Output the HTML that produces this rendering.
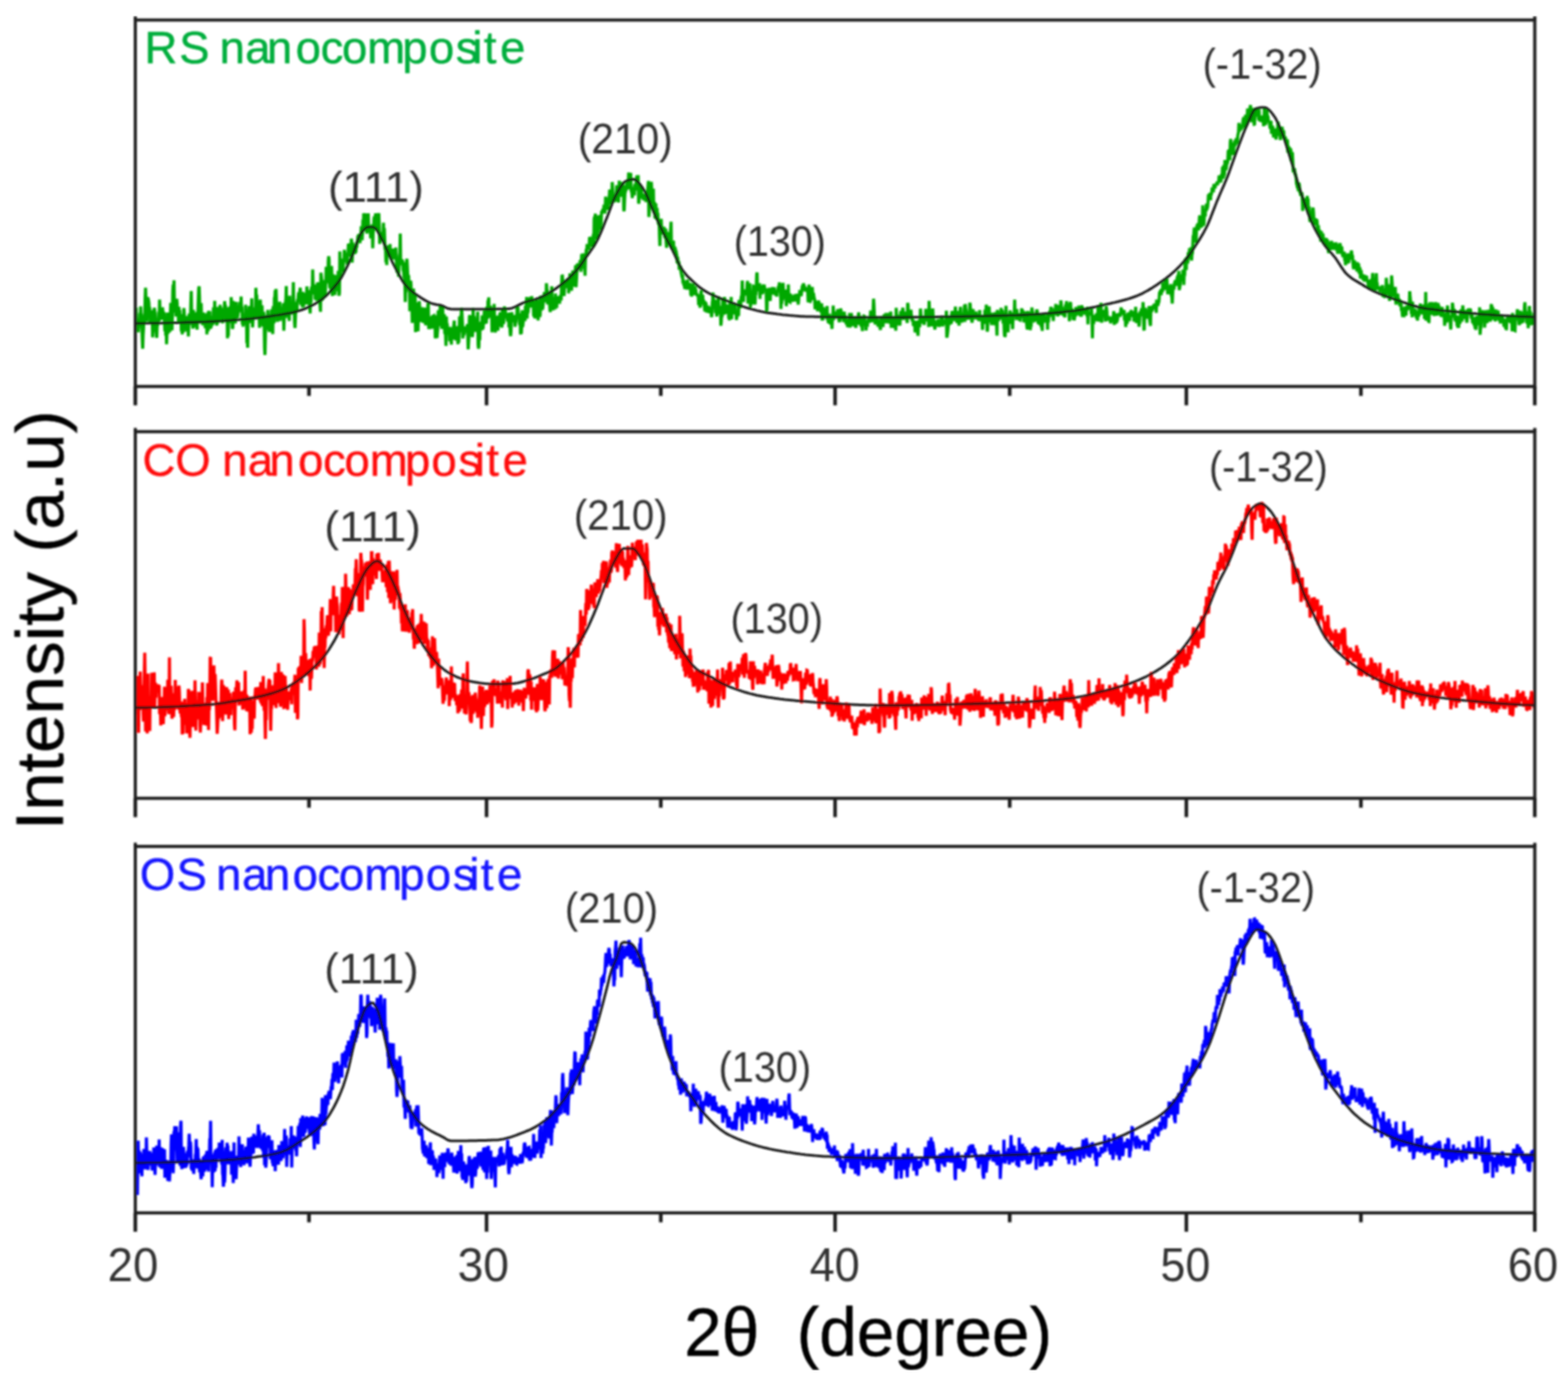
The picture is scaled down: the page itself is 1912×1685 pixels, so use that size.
<!DOCTYPE html><html><head><meta charset="utf-8"><title>XRD patterns</title><style>html,body{margin:0;padding:0;background:#fff;}svg{display:block;}</style></head><body>
<svg width="1912" height="1685" viewBox="0 0 1912 1685" font-family="'Liberation Sans', Arial, sans-serif">
<rect width="1912" height="1685" fill="#fff"/>
<defs><filter id="bl" x="0" y="0" width="1" height="1"><feGaussianBlur stdDeviation="0.8"/></filter></defs><g filter="url(#bl)">
<g><clipPath id="c1"><rect x="165.0" y="24.4" width="1706.5" height="446.8"/></clipPath>
<polyline clip-path="url(#c1)" points="165.5,385.8 166.0,375.1 166.5,397.2 167.0,398.1 167.5,388.8 168.0,394.2 168.5,405.2 169.0,399.3 169.5,395.9 170.0,395.2 170.5,381.5 171.0,396.4 171.5,373.5 172.0,384.1 172.5,382.6 173.0,399.7 173.5,413.2 174.0,425.1 174.5,408.3 175.0,401.0 175.5,384.8 176.0,392.7 176.5,386.8 177.0,363.4 177.5,350.8 178.0,365.9 178.5,385.8 179.0,391.9 179.5,370.1 180.1,362.5 180.6,364.4 181.1,366.1 181.6,369.4 182.1,382.2 182.6,374.5 183.1,393.9 183.6,386.7 184.1,389.5 184.6,394.3 185.1,392.1 185.6,378.2 186.1,411.3 186.6,403.2 187.1,403.7 187.6,384.6 188.1,375.4 188.6,378.5 189.1,382.7 189.6,399.6 190.1,400.4 190.6,405.7 191.1,411.9 191.6,398.3 192.1,396.5 192.6,389.7 193.1,388.6 193.6,380.0 194.1,392.0 194.6,365.2 195.1,380.1 195.6,374.8 196.1,383.9 196.6,389.9 197.1,379.1 197.6,381.0 198.1,374.8 198.6,378.8 199.1,380.2 199.6,382.8 200.1,382.8 200.6,393.8 201.1,404.0 201.6,387.5 202.1,409.2 202.6,395.8 203.1,419.8 203.6,405.6 204.1,381.0 204.6,407.1 205.1,391.0 205.6,405.7 206.1,397.8 206.6,397.7 207.1,404.8 207.6,391.2 208.2,369.2 208.7,374.0 209.2,395.3 209.7,402.8 210.2,384.5 210.7,354.8 211.2,346.8 211.7,362.2 212.2,341.8 212.7,370.8 213.2,381.2 213.7,379.9 214.2,375.9 214.7,386.0 215.2,366.1 215.7,366.1 216.2,372.5 216.7,376.8 217.2,374.1 217.7,394.6 218.2,374.4 218.7,386.4 219.2,378.1 219.7,387.6 220.2,383.3 220.7,385.6 221.2,404.1 221.7,389.4 222.2,407.8 222.7,388.4 223.2,391.5 223.7,405.1 224.2,375.6 224.7,382.5 225.2,396.7 225.7,400.6 226.2,401.5 226.7,394.3 227.2,385.2 227.7,404.2 228.2,400.9 228.7,387.4 229.2,396.8 229.7,410.2 230.2,394.8 230.7,382.4 231.2,387.2 231.7,386.3 232.2,391.1 232.7,370.5 233.2,354.8 233.7,381.9 234.2,396.4 234.7,394.8 235.2,400.7 235.7,377.9 236.2,382.6 236.8,399.2 237.3,382.5 237.8,392.5 238.3,388.2 238.8,381.0 239.3,398.0 239.8,384.0 240.3,401.9 240.8,380.0 241.3,382.4 241.8,366.5 242.3,352.3 242.8,349.0 243.3,362.5 243.8,389.1 244.3,393.9 244.8,393.1 245.3,369.6 245.8,389.2 246.3,392.9 246.8,383.8 247.3,396.7 247.8,381.6 248.3,382.8 248.8,385.3 249.3,386.5 249.8,384.0 250.3,400.1 250.8,382.6 251.3,386.9 251.8,384.8 252.3,407.8 252.8,381.5 253.3,392.7 253.8,403.9 254.3,379.1 254.8,382.5 255.3,387.2 255.8,379.5 256.3,401.1 256.8,387.2 257.3,399.7 257.8,395.1 258.3,390.1 258.8,396.9 259.3,385.4 259.8,395.5 260.3,374.9 260.8,378.7 261.3,394.2 261.8,366.8 262.3,388.0 262.8,381.0 263.3,380.5 263.8,379.9 264.3,396.9 264.8,374.4 265.4,394.1 265.9,391.3 266.4,383.7 266.9,386.0 267.4,391.7 267.9,380.1 268.4,371.5 268.9,385.0 269.4,374.8 269.9,377.4 270.4,380.4 270.9,385.5 271.4,394.1 271.9,382.2 272.4,380.6 272.9,386.7 273.4,382.8 273.9,367.2 274.4,376.4 274.9,371.5 275.4,387.5 275.9,392.5 276.4,385.4 276.9,374.6 277.4,412.4 277.9,398.9 278.4,409.7 278.9,376.5 279.4,376.0 279.9,376.8 280.4,389.1 280.9,384.3 281.4,393.8 281.9,362.3 282.4,377.1 282.9,385.9 283.4,401.0 283.9,398.8 284.4,366.9 284.9,390.2 285.4,390.5 285.9,391.4 286.4,384.5 286.9,394.5 287.4,380.5 287.9,368.1 288.4,384.7 288.9,380.9 289.4,387.7 289.9,385.0 290.4,380.5 290.9,379.7 291.4,379.4 291.9,372.8 292.4,368.3 292.9,371.8 293.5,378.3 294.0,361.6 294.5,377.3 295.0,373.9 295.5,395.4 296.0,390.5 296.5,398.3 297.0,383.2 297.5,395.8 298.0,382.9 298.5,383.8 299.0,386.2 299.5,371.6 300.0,378.0 300.5,377.4 301.0,418.4 301.5,415.5 302.0,423.9 302.5,387.5 303.0,386.7 303.5,385.8 304.0,373.2 304.5,393.9 305.0,383.7 305.5,383.4 306.0,380.5 306.5,377.3 307.0,363.8 307.5,382.9 308.0,399.1 308.5,389.7 309.0,379.7 309.5,374.9 310.0,382.7 310.5,385.6 311.0,381.7 311.5,389.2 312.0,350.9 312.5,366.8 313.0,359.2 313.5,377.0 314.0,378.8 314.5,383.5 315.0,386.6 315.5,380.9 316.0,385.0 316.5,399.7 317.0,367.8 317.5,365.5 318.0,382.9 318.5,375.4 319.0,385.0 319.5,372.4 320.0,387.3 320.5,397.7 321.0,397.1 321.5,380.4 322.1,387.6 322.6,424.6 323.1,432.8 323.6,411.4 324.1,386.1 324.6,402.1 325.1,390.4 325.6,384.8 326.1,400.6 326.6,377.9 327.1,384.5 327.6,396.2 328.1,402.6 328.6,404.6 329.1,387.5 329.6,402.2 330.1,386.0 330.6,394.3 331.1,378.9 331.6,377.5 332.1,398.7 332.6,407.3 333.1,373.2 333.6,377.7 334.1,394.1 334.6,363.6 335.1,363.3 335.6,353.8 336.1,367.9 336.6,352.3 337.1,368.8 337.6,373.6 338.1,392.5 338.6,382.8 339.1,374.0 339.6,378.4 340.1,384.6 340.6,390.2 341.1,367.8 341.6,391.3 342.1,388.2 342.6,375.7 343.1,378.5 343.6,386.0 344.1,380.4 344.6,384.3 345.1,375.3 345.6,369.6 346.1,403.2 346.6,385.5 347.1,385.8 347.6,387.8 348.1,368.4 348.6,364.7 349.1,348.8 349.6,381.1 350.1,382.1 350.7,387.2 351.2,376.3 351.7,383.9 352.2,382.5 352.7,391.3 353.2,360.5 353.7,380.2 354.2,381.5 354.7,383.3 355.2,377.1 355.7,369.8 356.2,380.9 356.7,378.0 357.2,368.3 357.7,344.1 358.2,379.2 358.7,368.1 359.2,393.6 359.7,399.9 360.2,388.8 360.7,373.9 361.2,371.4 361.7,379.3 362.2,377.3 362.7,365.0 363.2,368.3 363.7,361.5 364.2,356.5 364.7,366.2 365.2,359.8 365.7,354.7 366.2,350.8 366.7,371.7 367.2,357.9 367.7,358.2 368.2,366.0 368.7,374.6 369.2,355.7 369.7,374.1 370.2,371.7 370.7,358.4 371.2,358.0 371.7,364.3 372.2,363.3 372.7,361.5 373.2,371.0 373.7,369.3 374.2,349.2 374.7,361.4 375.2,369.1 375.7,357.7 376.2,371.2 376.7,353.5 377.2,365.6 377.7,373.7 378.2,382.2 378.8,358.9 379.3,369.0 379.8,349.6 380.3,356.9 380.8,358.7 381.3,328.6 381.8,349.6 382.3,352.8 382.8,353.4 383.3,356.1 383.8,346.8 384.3,364.9 384.8,361.8 385.3,366.3 385.8,357.7 386.3,348.6 386.8,360.3 387.3,344.3 387.8,346.9 388.3,369.7 388.8,361.3 389.3,356.0 389.8,363.9 390.3,373.2 390.8,380.2 391.3,332.5 391.8,336.8 392.3,340.8 392.8,366.8 393.3,350.6 393.8,364.8 394.3,357.0 394.8,343.5 395.3,341.7 395.8,350.3 396.3,362.6 396.8,354.4 397.3,340.3 397.8,325.4 398.3,332.6 398.8,345.4 399.3,334.4 399.8,345.2 400.3,318.7 400.8,312.5 401.3,316.9 401.8,346.6 402.3,351.6 402.8,343.3 403.3,342.1 403.8,354.5 404.3,324.4 404.8,339.3 405.3,361.0 405.8,340.8 406.3,334.6 406.8,339.5 407.4,338.5 407.9,342.5 408.4,359.6 408.9,335.2 409.4,339.9 409.9,355.2 410.4,345.5 410.9,344.5 411.4,337.8 411.9,346.7 412.4,330.3 412.9,344.2 413.4,360.6 413.9,356.8 414.4,306.6 414.9,338.2 415.4,331.7 415.9,324.2 416.4,326.2 416.9,315.3 417.4,331.3 417.9,330.3 418.4,326.8 418.9,319.1 419.4,319.7 419.9,304.6 420.4,311.7 420.9,312.3 421.4,313.0 421.9,318.7 422.4,310.5 422.9,308.2 423.4,322.8 423.9,311.0 424.4,308.0 424.9,297.0 425.4,301.3 425.9,309.3 426.4,312.6 426.9,296.5 427.4,309.6 427.9,312.1 428.4,291.0 428.9,295.3 429.4,320.3 429.9,303.6 430.4,295.9 430.9,305.1 431.4,300.1 431.9,304.9 432.4,308.8 432.9,308.3 433.4,302.0 433.9,308.2 434.4,298.5 434.9,302.0 435.4,295.6 436.0,294.0 436.5,287.2 437.0,290.4 437.5,285.4 438.0,286.9 438.5,289.0 439.0,296.5 439.5,285.0 440.0,290.8 440.5,275.8 441.0,282.0 441.5,292.9 442.0,285.0 442.5,267.7 443.0,280.3 443.5,260.0 444.0,269.7 444.5,264.5 445.0,260.0 445.5,268.4 446.0,281.5 446.5,280.4 447.0,281.1 447.5,284.8 448.0,261.0 448.5,276.1 449.0,260.0 449.5,274.8 450.0,275.8 450.5,275.0 451.0,282.6 451.5,281.0 452.0,290.6 452.5,284.0 453.0,282.3 453.5,280.0 454.0,273.6 454.5,302.6 455.0,284.1 455.5,280.5 456.0,268.1 456.5,263.8 457.0,279.6 457.5,275.2 458.0,260.0 458.5,266.9 459.0,279.0 459.5,279.2 460.0,272.5 460.5,266.1 461.0,260.0 461.5,262.8 462.0,262.6 462.5,276.2 463.0,297.5 463.5,285.3 464.1,293.8 464.6,286.3 465.1,284.9 465.6,286.1 466.1,282.8 466.6,292.8 467.1,283.4 467.6,271.5 468.1,291.0 468.6,278.1 469.1,291.7 469.6,304.7 470.1,301.4 470.6,320.0 471.1,314.8 471.6,323.1 472.1,299.6 472.6,304.2 473.1,307.5 473.6,307.6 474.1,299.2 474.6,310.8 475.1,310.7 475.6,297.5 476.1,311.6 476.6,309.3 477.1,313.5 477.6,303.1 478.1,309.3 478.6,310.3 479.1,303.1 479.6,316.4 480.1,310.7 480.6,316.4 481.1,306.9 481.6,305.0 482.1,308.0 482.6,301.8 483.1,313.5 483.6,323.3 484.1,332.1 484.6,330.6 485.1,331.8 485.6,331.6 486.1,337.4 486.6,322.3 487.1,311.4 487.6,308.7 488.1,284.7 488.6,320.7 489.1,320.3 489.6,323.3 490.1,317.4 490.6,316.8 491.1,319.8 491.6,330.5 492.1,329.9 492.7,339.0 493.2,319.7 493.7,338.9 494.2,368.3 494.7,348.0 495.2,356.1 495.7,321.7 496.2,315.5 496.7,324.5 497.2,335.9 497.7,338.5 498.2,335.4 498.7,345.0 499.2,344.9 499.7,379.4 500.2,356.7 500.7,342.2 501.2,346.5 501.7,366.9 502.2,370.2 502.7,393.7 503.2,356.1 503.7,365.7 504.2,351.9 504.7,359.3 505.2,373.0 505.7,375.9 506.2,358.0 506.7,404.9 507.2,393.7 507.7,368.8 508.2,379.4 508.7,396.1 509.2,390.7 509.7,403.9 510.2,385.2 510.7,387.5 511.2,367.2 511.7,373.2 512.2,379.6 512.7,389.8 513.2,392.4 513.7,380.1 514.2,374.6 514.7,388.8 515.2,381.3 515.7,388.5 516.2,393.6 516.7,390.4 517.2,378.3 517.7,376.8 518.2,375.2 518.7,392.8 519.2,396.4 519.7,380.4 520.2,384.9 520.7,382.4 521.3,389.1 521.8,370.0 522.3,370.5 522.8,401.2 523.3,399.0 523.8,392.5 524.3,401.2 524.8,388.1 525.3,396.4 525.8,385.9 526.3,387.5 526.8,400.8 527.3,384.5 527.8,390.8 528.3,385.3 528.8,385.0 529.3,394.9 529.8,395.7 530.3,384.2 530.8,412.5 531.3,408.1 531.8,390.1 532.3,400.4 532.8,412.1 533.3,406.2 533.8,401.1 534.3,380.2 534.8,378.5 535.3,388.7 535.8,397.7 536.3,388.7 536.8,372.1 537.3,377.4 537.8,390.0 538.3,389.3 538.8,401.0 539.3,393.7 539.8,373.8 540.3,396.2 540.8,398.2 541.3,386.3 541.8,383.0 542.3,405.8 542.8,406.8 543.3,407.0 543.8,421.7 544.3,385.9 544.8,399.8 545.3,394.3 545.8,403.4 546.3,400.5 546.8,404.8 547.3,407.4 547.8,404.0 548.3,416.1 548.8,398.6 549.4,405.9 549.9,410.2 550.4,420.2 550.9,399.9 551.4,400.7 551.9,414.0 552.4,410.9 552.9,400.1 553.4,396.9 553.9,390.9 554.4,410.1 554.9,410.5 555.4,413.9 555.9,410.4 556.4,415.0 556.9,414.2 557.4,402.5 557.9,397.7 558.4,419.6 558.9,402.4 559.4,417.8 559.9,405.1 560.4,385.7 560.9,405.1 561.4,396.7 561.9,387.0 562.4,382.7 562.9,375.4 563.4,383.5 563.9,394.1 564.4,412.6 564.9,407.5 565.4,407.7 565.9,407.5 566.4,401.5 566.9,398.4 567.4,401.8 567.9,405.4 568.4,397.9 568.9,401.3 569.4,402.6 569.9,395.2 570.4,409.2 570.9,426.0 571.4,417.7 571.9,409.4 572.4,386.8 572.9,384.2 573.4,410.1 573.9,403.7 574.4,398.5 574.9,392.6 575.4,402.6 575.9,411.0 576.4,406.6 576.9,375.5 577.4,400.9 578.0,385.5 578.5,392.7 579.0,403.7 579.5,402.8 580.0,404.2 580.5,400.7 581.0,388.3 581.5,399.6 582.0,390.6 582.5,380.0 583.0,419.8 583.5,425.1 584.0,422.0 584.5,394.2 585.0,414.8 585.5,394.3 586.0,394.0 586.5,399.8 587.0,399.7 587.5,402.8 588.0,384.6 588.5,390.3 589.0,401.4 589.5,394.4 590.0,393.6 590.5,380.2 591.0,379.2 591.5,382.8 592.0,389.8 592.5,393.4 593.0,394.1 593.5,374.0 594.0,387.3 594.5,388.6 595.0,366.3 595.5,366.9 596.0,362.6 596.5,387.4 597.0,373.7 597.5,379.9 598.0,372.8 598.5,382.4 599.0,386.7 599.5,380.2 600.0,405.2 600.5,376.3 601.0,402.9 601.5,395.5 602.0,386.7 602.5,370.6 603.0,385.6 603.5,384.5 604.0,405.4 604.5,395.0 605.0,389.9 605.5,392.2 606.0,385.4 606.6,387.1 607.1,403.3 607.6,389.4 608.1,384.6 608.6,395.4 609.1,396.5 609.6,382.9 610.1,380.9 610.6,398.0 611.1,396.3 611.6,396.9 612.1,399.3 612.6,379.4 613.1,375.9 613.6,394.4 614.1,393.8 614.6,387.9 615.1,373.6 615.6,380.2 616.1,377.7 616.6,383.3 617.1,386.3 617.6,387.2 618.1,382.0 618.6,387.2 619.1,392.1 619.6,388.0 620.1,382.6 620.6,399.3 621.1,381.0 621.6,392.0 622.1,405.0 622.6,409.7 623.1,404.3 623.6,390.2 624.1,380.7 624.6,389.3 625.1,391.7 625.6,392.4 626.1,384.0 626.6,387.0 627.1,391.8 627.6,390.3 628.1,398.4 628.6,392.9 629.1,392.4 629.6,383.9 630.1,387.4 630.6,372.8 631.1,382.8 631.6,374.3 632.1,386.1 632.6,389.0 633.1,386.4 633.6,396.5 634.1,382.0 634.7,407.7 635.2,405.1 635.7,407.0 636.2,397.1 636.7,378.4 637.2,398.6 637.7,395.8 638.2,389.5 638.7,382.0 639.2,384.9 639.7,379.5 640.2,391.4 640.7,372.9 641.2,373.4 641.7,379.8 642.2,362.1 642.7,388.4 643.2,375.5 643.7,381.9 644.2,376.9 644.7,362.6 645.2,373.6 645.7,375.0 646.2,363.1 646.7,363.5 647.2,362.6 647.7,374.8 648.2,361.2 648.7,363.9 649.2,370.2 649.7,372.5 650.2,368.6 650.7,384.3 651.2,385.6 651.7,367.0 652.2,388.3 652.7,379.6 653.2,381.0 653.7,381.6 654.2,366.7 654.7,367.0 655.2,378.2 655.7,369.6 656.2,390.8 656.7,370.4 657.2,379.3 657.7,365.9 658.2,386.4 658.7,383.9 659.2,360.5 659.7,372.1 660.2,369.5 660.7,378.5 661.2,363.5 661.7,377.0 662.2,372.4 662.7,363.9 663.3,361.8 663.8,356.2 664.3,368.5 664.8,364.5 665.3,355.9 665.8,366.2 666.3,345.3 666.8,351.5 667.3,354.1 667.8,371.1 668.3,366.2 668.8,357.2 669.3,363.0 669.8,362.6 670.3,372.7 670.8,380.5 671.3,377.5 671.8,367.5 672.3,372.4 672.8,349.0 673.3,376.0 673.8,363.6 674.3,378.3 674.8,370.0 675.3,372.4 675.8,371.0 676.3,362.1 676.8,377.1 677.3,357.8 677.8,369.0 678.3,373.7 678.8,375.4 679.3,364.2 679.8,365.1 680.3,366.6 680.8,361.2 681.3,366.1 681.8,361.5 682.3,370.4 682.8,365.6 683.3,361.1 683.8,361.0 684.3,366.1 684.8,346.6 685.3,335.4 685.8,336.0 686.3,343.3 686.8,346.8 687.3,357.6 687.8,360.8 688.3,349.8 688.8,350.5 689.3,341.6 689.8,343.9 690.3,345.9 690.8,351.3 691.3,346.1 691.9,340.8 692.4,344.2 692.9,339.2 693.4,357.8 693.9,341.5 694.4,354.6 694.9,333.2 695.4,336.3 695.9,351.1 696.4,339.2 696.9,354.5 697.4,345.5 697.9,349.0 698.4,329.7 698.9,340.9 699.4,337.2 699.9,349.4 700.4,335.3 700.9,337.2 701.4,330.5 701.9,323.5 702.4,350.2 702.9,342.3 703.4,331.7 703.9,321.8 704.4,326.8 704.9,321.0 705.4,322.6 705.9,326.7 706.4,321.8 706.9,328.6 707.4,317.0 707.9,321.1 708.4,331.5 708.9,317.3 709.4,309.5 709.9,328.0 710.4,317.9 710.9,311.1 711.4,309.1 711.9,319.0 712.4,327.4 712.9,322.5 713.4,336.2 713.9,311.7 714.4,312.6 714.9,303.6 715.4,308.1 715.9,297.6 716.4,299.8 716.9,301.6 717.4,300.4 717.9,304.5 718.4,301.1 718.9,289.1 719.4,290.3 720.0,297.7 720.5,300.7 721.0,295.2 721.5,289.0 722.0,292.5 722.5,297.8 723.0,298.4 723.5,285.4 724.0,301.3 724.5,267.4 725.0,263.9 725.5,266.9 726.0,260.5 726.5,286.0 727.0,286.4 727.5,291.6 728.0,289.4 728.5,281.8 729.0,262.9 729.5,283.3 730.0,272.3 730.5,265.7 731.0,270.9 731.5,262.2 732.0,280.2 732.5,273.0 733.0,272.6 733.5,259.4 734.0,259.5 734.5,260.0 735.0,254.7 735.5,256.3 736.0,257.7 736.5,249.7 737.0,252.9 737.5,260.3 738.0,252.6 738.5,239.8 739.0,244.2 739.5,244.8 740.0,245.5 740.5,248.9 741.0,241.4 741.5,256.0 742.0,244.4 742.5,248.2 743.0,239.1 743.5,231.1 744.0,246.2 744.5,247.6 745.0,248.1 745.5,240.6 746.0,241.8 746.5,222.0 747.0,229.5 747.5,239.4 748.0,241.7 748.6,241.3 749.1,243.5 749.6,244.2 750.1,243.2 750.6,243.0 751.1,239.9 751.6,234.8 752.1,225.9 752.6,238.9 753.1,245.5 753.6,239.1 754.1,247.0 754.6,238.2 755.1,220.4 755.6,238.3 756.1,225.3 756.6,229.6 757.1,227.2 757.6,229.3 758.1,239.6 758.6,237.2 759.1,221.8 759.6,233.0 760.1,226.1 760.6,255.9 761.1,257.4 761.6,244.7 762.1,234.3 762.6,233.9 763.1,231.0 763.6,232.2 764.1,223.8 764.6,226.0 765.1,223.0 765.6,223.4 766.1,222.9 766.6,210.4 767.1,222.5 767.6,230.9 768.1,217.5 768.6,223.4 769.1,210.8 769.6,230.9 770.1,230.6 770.6,236.6 771.1,241.5 771.6,228.1 772.1,229.6 772.6,237.5 773.1,231.5 773.6,238.3 774.1,224.2 774.6,232.2 775.1,226.8 775.6,223.4 776.1,218.4 776.7,213.9 777.2,216.2 777.7,226.4 778.2,213.6 778.7,248.3 779.2,246.1 779.7,229.7 780.2,227.2 780.7,238.3 781.2,233.1 781.7,226.1 782.2,236.3 782.7,242.2 783.2,236.0 783.7,237.5 784.2,241.5 784.7,243.9 785.2,242.4 785.7,237.8 786.2,243.7 786.7,238.4 787.2,237.8 787.7,246.3 788.2,236.9 788.7,233.7 789.2,241.7 789.7,233.0 790.2,226.6 790.7,220.6 791.2,264.5 791.7,258.8 792.2,234.0 792.7,225.6 793.2,235.7 793.7,248.6 794.2,221.7 794.7,230.7 795.2,232.8 795.7,235.5 796.2,243.8 796.7,230.1 797.2,256.9 797.7,258.8 798.2,246.3 798.7,266.4 799.2,255.1 799.7,248.1 800.2,262.7 800.7,267.9 801.2,253.5 801.7,265.5 802.2,259.5 802.7,271.8 803.2,273.9 803.7,267.3 804.2,287.7 804.7,299.9 805.3,273.2 805.8,282.0 806.3,266.9 806.8,280.9 807.3,285.8 807.8,282.1 808.3,280.0 808.8,276.3 809.3,285.1 809.8,276.9 810.3,284.7 810.8,290.4 811.3,285.7 811.8,278.8 812.3,294.7 812.8,302.1 813.3,291.8 813.8,293.7 814.3,284.8 814.8,285.1 815.3,286.6 815.8,284.2 816.3,296.6 816.8,285.5 817.3,283.0 817.8,279.3 818.3,270.4 818.8,302.8 819.3,300.0 819.8,294.9 820.3,299.5 820.8,294.3 821.3,294.8 821.8,308.7 822.3,300.9 822.8,302.6 823.3,301.6 823.8,306.2 824.3,305.2 824.8,309.0 825.3,311.1 825.8,321.0 826.3,313.3 826.8,318.2 827.3,322.2 827.8,318.5 828.3,328.8 828.8,327.1 829.3,325.8 829.8,325.8 830.3,330.8 830.8,333.6 831.3,335.8 831.8,338.9 832.3,334.5 832.8,345.7 833.3,340.8 833.9,348.4 834.4,342.4 834.9,352.4 835.4,348.2 835.9,345.1 836.4,348.1 836.9,352.5 837.4,342.4 837.9,353.2 838.4,340.9 838.9,353.2 839.4,347.4 839.9,345.2 840.4,348.9 840.9,345.1 841.4,347.5 841.9,350.1 842.4,360.2 842.9,353.8 843.4,361.6 843.9,352.3 844.4,355.6 844.9,345.5 845.4,357.9 845.9,355.6 846.4,357.2 846.9,359.6 847.4,349.0 847.9,353.7 848.4,352.4 848.9,358.7 849.4,357.8 849.9,359.6 850.4,359.6 850.9,360.0 851.4,360.2 851.9,372.0 852.4,366.7 852.9,360.1 853.4,373.8 853.9,374.7 854.4,370.7 854.9,354.0 855.4,362.0 855.9,370.3 856.4,366.3 856.9,359.4 857.4,369.7 857.9,365.3 858.4,371.5 858.9,372.2 859.4,379.7 859.9,367.4 860.4,379.4 860.9,369.0 861.4,381.0 862.0,378.7 862.5,378.7 863.0,377.3 863.5,372.6 864.0,378.3 864.5,378.6 865.0,381.7 865.5,376.3 866.0,376.1 866.5,380.8 867.0,376.6 867.5,386.6 868.0,384.3 868.5,370.2 869.0,365.7 869.5,356.7 870.0,373.9 870.5,365.2 871.0,367.3 871.5,372.4 872.0,374.7 872.5,381.8 873.0,378.4 873.5,375.6 874.0,385.9 874.5,365.6 875.0,371.1 875.5,378.3 876.0,361.1 876.5,373.6 877.0,383.2 877.5,380.4 878.0,374.5 878.5,374.7 879.0,397.1 879.5,392.5 880.0,380.4 880.5,386.6 881.0,375.3 881.5,363.6 882.0,371.9 882.5,367.2 883.0,369.3 883.5,362.1 884.0,382.1 884.5,382.5 885.0,371.0 885.5,374.4 886.0,372.8 886.5,374.3 887.0,381.1 887.5,374.5 888.0,371.4 888.5,388.2 889.0,387.3 889.5,390.4 890.0,371.1 890.6,369.1 891.1,383.1 891.6,362.1 892.1,389.3 892.6,370.9 893.1,374.8 893.6,374.3 894.1,378.3 894.6,371.7 895.1,373.1 895.6,373.5 896.1,383.4 896.6,372.4 897.1,381.8 897.6,381.2 898.1,390.1 898.6,379.6 899.1,386.0 899.6,384.5 900.1,382.7 900.6,385.1 901.1,365.8 901.6,375.9 902.1,369.8 902.6,368.0 903.1,375.4 903.6,363.6 904.1,361.3 904.6,360.8 905.1,342.1 905.6,358.6 906.1,353.5 906.6,368.1 907.1,352.9 907.6,359.1 908.1,356.9 908.6,355.1 909.1,357.0 909.6,353.9 910.1,360.1 910.6,358.0 911.1,345.9 911.6,342.6 912.1,370.1 912.6,346.9 913.1,360.9 913.6,358.3 914.1,345.4 914.6,358.2 915.1,374.6 915.6,368.5 916.1,357.1 916.6,366.1 917.1,362.7 917.6,371.2 918.1,359.8 918.6,348.8 919.2,349.0 919.7,348.1 920.2,364.0 920.7,371.3 921.2,356.1 921.7,359.9 922.2,349.5 922.7,335.0 923.2,332.2 923.7,355.2 924.2,346.6 924.7,350.0 925.2,349.2 925.7,352.6 926.2,345.2 926.7,364.5 927.2,347.9 927.7,349.7 928.2,355.5 928.7,348.4 929.2,357.7 929.7,357.3 930.2,357.7 930.7,348.1 931.2,347.6 931.7,350.2 932.2,349.8 932.7,352.7 933.2,354.5 933.7,353.5 934.2,351.6 934.7,378.1 935.2,379.2 935.7,360.6 936.2,359.8 936.7,359.5 937.2,366.2 937.7,354.7 938.2,351.0 938.7,356.5 939.2,366.8 939.7,355.1 940.2,355.0 940.7,354.7 941.2,357.4 941.7,351.9 942.2,350.3 942.7,355.4 943.2,358.9 943.7,355.7 944.2,350.5 944.7,357.4 945.2,354.8 945.7,360.3 946.2,355.2 946.7,357.1 947.3,361.5 947.8,356.6 948.3,354.5 948.8,352.6 949.3,348.8 949.8,355.1 950.3,344.3 950.8,347.8 951.3,345.8 951.8,353.7 952.3,376.8 952.8,359.3 953.3,370.4 953.8,354.6 954.3,366.8 954.8,344.9 955.3,354.4 955.8,363.2 956.3,361.3 956.8,364.2 957.3,353.0 957.8,361.0 958.3,359.1 958.8,373.3 959.3,364.0 959.8,364.0 960.3,360.3 960.8,369.3 961.3,346.7 961.8,364.0 962.3,357.5 962.8,368.0 963.3,368.3 963.8,358.4 964.3,360.3 964.8,366.6 965.3,363.9 965.8,360.1 966.3,365.4 966.8,367.8 967.3,363.6 967.8,360.6 968.3,364.2 968.8,360.3 969.3,359.2 969.8,362.4 970.3,367.0 970.8,366.5 971.3,360.7 971.8,358.3 972.3,360.0 972.8,361.3 973.3,371.3 973.8,366.8 974.3,359.3 974.8,360.9 975.3,353.7 975.9,358.1 976.4,359.1 976.9,360.9 977.4,357.6 977.9,352.4 978.4,348.3 978.9,349.6 979.4,346.0 979.9,346.6 980.4,348.2 980.9,349.2 981.4,355.0 981.9,351.6 982.4,352.7 982.9,355.4 983.4,351.7 983.9,350.5 984.4,354.7 984.9,353.7 985.4,367.3 985.9,367.9 986.4,347.1 986.9,349.5 987.4,368.4 987.9,368.0 988.4,365.8 988.9,364.0 989.4,365.9 989.9,354.6 990.4,350.0 990.9,356.4 991.4,363.3 991.9,357.3 992.4,360.7 992.9,364.0 993.4,364.9 993.9,377.2 994.4,366.6 994.9,373.1 995.4,372.6 995.9,370.2 996.4,369.8 996.9,378.1 997.4,379.3 997.9,366.5 998.4,368.5 998.9,369.2 999.4,374.7 999.9,372.0 1000.4,370.9 1000.9,380.8 1001.4,375.6 1001.9,369.7 1002.4,388.7 1002.9,388.6 1003.4,390.6 1003.9,374.8 1004.5,376.6 1005.0,378.8 1005.5,385.1 1006.0,380.7 1006.5,386.0 1007.0,387.8 1007.5,377.4 1008.0,384.5 1008.5,373.0 1009.0,390.5 1009.5,384.9 1010.0,394.0 1010.5,391.2 1011.0,394.2 1011.5,382.5 1012.0,394.9 1012.5,394.5 1013.0,386.0 1013.5,391.1 1014.0,394.3 1014.5,401.0 1015.0,387.1 1015.5,389.6 1016.0,372.6 1016.5,390.3 1017.0,380.1 1017.5,383.1 1018.0,386.0 1018.5,384.8 1019.0,382.6 1019.5,382.1 1020.0,380.4 1020.5,387.9 1021.0,383.4 1021.5,376.8 1022.0,385.7 1022.5,386.2 1023.0,390.3 1023.5,392.9 1024.0,385.2 1024.5,392.5 1025.0,376.1 1025.5,378.3 1026.0,385.7 1026.5,388.4 1027.0,387.4 1027.5,379.9 1028.0,388.7 1028.5,383.3 1029.0,392.6 1029.5,380.1 1030.0,393.0 1030.5,384.5 1031.0,388.8 1031.5,392.2 1032.0,395.5 1032.6,388.9 1033.1,393.5 1033.6,398.9 1034.1,393.5 1034.6,396.4 1035.1,393.6 1035.6,399.3 1036.1,381.5 1036.6,399.4 1037.1,393.0 1037.6,392.3 1038.1,381.7 1038.6,387.8 1039.1,388.2 1039.6,397.7 1040.1,391.2 1040.6,388.3 1041.1,391.9 1041.6,389.6 1042.1,387.6 1042.6,386.8 1043.1,397.2 1043.6,399.6 1044.1,391.5 1044.6,393.3 1045.1,395.7 1045.6,389.1 1046.1,392.5 1046.6,384.6 1047.1,381.0 1047.6,386.9 1048.1,396.1 1048.6,390.6 1049.1,385.4 1049.6,394.1 1050.1,398.4 1050.6,388.5 1051.1,396.1 1051.6,403.7 1052.1,391.5 1052.6,393.7 1053.1,389.3 1053.6,385.5 1054.1,385.7 1054.6,396.8 1055.1,394.7 1055.6,391.7 1056.1,402.8 1056.6,392.1 1057.1,394.9 1057.6,398.4 1058.1,391.6 1058.6,389.6 1059.1,391.4 1059.6,387.9 1060.1,392.8 1060.6,392.1 1061.2,387.0 1061.7,378.5 1062.2,385.0 1062.7,380.5 1063.2,384.1 1063.7,387.3 1064.2,392.8 1064.7,377.1 1065.2,364.2 1065.7,371.6 1066.2,383.4 1066.7,387.5 1067.2,395.6 1067.7,390.9 1068.2,390.2 1068.7,386.7 1069.2,386.1 1069.7,388.4 1070.2,393.2 1070.7,398.3 1071.2,394.0 1071.7,390.7 1072.2,391.5 1072.7,395.8 1073.2,400.6 1073.7,402.3 1074.2,388.1 1074.7,385.6 1075.2,396.7 1075.7,395.8 1076.2,396.3 1076.7,398.7 1077.2,388.8 1077.7,393.0 1078.2,383.2 1078.7,393.9 1079.2,386.9 1079.7,386.5 1080.2,381.7 1080.7,393.9 1081.2,392.0 1081.7,390.9 1082.2,381.6 1082.7,384.8 1083.2,394.0 1083.7,388.5 1084.2,390.3 1084.7,391.2 1085.2,387.6 1085.7,394.9 1086.2,379.9 1086.7,397.4 1087.2,397.2 1087.7,392.0 1088.2,393.7 1088.7,389.9 1089.2,399.9 1089.8,388.9 1090.3,388.0 1090.8,395.5 1091.3,391.7 1091.8,393.3 1092.3,403.2 1092.8,375.2 1093.3,388.2 1093.8,389.9 1094.3,395.3 1094.8,395.9 1095.3,394.1 1095.8,383.8 1096.3,390.3 1096.8,391.6 1097.3,397.0 1097.8,388.0 1098.3,379.5 1098.8,380.6 1099.3,379.2 1099.8,389.5 1100.3,386.9 1100.8,375.1 1101.3,380.5 1101.8,390.1 1102.3,379.8 1102.8,387.4 1103.3,383.9 1103.8,387.2 1104.3,384.3 1104.8,380.3 1105.3,382.4 1105.8,389.2 1106.3,393.7 1106.8,369.4 1107.3,372.0 1107.8,388.1 1108.3,379.9 1108.8,380.2 1109.3,388.2 1109.8,387.5 1110.3,382.0 1110.8,377.7 1111.3,384.5 1111.8,385.8 1112.3,391.9 1112.8,389.0 1113.3,391.5 1113.8,397.3 1114.3,396.0 1114.8,391.9 1115.3,391.5 1115.8,405.3 1116.3,402.7 1116.8,391.2 1117.3,394.8 1117.9,391.7 1118.4,403.6 1118.9,403.9 1119.4,409.4 1119.9,395.7 1120.4,390.5 1120.9,391.8 1121.4,398.8 1121.9,392.1 1122.4,376.2 1122.9,382.4 1123.4,389.7 1123.9,394.4 1124.4,388.9 1124.9,390.6 1125.4,388.4 1125.9,386.3 1126.4,388.8 1126.9,396.0 1127.4,390.1 1127.9,386.1 1128.4,391.9 1128.9,376.6 1129.4,385.8 1129.9,381.3 1130.4,379.2 1130.9,382.3 1131.4,384.3 1131.9,380.3 1132.4,398.8 1132.9,366.9 1133.4,377.7 1133.9,378.4 1134.4,397.9 1134.9,392.2 1135.4,388.2 1135.9,388.3 1136.4,393.8 1136.9,384.0 1137.4,376.1 1137.9,385.9 1138.4,398.1 1138.9,396.9 1139.4,389.6 1139.9,401.8 1140.4,396.4 1140.9,393.3 1141.4,393.6 1141.9,397.1 1142.4,393.6 1142.9,393.2 1143.4,398.0 1143.9,389.0 1144.4,394.9 1144.9,394.7 1145.4,398.6 1145.9,394.6 1146.5,396.3 1147.0,396.2 1147.5,396.7 1148.0,386.8 1148.5,388.5 1149.0,388.5 1149.5,398.0 1150.0,393.9 1150.5,391.0 1151.0,391.5 1151.5,389.4 1152.0,395.9 1152.5,389.3 1153.0,394.1 1153.5,392.7 1154.0,378.7 1154.5,411.6 1155.0,409.0 1155.5,405.8 1156.0,401.0 1156.5,394.9 1157.0,388.2 1157.5,385.2 1158.0,396.0 1158.5,389.7 1159.0,390.9 1159.5,392.4 1160.0,395.0 1160.5,382.8 1161.0,379.2 1161.5,391.7 1162.0,384.2 1162.5,386.3 1163.0,388.6 1163.5,391.3 1164.0,380.4 1164.5,381.3 1165.0,373.9 1165.5,385.2 1166.0,384.1 1166.5,384.9 1167.0,393.8 1167.5,380.8 1168.0,379.3 1168.5,382.9 1169.0,391.6 1169.5,397.0 1170.0,384.9 1170.5,392.7 1171.0,374.2 1171.5,376.4 1172.0,385.7 1172.5,393.4 1173.0,386.4 1173.5,392.6 1174.0,385.0 1174.5,387.8 1175.1,381.3 1175.6,387.8 1176.1,371.5 1176.6,392.4 1177.1,370.7 1177.6,375.9 1178.1,378.1 1178.6,381.9 1179.1,383.5 1179.6,380.2 1180.1,389.8 1180.6,383.9 1181.1,381.5 1181.6,385.3 1182.1,389.6 1182.6,369.0 1183.1,371.7 1183.6,380.8 1184.1,386.1 1184.6,384.5 1185.1,393.3 1185.6,391.7 1186.1,378.1 1186.6,377.2 1187.1,386.3 1187.6,389.0 1188.1,383.5 1188.6,387.2 1189.1,381.9 1189.6,389.3 1190.1,379.8 1190.6,387.1 1191.1,389.0 1191.6,385.1 1192.1,386.2 1192.6,386.4 1193.1,390.4 1193.6,382.4 1194.1,391.6 1194.6,378.0 1195.1,391.4 1195.6,386.8 1196.1,389.2 1196.6,390.7 1197.1,387.2 1197.6,391.6 1198.1,402.1 1198.6,386.4 1199.1,391.4 1199.6,393.5 1200.1,394.5 1200.6,388.5 1201.1,377.6 1201.6,387.8 1202.1,387.4 1202.6,371.5 1203.2,377.1 1203.7,404.3 1204.2,402.6 1204.7,386.3 1205.2,392.6 1205.7,382.7 1206.2,373.6 1206.7,386.6 1207.2,384.8 1207.7,384.2 1208.2,393.1 1208.7,384.7 1209.2,396.4 1209.7,390.6 1210.2,381.4 1210.7,391.2 1211.2,381.9 1211.7,390.2 1212.2,396.4 1212.7,392.4 1213.2,384.8 1213.7,380.6 1214.2,386.6 1214.7,381.3 1215.2,395.7 1215.7,409.1 1216.2,377.9 1216.7,386.0 1217.2,390.0 1217.7,391.5 1218.2,380.8 1218.7,386.1 1219.2,379.9 1219.7,383.3 1220.2,388.7 1220.7,375.3 1221.2,385.1 1221.7,389.5 1222.2,378.0 1222.7,382.5 1223.2,394.5 1223.7,387.9 1224.2,392.9 1224.7,406.6 1225.2,410.6 1225.7,409.5 1226.2,391.1 1226.7,372.8 1227.2,395.4 1227.7,387.8 1228.2,389.7 1228.7,390.7 1229.2,405.2 1229.7,386.9 1230.2,391.3 1230.7,394.7 1231.2,381.9 1231.8,378.6 1232.3,384.3 1232.8,386.2 1233.3,386.6 1233.8,384.8 1234.3,392.0 1234.8,401.3 1235.3,384.4 1235.8,381.2 1236.3,383.8 1236.8,382.3 1237.3,365.4 1237.8,383.2 1238.3,380.6 1238.8,381.2 1239.3,390.3 1239.8,376.9 1240.3,383.1 1240.8,383.3 1241.3,390.0 1241.8,382.2 1242.3,388.5 1242.8,388.9 1243.3,390.1 1243.8,390.3 1244.3,385.8 1244.8,381.9 1245.3,384.0 1245.8,375.8 1246.3,387.7 1246.8,377.8 1247.3,380.7 1247.8,379.9 1248.3,391.0 1248.8,391.2 1249.3,392.9 1249.8,388.3 1250.3,384.1 1250.8,379.6 1251.3,387.5 1251.8,393.7 1252.3,398.9 1252.8,401.7 1253.3,381.0 1253.8,379.7 1254.3,382.1 1254.8,387.8 1255.3,394.4 1255.8,387.7 1256.3,402.5 1256.8,396.8 1257.3,398.6 1257.8,385.1 1258.3,374.9 1258.8,381.7 1259.3,381.5 1259.8,384.5 1260.4,389.7 1260.9,386.6 1261.4,390.9 1261.9,390.6 1262.4,391.4 1262.9,387.8 1263.4,389.7 1263.9,380.2 1264.4,377.2 1264.9,380.6 1265.4,387.4 1265.9,395.0 1266.4,390.6 1266.9,383.8 1267.4,394.8 1267.9,395.0 1268.4,393.3 1268.9,383.5 1269.4,393.3 1269.9,399.3 1270.4,396.9 1270.9,403.4 1271.4,382.5 1271.9,384.3 1272.4,388.6 1272.9,386.7 1273.4,383.3 1273.9,389.9 1274.4,386.9 1274.9,391.0 1275.4,390.7 1275.9,390.3 1276.4,385.0 1276.9,386.0 1277.4,401.9 1277.9,381.3 1278.4,393.0 1278.9,386.1 1279.4,385.4 1279.9,379.1 1280.4,381.0 1280.9,379.9 1281.4,374.1 1281.9,376.1 1282.4,386.5 1282.9,375.6 1283.4,380.6 1283.9,384.0 1284.4,391.4 1284.9,380.9 1285.4,378.5 1285.9,377.8 1286.4,384.4 1286.9,378.4 1287.4,370.7 1287.9,375.1 1288.5,379.3 1289.0,383.6 1289.5,376.8 1290.0,385.8 1290.5,371.7 1291.0,377.0 1291.5,379.8 1292.0,378.3 1292.5,377.2 1293.0,384.2 1293.5,366.2 1294.0,369.1 1294.5,380.3 1295.0,374.1 1295.5,381.4 1296.0,382.2 1296.5,382.1 1297.0,385.1 1297.5,376.5 1298.0,382.2 1298.5,387.0 1299.0,374.2 1299.5,371.0 1300.0,380.1 1300.5,367.1 1301.0,378.7 1301.5,376.0 1302.0,380.9 1302.5,372.9 1303.0,369.8 1303.5,379.1 1304.0,391.6 1304.5,372.1 1305.0,369.4 1305.5,368.6 1306.0,379.2 1306.5,383.0 1307.0,376.2 1307.5,381.8 1308.0,383.8 1308.5,390.2 1309.0,381.7 1309.5,378.7 1310.0,390.7 1310.5,384.2 1311.0,386.7 1311.5,378.7 1312.0,374.4 1312.5,379.3 1313.0,382.6 1313.5,383.4 1314.0,384.2 1314.5,376.6 1315.0,380.3 1315.5,372.5 1316.0,375.1 1316.5,378.1 1317.1,379.9 1317.6,385.8 1318.1,383.0 1318.6,386.1 1319.1,372.0 1319.6,380.8 1320.1,374.3 1320.6,383.6 1321.1,377.9 1321.6,380.9 1322.1,383.5 1322.6,380.7 1323.1,376.1 1323.6,377.9 1324.1,377.1 1324.6,378.8 1325.1,380.3 1325.6,386.2 1326.1,374.1 1326.6,395.4 1327.1,383.4 1327.6,384.7 1328.1,381.7 1328.6,382.9 1329.1,383.6 1329.6,382.0 1330.1,382.4 1330.6,376.6 1331.1,378.4 1331.6,385.9 1332.1,412.4 1332.6,386.6 1333.1,392.0 1333.6,395.1 1334.1,384.8 1334.6,385.6 1335.1,384.0 1335.6,390.0 1336.1,389.9 1336.6,391.3 1337.1,381.8 1337.6,385.6 1338.1,382.5 1338.6,386.2 1339.1,372.2 1339.6,392.2 1340.1,380.6 1340.6,387.4 1341.1,379.5 1341.6,385.2 1342.1,381.6 1342.6,369.2 1343.1,391.6 1343.6,393.2 1344.1,380.7 1344.6,384.1 1345.2,379.5 1345.7,381.2 1346.2,379.3 1346.7,378.4 1347.2,380.5 1347.7,386.4 1348.2,392.0 1348.7,373.5 1349.2,375.7 1349.7,379.1 1350.2,390.3 1350.7,387.2 1351.2,391.0 1351.7,386.7 1352.2,385.9 1352.7,388.7 1353.2,387.6 1353.7,387.7 1354.2,394.0 1354.7,392.2 1355.2,388.4 1355.7,386.8 1356.2,390.4 1356.7,391.5 1357.2,387.0 1357.7,384.0 1358.2,379.4 1358.7,396.2 1359.2,388.3 1359.7,387.2 1360.2,391.7 1360.7,394.7 1361.2,382.0 1361.7,393.1 1362.2,391.1 1362.7,389.6 1363.2,382.5 1363.7,383.1 1364.2,385.4 1364.7,383.6 1365.2,382.2 1365.7,385.9 1366.2,384.2 1366.7,378.5 1367.2,374.8 1367.7,381.5 1368.2,382.2 1368.7,377.8 1369.2,379.3 1369.7,378.1 1370.2,384.1 1370.7,378.2 1371.2,390.6 1371.7,386.3 1372.2,389.1 1372.7,398.6 1373.2,390.2 1373.8,383.1 1374.3,394.9 1374.8,389.2 1375.3,382.6 1375.8,382.1 1376.3,386.4 1376.8,384.3 1377.3,391.5 1377.8,380.4 1378.3,385.4 1378.8,384.2 1379.3,377.8 1379.8,383.7 1380.3,381.0 1380.8,381.1 1381.3,382.1 1381.8,386.9 1382.3,384.6 1382.8,392.1 1383.3,382.3 1383.8,379.4 1384.3,386.1 1384.8,374.0 1385.3,391.1 1385.8,393.7 1386.3,390.4 1386.8,386.7 1387.3,383.5 1387.8,387.6 1388.3,381.6 1388.8,398.1 1389.3,395.2 1389.8,387.7 1390.3,379.4 1390.8,385.5 1391.3,381.7 1391.8,378.3 1392.3,378.6 1392.8,381.8 1393.3,382.5 1393.8,368.3 1394.3,377.1 1394.8,401.5 1395.3,402.7 1395.8,380.8 1396.3,377.8 1396.8,375.3 1397.3,386.4 1397.8,377.9 1398.3,381.8 1398.8,384.6 1399.3,388.2 1399.8,386.2 1400.3,383.0 1400.8,380.7 1401.3,373.0 1401.8,390.0 1402.4,394.7 1402.9,397.3 1403.4,374.1 1403.9,374.5 1404.4,379.5 1404.9,378.6 1405.4,376.6 1405.9,374.9 1406.4,372.4 1406.9,376.2 1407.4,370.5 1407.9,373.3 1408.4,377.2 1408.9,369.9 1409.4,371.8 1409.9,381.5 1410.4,365.4 1410.9,367.3 1411.4,369.2 1411.9,372.9 1412.4,368.8 1412.9,369.5 1413.4,365.6 1413.9,357.0 1414.4,356.1 1414.9,356.8 1415.4,356.8 1415.9,359.9 1416.4,352.0 1416.9,354.7 1417.4,356.5 1417.9,344.8 1418.4,353.4 1418.9,352.3 1419.4,350.4 1419.9,350.0 1420.4,342.6 1420.9,346.3 1421.4,353.3 1421.9,340.7 1422.4,349.0 1422.9,340.2 1423.4,350.7 1423.9,358.7 1424.4,354.0 1424.9,358.1 1425.4,350.5 1425.9,348.9 1426.4,358.6 1426.9,356.2 1427.4,346.9 1427.9,347.9 1428.4,361.5 1428.9,360.7 1429.4,370.2 1429.9,358.9 1430.5,348.5 1431.0,350.0 1431.5,353.2 1432.0,346.0 1432.5,344.1 1433.0,343.1 1433.5,341.8 1434.0,344.4 1434.5,348.4 1435.0,343.4 1435.5,337.4 1436.0,338.0 1436.5,335.1 1437.0,337.3 1437.5,330.3 1438.0,353.8 1438.5,350.6 1439.0,347.7 1439.5,335.6 1440.0,336.0 1440.5,337.4 1441.0,337.6 1441.5,342.0 1442.0,341.6 1442.5,328.9 1443.0,339.2 1443.5,347.5 1444.0,333.6 1444.5,336.7 1445.0,322.7 1445.5,315.1 1446.0,325.6 1446.5,329.3 1447.0,313.4 1447.5,319.7 1448.0,320.9 1448.5,319.1 1449.0,307.6 1449.5,315.4 1450.0,311.2 1450.5,302.5 1451.0,306.1 1451.5,308.6 1452.0,308.4 1452.5,301.3 1453.0,317.7 1453.5,309.3 1454.0,308.7 1454.5,297.2 1455.0,286.8 1455.5,289.2 1456.0,281.3 1456.5,277.6 1457.0,279.7 1457.5,291.9 1458.0,293.7 1458.5,295.6 1459.1,277.8 1459.6,274.5 1460.1,278.0 1460.6,272.1 1461.1,275.8 1461.6,280.9 1462.1,274.4 1462.6,264.9 1463.1,262.8 1463.6,277.5 1464.1,276.2 1464.6,272.3 1465.1,276.9 1465.6,273.2 1466.1,273.1 1466.6,250.3 1467.1,273.5 1467.6,275.3 1468.1,272.0 1468.6,263.7 1469.1,262.3 1469.6,263.9 1470.1,254.6 1470.6,258.0 1471.1,248.3 1471.6,255.9 1472.1,253.3 1472.6,252.2 1473.1,246.1 1473.6,236.8 1474.1,241.7 1474.6,239.9 1475.1,236.5 1475.6,235.6 1476.1,244.1 1476.6,235.4 1477.1,237.6 1477.6,234.6 1478.1,228.6 1478.6,232.6 1479.1,229.5 1479.6,234.5 1480.1,226.4 1480.6,224.4 1481.1,229.0 1481.6,229.5 1482.1,225.5 1482.6,224.7 1483.1,226.1 1483.6,224.1 1484.1,221.6 1484.6,225.7 1485.1,221.2 1485.6,223.5 1486.1,220.7 1486.6,213.9 1487.1,215.9 1487.7,220.3 1488.2,216.3 1488.7,222.5 1489.2,214.2 1489.7,212.5 1490.2,218.5 1490.7,203.3 1491.2,206.6 1491.7,217.6 1492.2,201.3 1492.7,214.6 1493.2,210.2 1493.7,195.1 1494.2,200.2 1494.7,207.1 1495.2,205.8 1495.7,201.9 1496.2,198.2 1496.7,199.9 1497.2,195.4 1497.7,183.3 1498.2,187.2 1498.7,182.1 1499.2,187.4 1499.7,195.4 1500.2,173.6 1500.7,169.4 1501.2,179.1 1501.7,173.8 1502.2,183.1 1502.7,183.9 1503.2,189.0 1503.7,182.6 1504.2,188.3 1504.7,175.6 1505.2,179.5 1505.7,171.1 1506.2,176.5 1506.7,177.2 1507.2,168.5 1507.7,170.4 1508.2,169.2 1508.7,175.2 1509.2,166.5 1509.7,163.5 1510.2,161.9 1510.7,149.9 1511.2,158.1 1511.7,160.7 1512.2,155.0 1512.7,154.6 1513.2,155.6 1513.7,158.3 1514.2,154.3 1514.7,153.2 1515.2,152.7 1515.8,146.1 1516.3,144.3 1516.8,143.1 1517.3,148.3 1517.8,150.0 1518.3,156.7 1518.8,139.9 1519.3,142.5 1519.8,147.4 1520.3,153.2 1520.8,144.0 1521.3,132.4 1521.8,140.8 1522.3,144.8 1522.8,145.8 1523.3,138.8 1523.8,133.1 1524.3,131.1 1524.8,128.0 1525.3,138.0 1525.8,133.5 1526.3,149.2 1526.8,131.6 1527.3,137.0 1527.8,138.1 1528.3,137.0 1528.8,138.0 1529.3,152.1 1529.8,152.5 1530.3,136.5 1530.8,133.3 1531.3,131.9 1531.8,132.5 1532.3,134.0 1532.8,141.9 1533.3,141.2 1533.8,135.1 1534.3,137.2 1534.8,146.7 1535.3,133.4 1535.8,144.3 1536.3,147.9 1536.8,141.1 1537.3,146.9 1537.8,147.1 1538.3,146.0 1538.8,140.9 1539.3,146.3 1539.8,141.5 1540.3,143.0 1540.8,153.8 1541.3,146.1 1541.8,131.9 1542.3,142.6 1542.8,143.9 1543.3,152.2 1543.8,149.0 1544.4,146.9 1544.9,133.8 1545.4,148.1 1545.9,140.9 1546.4,144.0 1546.9,148.8 1547.4,148.3 1547.9,147.6 1548.4,153.7 1548.9,156.9 1549.4,148.0 1549.9,148.5 1550.4,163.1 1550.9,158.7 1551.4,155.6 1551.9,153.4 1552.4,160.3 1552.9,167.6 1553.4,157.2 1553.9,163.9 1554.4,156.6 1554.9,166.5 1555.4,163.1 1555.9,170.0 1556.4,165.2 1556.9,163.4 1557.4,159.5 1557.9,158.6 1558.4,148.1 1558.9,152.6 1559.4,163.1 1559.9,164.0 1560.4,163.7 1560.9,166.9 1561.4,170.7 1561.9,164.2 1562.4,167.0 1562.9,156.6 1563.4,154.8 1563.9,159.6 1564.4,166.7 1564.9,159.9 1565.4,160.3 1565.9,169.5 1566.4,167.1 1566.9,167.9 1567.4,166.6 1567.9,174.1 1568.4,173.6 1568.9,174.0 1569.4,170.9 1569.9,171.4 1570.4,186.2 1570.9,177.8 1571.4,180.4 1571.9,181.2 1572.4,179.8 1573.0,181.9 1573.5,190.2 1574.0,181.3 1574.5,196.8 1575.0,186.9 1575.5,186.7 1576.0,187.0 1576.5,198.4 1577.0,210.2 1577.5,206.7 1578.0,206.9 1578.5,205.2 1579.0,211.9 1579.5,212.0 1580.0,213.9 1580.5,216.8 1581.0,225.2 1581.5,224.8 1582.0,229.2 1582.5,223.4 1583.0,230.7 1583.5,230.5 1584.0,222.8 1584.5,226.3 1585.0,235.5 1585.5,233.2 1586.0,238.9 1586.5,236.1 1587.0,236.6 1587.5,234.5 1588.0,242.6 1588.5,257.1 1589.0,251.8 1589.5,242.5 1590.0,241.6 1590.5,248.1 1591.0,245.4 1591.5,245.0 1592.0,245.9 1592.5,246.7 1593.0,249.5 1593.5,251.9 1594.0,238.8 1594.5,246.9 1595.0,242.1 1595.5,257.2 1596.0,256.9 1596.5,251.8 1597.0,265.2 1597.5,270.6 1598.0,267.5 1598.5,261.4 1599.0,267.0 1599.5,265.2 1600.0,265.1 1600.5,257.9 1601.1,253.1 1601.6,258.2 1602.1,266.5 1602.6,274.3 1603.1,272.1 1603.6,270.1 1604.1,266.1 1604.6,273.1 1605.1,269.0 1605.6,267.2 1606.1,270.8 1606.6,284.8 1607.1,284.0 1607.6,274.7 1608.1,283.6 1608.6,281.0 1609.1,281.4 1609.6,284.4 1610.1,285.4 1610.6,294.7 1611.1,281.7 1611.6,285.6 1612.1,290.4 1612.6,293.2 1613.1,284.8 1613.6,289.5 1614.1,297.6 1614.6,291.5 1615.1,291.5 1615.6,291.6 1616.1,290.4 1616.6,298.3 1617.1,290.1 1617.6,298.2 1618.1,298.7 1618.6,291.9 1619.1,301.3 1619.6,303.6 1620.1,308.5 1620.6,303.1 1621.1,300.6 1621.6,302.0 1622.1,294.5 1622.6,303.1 1623.1,302.9 1623.6,293.6 1624.1,298.6 1624.6,300.7 1625.1,296.9 1625.6,296.1 1626.1,304.6 1626.6,300.5 1627.1,297.6 1627.6,302.8 1628.1,300.5 1628.6,297.0 1629.1,296.0 1629.7,298.5 1630.2,306.1 1630.7,304.0 1631.2,309.3 1631.7,298.4 1632.2,302.9 1632.7,298.1 1633.2,298.9 1633.7,298.1 1634.2,296.7 1634.7,309.2 1635.2,304.4 1635.7,300.8 1636.2,301.8 1636.7,308.9 1637.2,311.5 1637.7,313.2 1638.2,308.2 1638.7,308.6 1639.2,307.2 1639.7,318.0 1640.2,316.2 1640.7,323.4 1641.2,315.6 1641.7,318.5 1642.2,314.6 1642.7,309.7 1643.2,321.5 1643.7,308.9 1644.2,319.0 1644.7,320.4 1645.2,309.6 1645.7,311.7 1646.2,312.7 1646.7,310.7 1647.2,316.5 1647.7,305.6 1648.2,307.1 1648.7,314.9 1649.2,310.9 1649.7,319.2 1650.2,326.0 1650.7,328.2 1651.2,325.7 1651.7,317.4 1652.2,326.8 1652.7,321.0 1653.2,322.6 1653.7,322.7 1654.2,322.2 1654.7,331.2 1655.2,319.7 1655.7,324.4 1656.2,328.5 1656.7,321.4 1657.2,331.9 1657.7,331.9 1658.3,325.8 1658.8,337.9 1659.3,339.3 1659.8,329.4 1660.3,339.4 1660.8,334.0 1661.3,337.0 1661.8,340.1 1662.3,340.6 1662.8,337.4 1663.3,334.9 1663.8,343.5 1664.3,335.9 1664.8,338.3 1665.3,336.6 1665.8,340.0 1666.3,336.3 1666.8,341.3 1667.3,341.6 1667.8,343.8 1668.3,345.3 1668.8,352.0 1669.3,343.5 1669.8,344.1 1670.3,342.8 1670.8,341.5 1671.3,352.3 1671.8,344.2 1672.3,340.2 1672.8,344.6 1673.3,341.2 1673.8,332.8 1674.3,345.2 1674.8,353.7 1675.3,351.0 1675.8,347.5 1676.3,347.6 1676.8,354.0 1677.3,352.0 1677.8,341.2 1678.3,333.2 1678.8,345.5 1679.3,344.6 1679.8,353.3 1680.3,350.2 1680.8,350.7 1681.3,351.3 1681.8,349.2 1682.3,352.5 1682.8,356.2 1683.3,354.4 1683.8,356.3 1684.3,353.2 1684.8,353.6 1685.3,349.6 1685.8,347.9 1686.4,362.1 1686.9,355.4 1687.4,359.1 1687.9,351.8 1688.4,361.9 1688.9,362.9 1689.4,351.8 1689.9,358.2 1690.4,338.7 1690.9,345.2 1691.4,354.4 1691.9,357.1 1692.4,359.1 1692.9,346.7 1693.4,350.7 1693.9,356.3 1694.4,366.9 1694.9,350.5 1695.4,356.6 1695.9,359.7 1696.4,351.3 1696.9,335.9 1697.4,343.1 1697.9,350.1 1698.4,362.1 1698.9,350.0 1699.4,358.4 1699.9,361.7 1700.4,359.7 1700.9,358.3 1701.4,349.8 1701.9,367.2 1702.4,371.4 1702.9,366.6 1703.4,358.1 1703.9,362.1 1704.4,358.3 1704.9,363.5 1705.4,370.3 1705.9,364.5 1706.4,366.1 1706.9,373.4 1707.4,365.6 1707.9,371.8 1708.4,369.8 1708.9,379.2 1709.4,375.0 1709.9,382.5 1710.4,386.5 1710.9,375.1 1711.4,384.8 1711.9,384.9 1712.4,377.4 1712.9,373.9 1713.4,381.7 1713.9,375.9 1714.4,384.9 1715.0,375.6 1715.5,372.9 1716.0,374.6 1716.5,378.0 1717.0,375.9 1717.5,370.9 1718.0,375.6 1718.5,370.8 1719.0,355.1 1719.5,362.4 1720.0,365.8 1720.5,368.6 1721.0,383.0 1721.5,380.3 1722.0,386.8 1722.5,367.8 1723.0,382.9 1723.5,381.6 1724.0,377.4 1724.5,380.8 1725.0,384.4 1725.5,376.4 1726.0,381.1 1726.5,385.3 1727.0,385.8 1727.5,388.1 1728.0,385.0 1728.5,390.9 1729.0,379.0 1729.5,380.0 1730.0,386.1 1730.5,375.7 1731.0,382.7 1731.5,375.3 1732.0,370.2 1732.5,376.9 1733.0,383.4 1733.5,373.8 1734.0,372.4 1734.5,379.8 1735.0,377.4 1735.5,378.0 1736.0,376.2 1736.5,371.2 1737.0,389.0 1737.5,375.3 1738.0,384.0 1738.5,356.0 1739.0,390.9 1739.5,385.9 1740.0,386.7 1740.5,370.7 1741.0,380.0 1741.5,376.2 1742.0,392.9 1742.5,392.5 1743.0,369.5 1743.6,374.5 1744.1,368.3 1744.6,383.8 1745.1,379.6 1745.6,375.8 1746.1,368.4 1746.6,382.3 1747.1,373.9 1747.6,371.6 1748.1,369.1 1748.6,385.3 1749.1,382.4 1749.6,375.1 1750.1,381.2 1750.6,368.4 1751.1,383.2 1751.6,377.8 1752.1,384.9 1752.6,379.3 1753.1,373.4 1753.6,369.3 1754.1,382.4 1754.6,372.0 1755.1,382.0 1755.6,383.5 1756.1,374.5 1756.6,382.8 1757.1,385.9 1757.6,382.4 1758.1,379.1 1758.6,374.3 1759.1,386.7 1759.6,383.3 1760.1,381.2 1760.6,382.9 1761.1,385.0 1761.6,397.2 1762.1,386.0 1762.6,391.3 1763.1,382.0 1763.6,393.3 1764.1,385.9 1764.6,377.2 1765.1,372.5 1765.6,383.6 1766.1,380.9 1766.6,390.3 1767.1,391.8 1767.6,390.4 1768.1,387.0 1768.6,396.9 1769.1,401.8 1769.6,386.7 1770.1,384.6 1770.6,387.3 1771.1,369.1 1771.7,374.2 1772.2,384.5 1772.7,379.2 1773.2,377.9 1773.7,377.1 1774.2,391.2 1774.7,384.4 1775.2,390.7 1775.7,391.9 1776.2,384.3 1776.7,397.5 1777.2,386.1 1777.7,399.7 1778.2,394.3 1778.7,399.8 1779.2,385.3 1779.7,389.6 1780.2,394.8 1780.7,388.7 1781.2,379.0 1781.7,377.5 1782.2,379.0 1782.7,392.1 1783.2,380.7 1783.7,372.4 1784.2,379.5 1784.7,384.3 1785.2,379.6 1785.7,387.4 1786.2,388.4 1786.7,379.1 1787.2,388.1 1787.7,378.0 1788.2,389.5 1788.7,393.4 1789.2,387.4 1789.7,379.9 1790.2,376.4 1790.7,379.7 1791.2,380.9 1791.7,375.9 1792.2,383.6 1792.7,376.8 1793.2,377.8 1793.7,384.4 1794.2,388.3 1794.7,381.5 1795.2,388.6 1795.7,394.1 1796.2,388.8 1796.7,386.3 1797.2,394.4 1797.7,396.8 1798.2,388.1 1798.7,401.0 1799.2,398.2 1799.7,402.2 1800.3,393.9 1800.8,385.0 1801.3,396.7 1801.8,388.0 1802.3,385.9 1802.8,389.0 1803.3,387.0 1803.8,386.7 1804.3,374.7 1804.8,408.2 1805.3,401.3 1805.8,399.5 1806.3,391.8 1806.8,386.0 1807.3,378.0 1807.8,385.6 1808.3,384.4 1808.8,387.8 1809.3,392.4 1809.8,380.9 1810.3,399.5 1810.8,391.3 1811.3,378.2 1811.8,390.2 1812.3,389.6 1812.8,392.0 1813.3,393.8 1813.8,385.6 1814.3,386.9 1814.8,389.9 1815.3,377.6 1815.8,384.4 1816.3,382.9 1816.8,386.4 1817.3,392.1 1817.8,384.8 1818.3,372.1 1818.8,371.2 1819.3,380.6 1819.8,385.4 1820.3,374.4 1820.8,389.9 1821.3,385.7 1821.8,384.2 1822.3,385.5 1822.8,384.1 1823.3,392.0 1823.8,379.1 1824.3,377.5 1824.8,388.2 1825.3,380.2 1825.8,388.1 1826.3,389.4 1826.8,378.7 1827.3,387.3 1827.8,391.0 1828.3,385.3 1828.9,383.4 1829.4,394.3 1829.9,383.6 1830.4,389.6 1830.9,393.0 1831.4,385.2 1831.9,393.3 1832.4,387.4 1832.9,393.5 1833.4,392.0 1833.9,398.1 1834.4,397.4 1834.9,397.7 1835.4,388.6 1835.9,401.3 1836.4,396.9 1836.9,402.6 1837.4,390.4 1837.9,390.4 1838.4,386.5 1838.9,389.4 1839.4,384.8 1839.9,391.3 1840.4,392.4 1840.9,384.9 1841.4,386.5 1841.9,393.9 1842.4,389.1 1842.9,394.0 1843.4,387.4 1843.9,404.0 1844.4,381.5 1844.9,392.8 1845.4,393.1 1845.9,394.6 1846.4,400.2 1846.9,403.0 1847.4,403.2 1847.9,385.3 1848.4,389.2 1848.9,384.1 1849.4,390.7 1849.9,381.6 1850.4,377.0 1850.9,387.6 1851.4,382.6 1851.9,389.9 1852.4,396.3 1852.9,394.6 1853.4,387.5 1853.9,378.8 1854.4,388.0 1854.9,391.0 1855.4,388.4 1855.9,383.2 1856.4,392.3 1857.0,392.0 1857.5,381.7 1858.0,380.9 1858.5,383.2 1859.0,372.4 1859.5,368.6 1860.0,383.0 1860.5,379.4 1861.0,388.0 1861.5,393.5 1862.0,387.0 1862.5,395.0 1863.0,386.6 1863.5,400.3 1864.0,382.1 1864.5,378.4 1865.0,373.1 1865.5,391.7 1866.0,379.2 1866.5,396.5 1867.0,393.9 1867.5,392.8 1868.0,392.9 1868.5,393.2 1869.0,386.2 1869.5,390.0 1870.0,395.8 1870.5,381.2 1871.0,396.5" fill="none" stroke="#00a800" stroke-width="3.8" stroke-linejoin="miter" stroke-miterlimit="2"/>
<polyline clip-path="url(#c1)" points="165.0,394.2 167.8,394.2 170.7,394.2 173.5,394.2 176.4,394.2 179.2,394.1 182.1,394.1 184.9,394.1 187.8,394.0 190.6,394.0 193.5,393.9 196.3,393.9 199.2,393.8 202.0,393.8 204.9,393.7 207.7,393.6 210.6,393.6 213.4,393.5 216.3,393.4 219.1,393.4 222.0,393.3 224.8,393.2 227.7,393.1 230.5,393.1 233.4,393.0 236.2,392.9 239.1,392.8 241.9,392.7 244.8,392.6 247.6,392.5 250.5,392.4 253.3,392.2 256.2,392.1 259.0,391.9 261.9,391.8 264.7,391.6 267.6,391.4 270.4,391.3 273.3,391.1 276.1,390.9 279.0,390.7 281.8,390.5 284.7,390.3 287.5,390.1 290.4,389.9 293.2,389.6 296.1,389.4 298.9,389.2 301.7,388.9 304.6,388.7 307.4,388.4 310.3,388.1 313.1,387.8 316.0,387.4 318.8,387.1 321.7,386.7 324.5,386.3 327.4,385.9 330.2,385.5 333.1,385.1 335.9,384.6 338.8,384.2 341.6,383.7 344.5,383.3 347.3,382.8 350.2,382.3 353.0,381.8 355.9,381.2 358.7,380.5 361.6,379.8 364.4,378.9 367.3,378.0 370.1,377.0 373.0,375.8 375.8,374.6 378.7,373.2 381.5,371.8 384.4,370.3 387.2,368.6 390.1,366.7 392.9,364.6 395.8,362.2 398.6,359.6 401.5,356.8 404.3,353.7 407.2,350.5 410.0,347.0 412.9,343.4 415.7,339.1 418.6,334.1 421.4,328.6 424.3,322.8 427.1,316.8 429.9,310.4 432.8,302.6 435.6,294.7 438.5,287.6 441.3,282.7 444.2,279.5 447.0,277.2 449.9,276.7 452.7,276.8 455.6,277.1 458.4,278.8 461.3,283.4 464.1,288.9 467.0,294.2 469.8,300.2 472.7,306.7 475.5,313.2 478.4,319.4 481.2,324.9 484.1,330.4 486.9,335.7 489.8,340.6 492.6,345.1 495.5,348.8 498.3,351.8 501.2,354.4 504.0,356.7 506.9,358.8 509.7,360.7 512.6,362.6 515.4,364.4 518.3,366.1 521.1,367.7 524.0,369.1 526.8,370.1 529.7,370.8 532.5,371.4 535.4,371.8 538.2,372.5 541.1,373.7 543.9,375.2 546.8,376.3 549.6,376.7 552.5,376.9 555.3,377.0 558.2,377.1 561.0,377.1 563.8,377.1 566.7,377.1 569.5,377.1 572.4,377.1 575.2,377.1 578.1,377.1 580.9,377.0 583.8,377.0 586.6,377.0 589.5,377.0 592.3,376.9 595.2,376.9 598.0,376.9 600.9,376.8 603.7,376.8 606.6,376.8 609.4,376.7 612.3,376.7 615.1,376.6 618.0,376.5 620.8,376.5 623.7,375.9 626.5,374.9 629.4,373.6 632.2,372.1 635.1,370.6 637.9,369.3 640.8,368.2 643.6,367.4 646.5,366.6 649.3,365.9 652.2,365.1 655.0,364.2 657.9,363.2 660.7,361.9 663.6,360.5 666.4,359.0 669.3,357.3 672.1,355.5 675.0,353.7 677.8,351.7 680.7,349.7 683.5,347.6 686.4,345.4 689.2,343.1 692.0,340.6 694.9,338.0 697.7,335.2 700.6,332.3 703.4,329.2 706.3,325.7 709.1,321.8 712.0,317.6 714.8,313.4 717.7,309.3 720.5,305.4 723.4,301.3 726.2,296.7 729.1,291.4 731.9,285.2 734.8,278.3 737.6,271.3 740.5,264.3 743.3,256.7 746.2,249.0 749.0,241.9 751.9,236.3 754.7,231.2 757.6,226.5 760.4,222.9 763.3,220.8 766.1,219.7 769.0,218.9 771.8,218.5 774.7,219.0 777.5,221.3 780.4,224.7 783.2,228.6 786.1,232.9 788.9,238.7 791.8,245.6 794.6,252.6 797.5,259.1 800.3,265.5 803.2,271.8 806.0,278.0 808.9,283.9 811.7,289.4 814.6,294.7 817.4,300.0 820.3,305.4 823.1,311.4 825.9,317.7 828.8,323.6 831.6,328.5 834.5,332.3 837.3,335.7 840.2,338.7 843.0,341.4 845.9,344.0 848.7,346.6 851.6,349.1 854.4,351.3 857.3,353.3 860.1,355.1 863.0,356.7 865.8,358.2 868.7,359.7 871.5,361.0 874.4,362.2 877.2,363.4 880.1,364.5 882.9,365.6 885.8,366.7 888.6,367.7 891.5,368.8 894.3,369.8 897.2,370.8 900.0,371.8 902.9,372.7 905.7,373.7 908.6,374.6 911.4,375.5 914.3,376.3 917.1,377.1 920.0,377.8 922.8,378.6 925.7,379.2 928.5,379.9 931.4,380.4 934.2,381.0 937.1,381.4 939.9,381.8 942.8,382.2 945.6,382.6 948.5,383.0 951.3,383.3 954.1,383.7 957.0,384.0 959.8,384.3 962.7,384.6 965.5,384.8 968.4,385.1 971.2,385.3 974.1,385.5 976.9,385.7 979.8,385.8 982.6,385.9 985.5,386.0 988.3,386.1 991.2,386.1 994.0,386.2 996.9,386.3 999.7,386.3 1002.6,386.4 1005.4,386.5 1008.3,386.5 1011.1,386.6 1014.0,386.6 1016.8,386.6 1019.7,386.7 1022.5,386.7 1025.4,386.8 1028.2,386.8 1031.1,386.8 1033.9,386.9 1036.8,386.9 1039.6,386.9 1042.5,386.9 1045.3,387.0 1048.2,387.0 1051.0,387.0 1053.9,387.0 1056.7,387.0 1059.6,387.0 1062.4,387.0 1065.3,387.0 1068.1,387.0 1071.0,387.0 1073.8,387.0 1076.7,387.0 1079.5,387.0 1082.4,387.0 1085.2,386.9 1088.0,386.9 1090.9,386.9 1093.7,386.9 1096.6,386.9 1099.4,386.9 1102.3,386.8 1105.1,386.8 1108.0,386.8 1110.8,386.8 1113.7,386.7 1116.5,386.7 1119.4,386.7 1122.2,386.6 1125.1,386.6 1127.9,386.6 1130.8,386.5 1133.6,386.5 1136.5,386.5 1139.3,386.4 1142.2,386.4 1145.0,386.4 1147.9,386.3 1150.7,386.3 1153.6,386.2 1156.4,386.2 1159.3,386.1 1162.1,386.1 1165.0,386.0 1167.8,386.0 1170.7,385.9 1173.5,385.9 1176.4,385.8 1179.2,385.8 1182.1,385.7 1184.9,385.7 1187.8,385.6 1190.6,385.5 1193.5,385.5 1196.3,385.4 1199.2,385.4 1202.0,385.3 1204.9,385.2 1207.7,385.2 1210.6,385.1 1213.4,385.0 1216.2,385.0 1219.1,384.9 1221.9,384.8 1224.8,384.8 1227.6,384.7 1230.5,384.6 1233.3,384.5 1236.2,384.5 1239.0,384.4 1241.9,384.3 1244.7,384.2 1247.6,384.0 1250.4,383.9 1253.3,383.8 1256.1,383.6 1259.0,383.4 1261.8,383.3 1264.7,383.1 1267.5,382.9 1270.4,382.7 1273.2,382.4 1276.1,382.2 1278.9,382.0 1281.8,381.7 1284.6,381.5 1287.5,381.2 1290.3,381.0 1293.2,380.7 1296.0,380.4 1298.9,380.1 1301.7,379.8 1304.6,379.5 1307.4,379.2 1310.3,378.9 1313.1,378.5 1316.0,378.0 1318.8,377.6 1321.7,377.1 1324.5,376.5 1327.4,375.9 1330.2,375.3 1333.1,374.7 1335.9,374.1 1338.8,373.4 1341.6,372.7 1344.5,372.1 1347.3,371.4 1350.1,370.8 1353.0,370.2 1355.8,369.5 1358.7,368.9 1361.5,368.2 1364.4,367.5 1367.2,366.8 1370.1,366.0 1372.9,365.2 1375.8,364.4 1378.6,363.5 1381.5,362.5 1384.3,361.5 1387.2,360.4 1390.0,359.1 1392.9,357.8 1395.7,356.3 1398.6,354.8 1401.4,353.1 1404.3,351.4 1407.1,349.6 1410.0,347.7 1412.8,345.8 1415.7,343.8 1418.5,341.8 1421.4,339.7 1424.2,337.5 1427.1,335.2 1429.9,332.7 1432.8,330.1 1435.6,327.4 1438.5,324.5 1441.3,321.5 1444.2,318.3 1447.0,315.0 1449.9,311.3 1452.7,307.1 1455.6,302.8 1458.4,298.5 1461.3,294.1 1464.1,289.6 1467.0,284.8 1469.8,279.6 1472.7,273.8 1475.5,267.2 1478.3,259.9 1481.2,252.5 1484.0,245.3 1486.9,238.5 1489.7,232.0 1492.6,225.4 1495.4,218.6 1498.3,211.4 1501.1,203.6 1504.0,195.5 1506.8,187.4 1509.7,179.7 1512.5,172.2 1515.4,164.8 1518.2,157.7 1521.1,151.2 1523.9,144.8 1526.8,138.2 1529.6,133.4 1532.5,132.1 1535.3,131.5 1538.2,131.1 1541.0,130.9 1543.9,131.4 1546.7,133.3 1549.6,136.3 1552.4,139.8 1555.3,144.0 1558.1,149.6 1561.0,156.2 1563.8,163.2 1566.7,171.4 1569.5,180.4 1572.4,189.6 1575.2,198.6 1578.1,207.9 1580.9,217.3 1583.8,226.7 1586.6,235.5 1589.5,244.1 1592.3,252.4 1595.2,260.4 1598.0,267.5 1600.9,273.8 1603.7,279.5 1606.6,284.8 1609.4,289.7 1612.2,294.3 1615.1,298.5 1617.9,302.2 1620.8,305.6 1623.6,308.9 1626.5,312.2 1629.3,315.9 1632.2,320.2 1635.0,324.6 1637.9,328.9 1640.7,332.7 1643.6,335.5 1646.4,337.8 1649.3,339.9 1652.1,341.7 1655.0,343.4 1657.8,345.1 1660.7,346.8 1663.5,348.6 1666.4,350.3 1669.2,351.9 1672.1,353.5 1674.9,354.9 1677.8,356.2 1680.6,357.4 1683.5,358.6 1686.3,359.7 1689.2,360.7 1692.0,361.8 1694.9,362.8 1697.7,363.9 1700.6,364.9 1703.4,365.9 1706.3,366.9 1709.1,367.9 1712.0,368.9 1714.8,369.8 1717.7,370.8 1720.5,371.7 1723.4,372.7 1726.2,373.5 1729.1,374.3 1731.9,374.9 1734.8,375.5 1737.6,375.9 1740.4,376.4 1743.3,376.8 1746.1,377.1 1749.0,377.5 1751.8,377.8 1754.7,378.2 1757.5,378.5 1760.4,378.8 1763.2,379.0 1766.1,379.3 1768.9,379.6 1771.8,379.9 1774.6,380.1 1777.5,380.4 1780.3,380.6 1783.2,380.9 1786.0,381.2 1788.9,381.4 1791.7,381.7 1794.6,382.0 1797.4,382.2 1800.3,382.5 1803.1,382.7 1806.0,383.0 1808.8,383.2 1811.7,383.4 1814.5,383.6 1817.4,383.8 1820.2,384.0 1823.1,384.2 1825.9,384.4 1828.8,384.5 1831.6,384.7 1834.5,384.9 1837.3,385.0 1840.2,385.2 1843.0,385.3 1845.9,385.5 1848.7,385.6 1851.6,385.8 1854.4,385.9 1857.3,386.0 1860.1,386.1 1863.0,386.2 1865.8,386.3 1868.7,386.4 1871.5,386.5" fill="none" stroke="#111" stroke-width="3"/></g>
<rect x="165.0" y="24.4" width="1706.5" height="446.8" fill="none" stroke="#1e1e1e" stroke-width="3.8"/>
<path d="M165.0,19.9V24.4M1871.5,19.9V24.4" stroke="#1e1e1e" stroke-width="3.8"/>
<line x1="165.0" y1="471.2" x2="165.0" y2="494.2" stroke="#1e1e1e" stroke-width="4.4"/>
<line x1="376.8" y1="471.2" x2="376.8" y2="482.7" stroke="#1e1e1e" stroke-width="4.4"/>
<line x1="593.3" y1="471.2" x2="593.3" y2="494.2" stroke="#1e1e1e" stroke-width="4.4"/>
<line x1="805.8" y1="471.2" x2="805.8" y2="482.7" stroke="#1e1e1e" stroke-width="4.4"/>
<line x1="1018.3" y1="471.2" x2="1018.3" y2="494.2" stroke="#1e1e1e" stroke-width="4.4"/>
<line x1="1231.2" y1="471.2" x2="1231.2" y2="482.7" stroke="#1e1e1e" stroke-width="4.4"/>
<line x1="1446.6" y1="471.2" x2="1446.6" y2="494.2" stroke="#1e1e1e" stroke-width="4.4"/>
<line x1="1659.5" y1="471.2" x2="1659.5" y2="482.7" stroke="#1e1e1e" stroke-width="4.4"/>
<line x1="1871.5" y1="471.2" x2="1871.5" y2="494.2" stroke="#1e1e1e" stroke-width="4.4"/>
<g><clipPath id="c2"><rect x="165.0" y="526.3" width="1706.5" height="447.0"/></clipPath>
<polyline clip-path="url(#c2)" points="165.5,850.1 166.0,871.2 166.5,853.6 167.0,824.1 167.5,829.8 168.0,849.1 168.5,835.6 169.0,893.5 169.5,832.8 170.0,865.5 170.5,863.4 171.0,818.7 171.5,837.0 172.0,835.6 172.5,842.0 173.0,864.2 173.5,846.7 174.0,843.9 174.5,869.1 175.0,879.7 175.5,855.6 176.0,820.4 176.5,795.7 177.0,829.1 177.5,891.8 178.0,866.9 178.5,856.4 179.0,827.6 179.5,894.2 180.1,869.4 180.6,821.3 181.1,881.9 181.6,876.9 182.1,886.4 182.6,891.3 183.1,848.4 183.6,861.0 184.1,860.5 184.6,856.4 185.1,820.3 185.6,858.5 186.1,860.2 186.6,842.1 187.1,858.0 187.6,862.5 188.1,819.7 188.6,862.4 189.1,841.8 189.6,832.2 190.1,850.7 190.6,837.5 191.1,842.4 191.6,835.5 192.1,841.1 192.6,834.3 193.1,844.1 193.6,838.0 194.1,835.4 194.6,870.8 195.1,857.4 195.6,864.4 196.1,884.5 196.6,871.2 197.1,863.8 197.6,849.7 198.1,877.8 198.6,874.4 199.1,882.9 199.6,866.6 200.1,862.7 200.6,837.4 201.1,873.3 201.6,841.9 202.1,854.7 202.6,866.5 203.1,858.7 203.6,854.7 204.1,861.0 204.6,828.7 205.1,853.7 205.6,870.4 206.1,868.9 206.6,801.6 207.1,866.4 207.6,859.8 208.2,840.5 208.7,836.0 209.2,853.9 209.7,876.3 210.2,864.5 210.7,845.2 211.2,860.5 211.7,874.1 212.2,858.3 212.7,852.9 213.2,865.4 213.7,829.1 214.2,863.6 214.7,837.4 215.2,854.3 215.7,859.7 216.2,852.0 216.7,843.1 217.2,848.2 217.7,865.2 218.2,835.8 218.7,843.3 219.2,861.6 219.7,870.0 220.2,860.6 220.7,855.2 221.2,874.1 221.7,860.4 222.2,895.5 222.7,886.3 223.2,894.5 223.7,855.4 224.2,862.2 224.7,865.3 225.2,852.1 225.7,862.6 226.2,883.8 226.7,857.5 227.2,868.4 227.7,894.1 228.2,878.3 228.7,881.5 229.2,874.8 229.7,840.0 230.2,842.8 230.7,850.2 231.2,892.7 231.7,899.6 232.2,860.2 232.7,863.3 233.2,884.2 233.7,869.7 234.2,842.2 234.7,857.0 235.2,884.7 235.7,884.7 236.2,844.2 236.8,866.9 237.3,861.7 237.8,829.6 238.3,866.9 238.8,890.6 239.3,853.8 239.8,859.7 240.3,877.1 240.8,857.9 241.3,857.8 241.8,867.5 242.3,843.6 242.8,869.5 243.3,843.9 243.8,883.6 244.3,893.1 244.8,881.9 245.3,847.9 245.8,861.0 246.3,860.5 246.8,832.1 247.3,855.1 247.8,859.6 248.3,864.1 248.8,884.0 249.3,859.4 249.8,858.0 250.3,858.8 250.8,860.8 251.3,868.8 251.8,884.7 252.3,850.1 252.8,865.3 253.3,832.9 253.8,842.4 254.3,890.1 254.8,858.2 255.3,865.6 255.8,848.7 256.3,802.1 256.8,801.2 257.3,850.8 257.8,841.1 258.3,845.0 258.8,834.5 259.3,854.3 259.8,846.0 260.3,840.6 260.8,811.4 261.3,832.4 261.8,842.9 262.3,821.8 262.8,835.2 263.3,853.1 263.8,857.7 264.3,875.1 264.8,894.7 265.4,884.7 265.9,874.8 266.4,856.0 266.9,876.2 267.4,865.8 267.9,862.2 268.4,873.8 268.9,872.3 269.4,865.1 269.9,837.2 270.4,828.7 270.9,837.4 271.4,879.3 271.9,865.6 272.4,835.2 272.9,865.7 273.4,837.0 273.9,858.5 274.4,869.0 274.9,856.3 275.4,869.3 275.9,871.0 276.4,837.9 276.9,858.9 277.4,866.0 277.9,852.5 278.4,840.8 278.9,876.8 279.4,860.5 279.9,849.2 280.4,844.9 280.9,855.9 281.4,872.0 281.9,850.8 282.4,863.9 282.9,861.5 283.4,854.7 283.9,857.4 284.4,857.3 284.9,843.3 285.4,856.4 285.9,882.3 286.4,890.4 286.9,857.5 287.4,838.1 287.9,848.6 288.4,840.9 288.9,829.7 289.4,834.3 289.9,839.8 290.4,853.6 290.9,831.8 291.4,860.1 291.9,845.2 292.4,859.1 292.9,855.6 293.5,844.6 294.0,843.1 294.5,845.2 295.0,845.0 295.5,850.5 296.0,865.2 296.5,850.7 297.0,863.6 297.5,856.7 298.0,841.3 298.5,853.4 299.0,817.7 299.5,860.8 300.0,846.6 300.5,866.7 301.0,847.5 301.5,854.9 302.0,867.5 302.5,863.6 303.0,852.9 303.5,849.5 304.0,860.6 304.5,859.4 305.0,895.3 305.5,855.1 306.0,849.4 306.5,893.1 307.0,877.8 307.5,888.6 308.0,863.8 308.5,854.7 309.0,855.5 309.5,868.3 310.0,876.2 310.5,848.3 311.0,849.3 311.5,840.7 312.0,838.3 312.5,840.3 313.0,849.6 313.5,842.1 314.0,853.0 314.5,844.6 315.0,837.6 315.5,847.2 316.0,848.1 316.5,844.5 317.0,844.6 317.5,855.6 318.0,831.6 318.5,858.2 319.0,838.5 319.5,843.9 320.0,861.0 320.5,857.6 321.0,824.2 321.5,852.4 322.1,866.3 322.6,839.3 323.1,877.2 323.6,901.0 324.1,869.7 324.6,877.9 325.1,840.3 325.6,848.0 326.1,849.8 326.6,850.5 327.1,837.8 327.6,832.2 328.1,827.7 328.6,853.3 329.1,829.3 329.6,870.5 330.1,891.0 330.6,862.7 331.1,864.6 331.6,845.5 332.1,835.5 332.6,858.2 333.1,858.1 333.6,840.7 334.1,841.9 334.6,838.2 335.1,840.8 335.6,819.8 336.1,839.5 336.6,863.3 337.1,841.3 337.6,852.0 338.1,857.2 338.6,848.8 339.1,840.4 339.6,808.6 340.1,838.2 340.6,847.9 341.1,838.2 341.6,850.7 342.1,861.7 342.6,844.6 343.1,819.3 343.6,839.1 344.1,831.1 344.6,827.3 345.1,822.4 345.6,827.8 346.1,863.1 346.6,863.8 347.1,834.3 347.6,824.1 348.1,839.1 348.6,852.3 349.1,837.3 349.6,850.8 350.1,858.5 350.7,865.3 351.2,852.7 351.7,851.8 352.2,844.8 352.7,843.2 353.2,848.1 353.7,844.0 354.2,853.8 354.7,847.0 355.2,839.3 355.7,858.8 356.2,836.1 356.7,846.8 357.2,845.2 357.7,831.9 358.2,838.9 358.7,841.9 359.2,832.1 359.7,822.7 360.2,869.2 360.7,828.7 361.2,830.8 361.7,829.3 362.2,829.7 362.7,876.9 363.2,873.3 363.7,814.2 364.2,822.9 364.7,824.5 365.2,812.4 365.7,826.7 366.2,815.6 366.7,822.9 367.2,799.5 367.7,832.8 368.2,809.6 368.7,799.6 369.2,800.7 369.7,801.7 370.2,814.2 370.7,754.9 371.2,769.7 371.7,822.0 372.2,823.6 372.7,796.3 373.2,811.1 373.7,812.7 374.2,808.1 374.7,805.0 375.2,822.3 375.7,810.4 376.2,816.8 376.7,824.4 377.2,804.4 377.7,804.9 378.2,841.9 378.8,803.0 379.3,827.1 379.8,826.2 380.3,811.4 380.8,804.2 381.3,804.2 381.8,793.6 382.3,799.8 382.8,794.5 383.3,788.6 383.8,789.0 384.3,802.2 384.8,792.3 385.3,790.1 385.8,816.2 386.3,795.0 386.8,804.3 387.3,788.6 387.8,788.0 388.3,806.9 388.8,812.9 389.3,771.2 389.8,808.6 390.3,808.4 390.8,798.0 391.3,803.2 391.8,745.1 392.3,759.8 392.8,740.3 393.3,784.6 393.8,781.1 394.3,785.4 394.8,766.1 395.3,814.4 395.8,782.3 396.3,789.6 396.8,767.7 397.3,778.1 397.8,762.6 398.3,773.7 398.8,757.9 399.3,750.2 399.8,753.0 400.3,775.1 400.8,771.4 401.3,753.1 401.8,751.6 402.3,753.1 402.8,730.4 403.3,769.7 403.8,735.7 404.3,732.5 404.8,744.4 405.3,735.5 405.8,750.3 406.3,725.5 406.8,714.4 407.4,749.0 407.9,740.3 408.4,728.0 408.9,733.3 409.4,770.6 409.9,746.8 410.4,727.4 410.9,735.8 411.4,739.2 411.9,758.0 412.4,751.5 412.9,767.3 413.4,773.4 413.9,759.6 414.4,759.6 414.9,768.1 415.4,749.6 415.9,751.2 416.4,734.9 416.9,762.1 417.4,715.7 417.9,727.9 418.4,778.0 418.9,734.2 419.4,742.8 419.9,735.7 420.4,733.2 420.9,753.0 421.4,699.6 421.9,720.0 422.4,716.2 422.9,751.5 423.4,718.2 423.9,723.3 424.4,748.2 424.9,715.8 425.4,738.3 425.9,748.9 426.4,718.5 426.9,723.3 427.4,744.7 427.9,719.2 428.4,741.7 428.9,743.8 429.4,728.8 429.9,724.9 430.4,722.6 430.9,712.7 431.4,726.5 431.9,722.9 432.4,712.3 432.9,713.6 433.4,692.8 433.9,696.3 434.4,681.7 434.9,698.6 435.4,714.4 436.0,726.8 436.5,717.6 437.0,718.6 437.5,698.7 438.0,745.2 438.5,719.8 439.0,746.0 439.5,707.2 440.0,674.0 440.5,683.9 441.0,684.1 441.5,722.2 442.0,745.8 442.5,715.5 443.0,712.2 443.5,695.5 444.0,698.4 444.5,690.5 445.0,703.0 445.5,686.2 446.0,699.4 446.5,692.7 447.0,695.3 447.5,684.7 448.0,731.3 448.5,715.9 449.0,716.8 449.5,694.7 450.0,705.3 450.5,684.1 451.0,700.2 451.5,719.3 452.0,700.0 452.5,700.3 453.0,674.0 453.5,674.0 454.0,706.8 454.5,712.2 455.0,680.6 455.5,695.0 456.0,684.5 456.5,701.7 457.0,692.9 457.5,693.8 458.0,694.6 458.5,687.6 459.0,705.9 459.5,675.0 460.0,677.3 460.5,685.0 461.0,686.6 461.5,674.0 462.0,696.1 462.5,683.7 463.0,694.1 463.5,682.3 464.1,685.0 464.6,695.9 465.1,690.2 465.6,690.0 466.1,702.8 466.6,709.9 467.1,700.3 467.6,708.7 468.1,696.1 468.6,709.7 469.1,696.2 469.6,709.1 470.1,694.3 470.6,708.0 471.1,715.9 471.6,706.5 472.1,687.7 472.6,722.0 473.1,699.9 473.6,684.1 474.1,729.3 474.6,683.5 475.1,699.2 475.6,695.9 476.1,735.4 476.6,732.7 477.1,696.7 477.6,720.0 478.1,702.8 478.6,712.4 479.1,709.9 479.6,709.0 480.1,696.7 480.6,743.1 481.1,718.2 481.6,718.6 482.1,731.4 482.6,710.8 483.1,705.2 483.6,718.7 484.1,694.7 484.6,721.3 485.1,714.4 485.6,718.8 486.1,720.1 486.6,723.8 487.1,742.2 487.6,723.0 488.1,732.1 488.6,744.8 489.1,742.2 489.6,760.3 490.1,747.9 490.6,769.6 491.1,758.4 491.6,739.3 492.1,750.2 492.7,769.9 493.2,740.2 493.7,745.2 494.2,736.8 494.7,756.1 495.2,767.9 495.7,770.0 496.2,756.2 496.7,743.8 497.2,760.7 497.7,756.4 498.2,766.7 498.7,760.8 499.2,771.4 499.7,752.9 500.2,760.3 500.7,759.5 501.2,757.1 501.7,768.0 502.2,746.5 502.7,750.2 503.2,742.7 503.7,770.2 504.2,779.8 504.7,777.4 505.2,791.0 505.7,776.1 506.2,765.7 506.7,779.1 507.2,777.2 507.7,776.6 508.2,785.5 508.7,763.9 509.2,763.4 509.7,770.3 510.2,782.6 510.7,760.9 511.2,782.3 511.7,782.0 512.2,762.9 512.7,759.6 513.2,764.6 513.7,748.5 514.2,780.6 514.7,765.9 515.2,775.6 515.7,757.6 516.2,767.2 516.7,764.7 517.2,785.0 517.7,758.6 518.2,784.7 518.7,774.6 519.2,775.9 519.7,760.0 520.2,778.7 520.7,777.8 521.3,790.1 521.8,780.9 522.3,781.6 522.8,799.9 523.3,794.8 523.8,789.7 524.3,798.1 524.8,802.8 525.3,796.4 525.8,797.8 526.3,814.7 526.8,798.2 527.3,775.8 527.8,806.8 528.3,811.7 528.8,808.8 529.3,808.3 529.8,778.1 530.3,791.1 530.8,802.9 531.3,805.5 531.8,805.6 532.3,794.8 532.8,803.2 533.3,808.7 533.8,824.5 534.3,839.2 534.8,803.1 535.3,822.5 535.8,814.2 536.3,835.9 536.8,830.8 537.3,835.1 537.8,833.2 538.3,827.0 538.8,828.0 539.3,833.4 539.8,846.6 540.3,858.1 540.8,848.6 541.3,835.9 541.8,854.5 542.3,842.0 542.8,839.3 543.3,840.0 543.8,830.4 544.3,826.0 544.8,835.0 545.3,841.4 545.8,846.6 546.3,833.4 546.8,844.9 547.3,829.4 547.8,861.0 548.3,842.1 548.8,836.8 549.4,853.5 549.9,846.2 550.4,812.5 550.9,839.5 551.4,834.3 551.9,846.5 552.4,835.6 552.9,848.9 553.4,848.8 553.9,834.2 554.4,834.4 554.9,854.5 555.4,846.3 555.9,854.6 556.4,850.5 556.9,859.9 557.4,856.8 557.9,847.5 558.4,869.7 558.9,854.5 559.4,856.5 559.9,858.2 560.4,867.4 560.9,846.4 561.4,853.6 561.9,851.0 562.4,849.1 562.9,840.8 563.4,845.1 563.9,864.0 564.4,830.0 564.9,821.0 565.4,854.0 565.9,858.0 566.4,870.0 566.9,860.6 567.4,859.0 567.9,866.4 568.4,871.0 568.9,862.7 569.4,826.9 569.9,806.6 570.4,838.3 570.9,853.7 571.4,847.1 571.9,846.8 572.4,854.7 572.9,859.8 573.4,879.3 573.9,869.4 574.4,881.3 574.9,879.1 575.4,849.1 575.9,863.1 576.4,847.2 576.9,870.4 577.4,851.2 578.0,864.4 578.5,866.6 579.0,854.2 579.5,844.5 580.0,851.0 580.5,861.1 581.0,865.6 581.5,868.6 582.0,852.7 582.5,875.2 583.0,866.5 583.5,861.2 584.0,854.2 584.5,849.3 585.0,835.8 585.5,849.9 586.0,852.7 586.5,866.8 587.0,888.6 587.5,868.6 588.0,854.5 588.5,837.1 589.0,868.0 589.5,872.9 590.0,851.6 590.5,843.0 591.0,861.8 591.5,852.8 592.0,853.6 592.5,850.8 593.0,841.2 593.5,853.6 594.0,858.8 594.5,848.5 595.0,843.0 595.5,842.5 596.0,853.3 596.5,856.5 597.0,844.3 597.5,835.5 598.0,851.9 598.5,845.4 599.0,850.7 599.5,887.2 600.0,881.7 600.5,830.1 601.0,839.8 601.5,848.8 602.0,831.6 602.5,828.3 603.0,843.0 603.5,841.8 604.0,843.0 604.5,848.5 605.0,839.4 605.5,844.5 606.0,845.8 606.6,857.9 607.1,829.9 607.6,854.4 608.1,832.8 608.6,837.1 609.1,855.2 609.6,855.6 610.1,855.1 610.6,850.9 611.1,851.6 611.6,843.2 612.1,851.7 612.6,862.7 613.1,829.6 613.6,847.3 614.1,843.1 614.6,835.9 615.1,848.8 615.6,851.4 616.1,830.5 616.6,832.2 617.1,854.0 617.6,852.2 618.1,844.7 618.6,826.8 619.1,864.4 619.6,847.9 620.1,839.8 620.6,852.2 621.1,845.6 621.6,847.3 622.1,824.0 622.6,850.9 623.1,845.7 623.6,849.0 624.1,850.7 624.6,862.7 625.1,846.3 625.6,846.0 626.1,856.6 626.6,858.6 627.1,851.3 627.6,845.6 628.1,844.0 628.6,842.7 629.1,842.0 629.6,856.7 630.1,843.8 630.6,854.0 631.1,840.3 631.6,856.8 632.1,846.8 632.6,860.3 633.1,852.8 633.6,850.7 634.1,841.4 634.7,842.6 635.2,844.5 635.7,846.4 636.2,842.1 636.7,855.1 637.2,856.4 637.7,848.8 638.2,867.0 638.7,852.2 639.2,838.6 639.7,849.7 640.2,851.9 640.7,847.1 641.2,851.5 641.7,839.1 642.2,845.0 642.7,844.1 643.2,847.1 643.7,818.7 644.2,816.2 644.7,821.3 645.2,828.7 645.7,823.1 646.2,823.9 646.7,829.4 647.2,854.3 647.7,831.0 648.2,865.2 648.7,839.9 649.2,854.8 649.7,839.3 650.2,849.2 650.7,847.9 651.2,844.8 651.7,838.0 652.2,846.4 652.7,838.6 653.2,866.0 653.7,843.6 654.2,868.5 654.7,849.5 655.2,833.9 655.7,866.5 656.2,857.1 656.7,841.4 657.2,837.9 657.7,835.6 658.2,849.3 658.7,825.6 659.2,832.2 659.7,845.7 660.2,853.7 660.7,829.5 661.2,830.5 661.7,828.2 662.2,844.0 662.7,828.5 663.3,834.2 663.8,841.3 664.3,865.2 664.8,867.1 665.3,831.2 665.8,857.5 666.3,859.5 666.8,863.3 667.3,850.8 667.8,844.8 668.3,827.9 668.8,834.8 669.3,838.2 669.8,859.0 670.3,824.8 670.8,823.2 671.3,825.5 671.8,816.0 672.3,825.9 672.8,824.9 673.3,819.4 673.8,799.9 674.3,792.8 674.8,812.0 675.3,820.5 675.8,818.4 676.3,793.0 676.8,822.0 677.3,824.9 677.8,809.8 678.3,807.6 678.8,816.6 679.3,806.3 679.8,806.1 680.3,803.4 680.8,827.3 681.3,816.5 681.8,810.5 682.3,806.1 682.8,822.4 683.3,813.0 683.8,814.2 684.3,816.1 684.8,814.2 685.3,821.4 685.8,828.1 686.3,807.2 686.8,811.0 687.3,824.4 687.8,813.4 688.3,821.7 688.8,835.8 689.3,827.8 689.8,833.2 690.3,833.8 690.8,833.1 691.3,825.3 691.9,836.4 692.4,817.2 692.9,789.0 693.4,800.0 693.9,846.2 694.4,854.7 694.9,849.1 695.4,862.9 695.9,827.7 696.4,831.4 696.9,815.7 697.4,802.5 697.9,826.8 698.4,803.2 698.9,803.9 699.4,798.8 699.9,789.9 700.4,813.8 700.9,789.8 701.4,800.9 701.9,798.8 702.4,789.7 702.9,791.2 703.4,787.5 703.9,797.4 704.4,801.6 704.9,799.7 705.4,773.5 705.9,773.9 706.4,779.2 706.9,785.6 707.4,786.8 707.9,743.7 708.4,761.4 708.9,782.0 709.4,772.4 709.9,768.8 710.4,751.1 710.9,777.9 711.4,766.7 711.9,756.4 712.4,752.8 712.9,762.0 713.4,763.3 713.9,747.9 714.4,735.4 714.9,749.2 715.4,718.2 715.9,720.8 716.4,734.6 716.9,725.1 717.4,744.0 717.9,719.8 718.4,741.2 718.9,719.8 719.4,723.9 720.0,724.5 720.5,726.7 721.0,712.8 721.5,736.2 722.0,717.5 722.5,732.3 723.0,724.7 723.5,737.6 724.0,730.9 724.5,741.4 725.0,720.4 725.5,710.2 726.0,716.5 726.5,724.0 727.0,727.8 727.5,717.7 728.0,717.0 728.5,711.0 729.0,706.3 729.5,724.0 730.0,716.3 730.5,710.2 731.0,721.1 731.5,716.0 732.0,714.1 732.5,706.5 733.0,702.6 733.5,695.1 734.0,706.2 734.5,686.3 735.0,701.0 735.5,699.2 736.0,683.7 736.5,711.0 737.0,702.6 737.5,692.8 738.0,688.0 738.5,688.6 739.0,684.7 739.5,687.0 740.0,716.6 740.5,699.2 741.0,712.7 741.5,695.1 742.0,695.5 742.5,694.4 743.0,710.1 743.5,692.3 744.0,689.4 744.5,682.4 745.0,698.1 745.5,695.6 746.0,674.6 746.5,672.5 747.0,671.5 747.5,688.0 748.0,681.5 748.6,686.2 749.1,672.3 749.6,680.9 750.1,682.2 750.6,692.1 751.1,676.4 751.6,662.2 752.1,681.0 752.6,692.2 753.1,697.4 753.6,663.4 754.1,684.7 754.6,669.5 755.1,663.2 755.6,673.2 756.1,680.0 756.6,674.8 757.1,687.7 757.6,669.3 758.1,690.2 758.6,675.3 759.1,671.8 759.6,687.0 760.1,680.4 760.6,689.7 761.1,689.4 761.6,683.3 762.1,687.1 762.6,707.6 763.1,683.1 763.6,696.9 764.1,704.1 764.6,700.0 765.1,683.7 765.6,665.6 766.1,678.7 766.6,701.3 767.1,677.0 767.6,693.2 768.1,684.0 768.6,680.7 769.1,690.8 769.6,685.1 770.1,691.3 770.6,681.9 771.1,661.7 771.6,670.0 772.1,676.7 772.6,679.1 773.1,667.3 773.6,676.7 774.1,666.6 774.6,683.0 775.1,675.4 775.6,677.2 776.1,660.0 776.7,675.2 777.2,676.4 777.7,660.0 778.2,660.0 778.7,660.0 779.2,669.2 779.7,675.8 780.2,660.0 780.7,679.0 781.2,660.0 781.7,660.0 782.2,674.0 782.7,667.5 783.2,663.8 783.7,678.1 784.2,673.5 784.7,688.9 785.2,679.8 785.7,690.4 786.2,675.4 786.7,686.8 787.2,730.7 787.7,715.9 788.2,661.9 788.7,666.9 789.2,670.1 789.7,702.8 790.2,683.8 790.7,709.9 791.2,708.0 791.7,704.7 792.2,731.2 792.7,707.3 793.2,727.1 793.7,716.0 794.2,724.1 794.7,710.2 795.2,722.1 795.7,719.8 796.2,728.6 796.7,710.9 797.2,739.5 797.7,740.8 798.2,752.3 798.7,741.5 799.2,725.9 799.7,727.6 800.2,737.0 800.7,736.6 801.2,726.1 801.7,731.0 802.2,764.3 802.7,753.2 803.2,768.1 803.7,760.4 804.2,774.8 804.7,750.2 805.3,751.6 805.8,746.2 806.3,757.6 806.8,747.1 807.3,761.8 807.8,741.3 808.3,753.6 808.8,748.0 809.3,764.2 809.8,759.1 810.3,759.8 810.8,749.3 811.3,755.1 811.8,748.4 812.3,751.8 812.8,770.9 813.3,752.8 813.8,766.8 814.3,773.6 814.8,773.7 815.3,783.5 815.8,759.4 816.3,783.0 816.8,790.3 817.3,770.7 817.8,780.2 818.3,761.3 818.8,793.8 819.3,790.5 819.8,779.4 820.3,788.5 820.8,790.5 821.3,774.4 821.8,780.3 822.3,784.9 822.8,797.6 823.3,786.3 823.8,788.5 824.3,772.8 824.8,803.9 825.3,787.8 825.8,791.6 826.3,796.3 826.8,789.8 827.3,780.5 827.8,778.8 828.3,797.8 828.8,750.8 829.3,771.7 829.8,802.7 830.3,784.8 830.8,786.2 831.3,773.1 831.8,773.6 832.3,795.2 832.8,812.8 833.3,793.4 833.9,809.0 834.4,818.3 834.9,804.9 835.4,799.8 835.9,825.4 836.4,807.4 836.9,822.2 837.4,802.8 837.9,817.5 838.4,799.1 838.9,804.9 839.4,806.4 839.9,816.2 840.4,823.5 840.9,826.8 841.4,790.7 841.9,804.2 842.4,799.2 842.9,821.1 843.4,817.0 843.9,816.1 844.4,828.6 844.9,828.5 845.4,835.5 845.9,835.5 846.4,836.8 846.9,826.0 847.4,820.7 847.9,820.1 848.4,826.5 848.9,831.7 849.4,816.9 849.9,829.2 850.4,834.6 850.9,844.3 851.4,830.2 851.9,830.1 852.4,829.2 852.9,841.8 853.4,817.0 853.9,835.8 854.4,819.0 854.9,826.5 855.4,836.3 855.9,825.1 856.4,827.7 856.9,820.9 857.4,816.4 857.9,841.0 858.4,829.2 858.9,834.2 859.4,830.6 859.9,834.5 860.4,837.1 860.9,841.0 861.4,830.8 862.0,835.5 862.5,842.8 863.0,820.6 863.5,820.5 864.0,816.7 864.5,857.9 865.0,853.9 865.5,828.2 866.0,837.2 866.5,848.9 867.0,862.7 867.5,839.0 868.0,829.3 868.5,848.8 869.0,860.8 869.5,837.2 870.0,840.5 870.5,840.1 871.0,852.1 871.5,826.8 872.0,848.4 872.5,842.7 873.0,842.2 873.5,841.2 874.0,832.2 874.5,834.7 875.0,816.2 875.5,854.7 876.0,862.8 876.5,846.4 877.0,848.9 877.5,847.7 878.0,840.3 878.5,828.1 879.0,831.1 879.5,833.6 880.0,839.4 880.5,835.0 881.0,814.3 881.5,819.0 882.0,852.8 882.5,850.8 883.0,851.7 883.5,831.0 884.0,825.6 884.5,822.4 885.0,826.3 885.5,829.9 886.0,816.9 886.5,826.0 887.0,824.0 887.5,817.6 888.0,835.2 888.5,823.8 889.0,808.4 889.5,834.4 890.0,827.9 890.6,806.5 891.1,828.6 891.6,827.2 892.1,823.9 892.6,830.3 893.1,819.9 893.6,831.8 894.1,819.2 894.6,825.5 895.1,822.6 895.6,825.1 896.1,822.9 896.6,816.3 897.1,825.5 897.6,820.7 898.1,836.4 898.6,823.4 899.1,838.9 899.6,810.7 900.1,809.9 900.6,814.0 901.1,825.7 901.6,817.6 902.1,815.4 902.6,818.0 903.1,809.6 903.6,814.0 904.1,817.9 904.6,811.7 905.1,801.9 905.6,822.6 906.1,810.6 906.6,797.5 907.1,802.7 907.6,826.4 908.1,810.2 908.6,800.9 909.1,796.3 909.6,799.3 910.1,810.4 910.6,819.0 911.1,818.8 911.6,817.0 912.1,819.8 912.6,820.3 913.1,819.9 913.6,827.3 914.1,820.4 914.6,828.1 915.1,806.4 915.6,811.9 916.1,829.1 916.6,824.1 917.1,814.8 917.6,838.0 918.1,841.0 918.6,806.4 919.2,827.0 919.7,818.8 920.2,811.8 920.7,822.6 921.2,817.8 921.7,823.2 922.2,821.6 922.7,820.0 923.2,823.7 923.7,834.4 924.2,816.0 924.7,824.4 925.2,833.2 925.7,827.8 926.2,825.3 926.7,822.7 927.2,818.0 927.7,819.2 928.2,830.4 928.7,821.1 929.2,834.2 929.7,830.8 930.2,826.5 930.7,829.7 931.2,820.7 931.7,834.3 932.2,817.4 932.7,812.8 933.2,808.2 933.7,819.2 934.2,813.4 934.7,819.1 935.2,811.6 935.7,824.0 936.2,816.6 936.7,820.2 937.2,812.3 937.7,813.9 938.2,813.8 938.7,808.9 939.2,812.5 939.7,804.1 940.2,807.8 940.7,817.5 941.2,803.8 941.7,798.2 942.2,816.9 942.7,827.6 943.2,814.4 943.7,817.9 944.2,818.7 944.7,827.1 945.2,812.9 945.7,821.2 946.2,821.4 946.7,811.1 947.3,837.0 947.8,833.2 948.3,829.9 948.8,816.0 949.3,810.7 949.8,815.3 950.3,820.9 950.8,825.1 951.3,819.5 951.8,830.0 952.3,824.9 952.8,827.0 953.3,840.7 953.8,822.7 954.3,828.9 954.8,834.2 955.3,821.1 955.8,823.6 956.3,828.2 956.8,828.2 957.3,830.2 957.8,830.1 958.3,833.2 958.8,825.0 959.3,821.5 959.8,826.9 960.3,830.0 960.8,818.1 961.3,825.2 961.8,822.2 962.3,819.2 962.8,818.1 963.3,822.5 963.8,808.9 964.3,809.7 964.8,816.1 965.3,820.2 965.8,821.6 966.3,820.8 966.8,814.0 967.3,828.7 967.8,828.5 968.3,821.7 968.8,830.4 969.3,816.0 969.8,822.5 970.3,815.6 970.8,809.5 971.3,821.8 971.8,818.1 972.3,820.7 972.8,827.9 973.3,830.4 973.8,823.4 974.3,824.8 974.8,827.6 975.3,824.3 975.9,818.2 976.4,827.3 976.9,842.8 977.4,857.5 977.9,839.8 978.4,834.6 978.9,835.6 979.4,826.9 979.9,840.4 980.4,838.5 980.9,839.6 981.4,838.7 981.9,830.3 982.4,820.0 982.9,835.0 983.4,831.6 983.9,817.2 984.4,817.4 984.9,821.8 985.4,824.7 985.9,823.3 986.4,822.5 986.9,824.9 987.4,832.9 987.9,835.8 988.4,828.5 988.9,837.1 989.4,826.8 989.9,821.6 990.4,835.7 990.9,820.6 991.4,831.6 991.9,835.5 992.4,843.7 992.9,846.5 993.4,840.0 993.9,840.6 994.4,850.1 994.9,845.2 995.4,841.5 995.9,840.1 996.4,842.1 996.9,843.4 997.4,845.0 997.9,841.2 998.4,857.6 998.9,864.3 999.4,831.2 999.9,826.8 1000.4,836.8 1000.9,838.4 1001.4,846.5 1001.9,851.5 1002.4,858.6 1002.9,840.4 1003.4,834.4 1003.9,839.3 1004.5,849.4 1005.0,850.0 1005.5,852.5 1006.0,847.8 1006.5,854.2 1007.0,840.8 1007.5,828.2 1008.0,837.6 1008.5,862.1 1009.0,852.7 1009.5,864.8 1010.0,858.1 1010.5,855.1 1011.0,864.0 1011.5,858.1 1012.0,865.9 1012.5,849.2 1013.0,861.9 1013.5,867.9 1014.0,852.1 1014.5,873.9 1015.0,860.5 1015.5,871.9 1016.0,860.6 1016.5,868.4 1017.0,867.7 1017.5,865.9 1018.0,853.4 1018.5,866.9 1019.0,853.0 1019.5,865.5 1020.0,865.5 1020.5,849.0 1021.0,850.9 1021.5,859.5 1022.0,873.3 1022.5,865.1 1023.0,873.5 1023.5,879.1 1024.0,872.2 1024.5,857.1 1025.0,860.6 1025.5,859.1 1026.0,870.8 1026.5,859.2 1027.0,874.0 1027.5,864.7 1028.0,878.3 1028.5,867.8 1029.0,867.8 1029.5,879.6 1030.0,872.2 1030.5,870.3 1031.0,871.9 1031.5,861.0 1032.0,856.6 1032.6,876.5 1033.1,861.7 1033.6,865.9 1034.1,859.3 1034.6,872.6 1035.1,857.7 1035.6,870.1 1036.1,876.4 1036.6,879.0 1037.1,880.4 1037.6,873.3 1038.1,879.4 1038.6,872.7 1039.1,883.3 1039.6,888.3 1040.1,880.5 1040.6,889.1 1041.1,884.6 1041.6,881.3 1042.1,896.7 1042.6,894.0 1043.1,893.3 1043.6,880.9 1044.1,896.8 1044.6,877.5 1045.1,880.0 1045.6,886.6 1046.1,874.2 1046.6,876.8 1047.1,882.0 1047.6,874.4 1048.1,876.9 1048.6,873.2 1049.1,873.8 1049.6,872.4 1050.1,866.5 1050.6,882.4 1051.1,877.4 1051.6,875.5 1052.1,871.7 1052.6,875.4 1053.1,876.7 1053.6,864.8 1054.1,884.2 1054.6,877.5 1055.1,871.7 1055.6,875.0 1056.1,874.9 1056.6,878.0 1057.1,872.1 1057.6,879.6 1058.1,868.6 1058.6,876.7 1059.1,869.2 1059.6,870.3 1060.1,877.2 1060.6,875.8 1061.2,873.0 1061.7,878.0 1062.2,872.8 1062.7,869.7 1063.2,882.5 1063.7,876.0 1064.2,862.6 1064.7,875.8 1065.2,872.3 1065.7,878.6 1066.2,872.7 1066.7,879.3 1067.2,875.8 1067.7,858.3 1068.2,881.9 1068.7,872.6 1069.2,872.8 1069.7,879.9 1070.2,866.2 1070.7,869.9 1071.2,863.8 1071.7,893.8 1072.2,891.4 1072.7,892.2 1073.2,839.5 1073.7,855.5 1074.2,870.4 1074.7,865.5 1075.2,859.0 1075.7,866.4 1076.2,866.3 1076.7,857.1 1077.2,873.5 1077.7,864.8 1078.2,884.7 1078.7,887.0 1079.2,862.8 1079.7,858.5 1080.2,863.4 1080.7,867.9 1081.2,861.8 1081.7,861.6 1082.2,871.4 1082.7,869.4 1083.2,862.0 1083.7,862.5 1084.2,876.2 1084.7,845.1 1085.2,875.2 1085.7,864.1 1086.2,856.9 1086.7,855.6 1087.2,842.5 1087.7,844.2 1088.2,848.2 1088.7,870.2 1089.2,867.7 1089.8,863.2 1090.3,873.1 1090.8,859.9 1091.3,869.8 1091.8,881.9 1092.3,889.8 1092.8,856.3 1093.3,858.9 1093.8,872.7 1094.3,860.8 1094.8,866.3 1095.3,863.6 1095.8,865.3 1096.3,848.9 1096.8,850.5 1097.3,844.6 1097.8,857.6 1098.3,842.8 1098.8,860.8 1099.3,847.6 1099.8,847.8 1100.3,856.7 1100.8,864.6 1101.3,856.1 1101.8,850.7 1102.3,863.5 1102.8,852.6 1103.3,851.5 1103.8,863.8 1104.3,867.2 1104.8,876.0 1105.3,850.6 1105.8,858.8 1106.3,850.2 1106.8,860.7 1107.3,846.8 1107.8,858.4 1108.3,862.5 1108.8,847.2 1109.3,855.0 1109.8,853.4 1110.3,859.0 1110.8,866.0 1111.3,857.5 1111.8,853.3 1112.3,878.7 1112.8,861.6 1113.3,862.7 1113.8,865.4 1114.3,870.9 1114.8,859.1 1115.3,865.7 1115.8,864.4 1116.3,869.0 1116.8,859.2 1117.3,860.1 1117.9,857.4 1118.4,869.9 1118.9,864.8 1119.4,875.4 1119.9,860.1 1120.4,879.2 1120.9,860.8 1121.4,867.8 1121.9,874.9 1122.4,863.1 1122.9,871.3 1123.4,875.7 1123.9,850.6 1124.4,856.5 1124.9,863.6 1125.4,861.2 1125.9,864.0 1126.4,865.0 1126.9,847.8 1127.4,863.6 1127.9,860.6 1128.4,851.6 1128.9,859.2 1129.4,872.6 1129.9,851.2 1130.4,849.9 1130.9,855.6 1131.4,855.3 1131.9,864.5 1132.4,848.0 1132.9,848.1 1133.4,852.1 1133.9,866.2 1134.4,863.5 1134.9,859.2 1135.4,837.9 1135.9,842.2 1136.4,862.5 1136.9,870.5 1137.4,857.2 1137.9,864.8 1138.4,864.0 1138.9,862.2 1139.4,862.1 1139.9,866.5 1140.4,867.8 1140.9,857.8 1141.4,867.5 1141.9,866.3 1142.4,863.8 1142.9,855.7 1143.4,866.6 1143.9,857.2 1144.4,859.1 1144.9,870.3 1145.4,869.3 1145.9,866.9 1146.5,865.1 1147.0,870.0 1147.5,864.3 1148.0,867.1 1148.5,853.3 1149.0,848.2 1149.5,860.3 1150.0,859.0 1150.5,854.6 1151.0,865.4 1151.5,856.3 1152.0,865.7 1152.5,872.0 1153.0,857.6 1153.5,859.3 1154.0,856.8 1154.5,845.4 1155.0,856.1 1155.5,853.8 1156.0,854.3 1156.5,833.2 1157.0,833.7 1157.5,843.9 1158.0,856.6 1158.5,846.8 1159.0,865.5 1159.5,866.0 1160.0,869.8 1160.5,863.7 1161.0,863.0 1161.5,868.8 1162.0,868.6 1162.5,863.4 1163.0,867.5 1163.5,869.2 1164.0,877.4 1164.5,865.1 1165.0,866.5 1165.5,852.1 1166.0,859.1 1166.5,857.0 1167.0,854.8 1167.5,849.7 1168.0,871.0 1168.5,871.4 1169.0,864.4 1169.5,858.9 1170.0,860.8 1170.5,884.8 1171.0,879.5 1171.5,871.5 1172.0,860.0 1172.5,855.4 1173.0,860.4 1173.5,859.2 1174.0,863.6 1174.5,862.3 1175.1,853.8 1175.6,857.2 1176.1,853.3 1176.6,863.7 1177.1,858.9 1177.6,855.5 1178.1,853.9 1178.6,847.8 1179.1,849.8 1179.6,846.5 1180.1,863.7 1180.6,864.8 1181.1,863.8 1181.6,854.9 1182.1,845.9 1182.6,867.9 1183.1,862.4 1183.6,859.4 1184.1,845.4 1184.6,854.6 1185.1,848.2 1185.6,865.9 1186.1,848.3 1186.6,863.5 1187.1,857.2 1187.6,863.8 1188.1,866.6 1188.6,852.1 1189.1,839.9 1189.6,847.7 1190.1,865.2 1190.6,855.8 1191.1,860.6 1191.6,854.8 1192.1,851.6 1192.6,866.2 1193.1,855.6 1193.6,842.0 1194.1,847.2 1194.6,858.8 1195.1,855.0 1195.6,875.3 1196.1,867.6 1196.6,857.8 1197.1,863.7 1197.6,849.4 1198.1,850.4 1198.6,865.6 1199.1,874.0 1199.6,859.9 1200.1,856.8 1200.6,859.1 1201.1,854.4 1201.6,860.7 1202.1,862.6 1202.6,852.6 1203.2,862.1 1203.7,857.5 1204.2,857.1 1204.7,856.2 1205.2,863.4 1205.7,858.3 1206.2,861.4 1206.7,860.0 1207.2,851.6 1207.7,850.4 1208.2,866.1 1208.7,856.0 1209.2,862.5 1209.7,856.5 1210.2,862.6 1210.7,858.2 1211.2,861.7 1211.7,862.2 1212.2,866.6 1212.7,856.6 1213.2,872.7 1213.7,853.7 1214.2,868.6 1214.7,854.5 1215.2,860.1 1215.7,859.7 1216.2,867.0 1216.7,884.5 1217.2,882.3 1217.7,883.1 1218.2,861.7 1218.7,864.5 1219.2,856.6 1219.7,861.5 1220.2,858.1 1220.7,846.4 1221.2,863.1 1221.7,865.2 1222.2,845.5 1222.7,860.4 1223.2,863.0 1223.7,869.3 1224.2,858.1 1224.7,870.1 1225.2,866.9 1225.7,875.1 1226.2,865.0 1226.7,860.5 1227.2,870.3 1227.7,869.7 1228.2,862.7 1228.7,865.2 1229.2,873.7 1229.7,871.3 1230.2,874.2 1230.7,877.5 1231.2,866.4 1231.8,860.8 1232.3,858.8 1232.8,867.2 1233.3,858.8 1233.8,863.0 1234.3,863.6 1234.8,856.9 1235.3,847.0 1235.8,855.0 1236.3,866.3 1236.8,866.1 1237.3,859.0 1237.8,866.6 1238.3,874.5 1238.8,869.2 1239.3,866.5 1239.8,877.0 1240.3,859.1 1240.8,863.4 1241.3,868.5 1241.8,849.4 1242.3,855.0 1242.8,863.7 1243.3,876.2 1243.8,868.5 1244.3,864.4 1244.8,867.7 1245.3,862.1 1245.8,861.1 1246.3,860.1 1246.8,874.9 1247.3,864.4 1247.8,866.7 1248.3,855.2 1248.8,860.2 1249.3,858.1 1249.8,864.5 1250.3,864.8 1250.8,857.4 1251.3,861.0 1251.8,859.8 1252.3,851.2 1252.8,854.9 1253.3,860.8 1253.8,868.0 1254.3,856.9 1254.8,868.6 1255.3,887.4 1255.8,883.7 1256.3,874.3 1256.8,863.9 1257.3,876.6 1257.8,873.6 1258.3,864.7 1258.8,873.7 1259.3,870.7 1259.8,870.4 1260.4,876.9 1260.9,854.0 1261.4,857.9 1261.9,844.3 1262.4,835.8 1262.9,860.4 1263.4,853.6 1263.9,864.3 1264.4,849.2 1264.9,860.0 1265.4,861.6 1265.9,858.4 1266.4,866.6 1266.9,854.5 1267.4,855.2 1267.9,860.9 1268.4,837.5 1268.9,857.9 1269.4,841.3 1269.9,844.2 1270.4,858.2 1270.9,854.5 1271.4,870.1 1271.9,863.1 1272.4,860.2 1272.9,875.5 1273.4,866.3 1273.9,881.5 1274.4,868.1 1274.9,875.4 1275.4,861.8 1275.9,864.4 1276.4,865.8 1276.9,857.2 1277.4,861.6 1277.9,865.4 1278.4,857.0 1278.9,865.9 1279.4,869.3 1279.9,850.7 1280.4,861.8 1280.9,850.1 1281.4,859.4 1281.9,857.9 1282.4,866.9 1282.9,860.3 1283.4,862.1 1283.9,865.2 1284.4,859.4 1284.9,855.4 1285.4,865.6 1285.9,843.3 1286.4,851.6 1286.9,856.4 1287.4,871.9 1287.9,870.9 1288.5,855.5 1289.0,855.2 1289.5,851.8 1290.0,861.0 1290.5,852.0 1291.0,873.2 1291.5,869.8 1292.0,853.8 1292.5,846.1 1293.0,859.8 1293.5,851.1 1294.0,863.4 1294.5,872.0 1295.0,877.9 1295.5,858.2 1296.0,850.4 1296.5,846.6 1297.0,841.3 1297.5,836.0 1298.0,842.0 1298.5,844.9 1299.0,853.9 1299.5,855.1 1300.0,842.8 1300.5,845.7 1301.0,850.6 1301.5,851.5 1302.0,853.6 1302.5,853.7 1303.0,852.2 1303.5,849.8 1304.0,856.4 1304.5,841.2 1305.0,828.2 1305.5,832.9 1306.0,851.0 1306.5,832.7 1307.0,850.2 1307.5,856.3 1308.0,851.7 1308.5,847.2 1309.0,852.3 1309.5,858.6 1310.0,852.8 1310.5,864.0 1311.0,857.6 1311.5,855.9 1312.0,854.6 1312.5,860.5 1313.0,874.1 1313.5,864.5 1314.0,871.1 1314.5,878.7 1315.0,857.5 1315.5,862.9 1316.0,864.8 1316.5,884.6 1317.1,887.4 1317.6,872.8 1318.1,866.0 1318.6,869.4 1319.1,863.7 1319.6,850.7 1320.1,854.1 1320.6,864.4 1321.1,857.4 1321.6,858.3 1322.1,851.8 1322.6,865.9 1323.1,852.4 1323.6,849.3 1324.1,857.1 1324.6,867.4 1325.1,852.9 1325.6,854.8 1326.1,847.3 1326.6,854.3 1327.1,862.5 1327.6,829.3 1328.1,853.9 1328.6,847.0 1329.1,851.3 1329.6,855.1 1330.1,860.6 1330.6,856.7 1331.1,860.4 1331.6,854.5 1332.1,846.3 1332.6,855.0 1333.1,856.5 1333.6,852.6 1334.1,852.2 1334.6,858.0 1335.1,850.8 1335.6,844.3 1336.1,853.7 1336.6,854.6 1337.1,851.7 1337.6,835.3 1338.1,836.5 1338.6,851.8 1339.1,841.2 1339.6,854.2 1340.1,827.1 1340.6,842.2 1341.1,846.9 1341.6,847.1 1342.1,845.3 1342.6,847.2 1343.1,846.0 1343.6,850.3 1344.1,849.8 1344.6,834.0 1345.2,852.0 1345.7,851.5 1346.2,853.6 1346.7,852.2 1347.2,851.4 1347.7,841.7 1348.2,844.2 1348.7,850.5 1349.2,843.5 1349.7,843.5 1350.2,850.7 1350.7,842.8 1351.2,841.8 1351.7,844.1 1352.2,842.3 1352.7,841.3 1353.2,835.1 1353.7,844.2 1354.2,856.6 1354.7,850.2 1355.2,839.9 1355.7,858.8 1356.2,844.5 1356.7,844.0 1357.2,845.9 1357.7,852.0 1358.2,839.8 1358.7,855.7 1359.2,852.4 1359.7,832.9 1360.2,843.9 1360.7,849.9 1361.2,859.3 1361.7,850.4 1362.2,842.2 1362.7,837.5 1363.2,837.5 1363.7,862.2 1364.2,841.4 1364.7,854.2 1365.2,854.7 1365.7,859.4 1366.2,851.6 1366.7,854.2 1367.2,848.5 1367.7,843.9 1368.2,848.6 1368.7,859.5 1369.2,873.2 1369.7,869.6 1370.2,839.4 1370.7,846.6 1371.2,853.4 1371.7,829.7 1372.2,833.5 1372.7,843.7 1373.2,843.6 1373.8,822.6 1374.3,832.5 1374.8,842.4 1375.3,842.2 1375.8,837.8 1376.3,844.9 1376.8,849.7 1377.3,847.8 1377.8,851.7 1378.3,845.0 1378.8,844.4 1379.3,839.0 1379.8,850.8 1380.3,842.3 1380.8,848.5 1381.3,839.4 1381.8,845.4 1382.3,836.6 1382.8,837.9 1383.3,835.9 1383.8,832.9 1384.3,835.1 1384.8,835.0 1385.3,846.4 1385.8,837.4 1386.3,838.6 1386.8,841.1 1387.3,846.3 1387.8,837.7 1388.3,848.2 1388.8,844.8 1389.3,858.1 1389.8,845.3 1390.3,844.7 1390.8,836.9 1391.3,849.2 1391.8,839.3 1392.3,836.0 1392.8,831.2 1393.3,834.0 1393.8,841.0 1394.3,834.9 1394.8,845.7 1395.3,847.0 1395.8,835.4 1396.3,836.5 1396.8,846.3 1397.3,855.7 1397.8,847.6 1398.3,869.6 1398.8,849.5 1399.3,854.7 1399.8,843.3 1400.3,840.4 1400.8,842.0 1401.3,846.8 1401.8,840.6 1402.4,846.0 1402.9,849.7 1403.4,824.7 1403.9,819.4 1404.4,832.7 1404.9,837.0 1405.4,842.0 1405.9,838.8 1406.4,848.5 1406.9,826.2 1407.4,834.7 1407.9,848.2 1408.4,834.4 1408.9,833.2 1409.4,838.5 1409.9,841.5 1410.4,839.4 1410.9,837.4 1411.4,828.2 1411.9,848.3 1412.4,845.9 1412.9,828.8 1413.4,838.4 1413.9,833.4 1414.4,830.3 1414.9,838.7 1415.4,827.7 1415.9,831.1 1416.4,840.7 1416.9,838.5 1417.4,831.7 1417.9,840.2 1418.4,851.8 1418.9,834.2 1419.4,835.8 1419.9,855.5 1420.4,850.5 1420.9,853.8 1421.4,828.6 1421.9,838.4 1422.4,832.3 1422.9,828.3 1423.4,838.9 1423.9,827.4 1424.4,840.6 1424.9,829.9 1425.4,820.5 1425.9,821.1 1426.4,818.3 1426.9,836.1 1427.4,838.1 1427.9,817.7 1428.4,837.9 1428.9,826.5 1429.4,817.2 1429.9,813.6 1430.5,818.7 1431.0,815.3 1431.5,822.9 1432.0,808.5 1432.5,820.1 1433.0,809.0 1433.5,817.2 1434.0,813.9 1434.5,800.5 1435.0,820.6 1435.5,814.7 1436.0,802.6 1436.5,801.6 1437.0,792.7 1437.5,815.6 1438.0,801.9 1438.5,805.7 1439.0,794.3 1439.5,805.0 1440.0,808.4 1440.5,808.2 1441.0,802.2 1441.5,797.4 1442.0,801.5 1442.5,796.9 1443.0,791.8 1443.5,791.4 1444.0,805.7 1444.5,813.6 1445.0,806.5 1445.5,808.3 1446.0,806.0 1446.5,797.2 1447.0,812.0 1447.5,797.1 1448.0,810.3 1448.5,795.7 1449.0,787.1 1449.5,798.4 1450.0,789.0 1450.5,804.3 1451.0,791.9 1451.5,788.1 1452.0,794.0 1452.5,797.6 1453.0,783.9 1453.5,792.0 1454.0,783.9 1454.5,772.3 1455.0,767.3 1455.5,764.9 1456.0,784.5 1456.5,786.5 1457.0,779.1 1457.5,781.4 1458.0,777.8 1458.5,776.2 1459.1,767.2 1459.6,773.4 1460.1,787.7 1460.6,783.7 1461.1,790.1 1461.6,772.7 1462.1,779.9 1462.6,774.1 1463.1,777.5 1463.6,769.3 1464.1,778.4 1464.6,776.7 1465.1,751.4 1465.6,776.0 1466.1,773.2 1466.6,750.9 1467.1,777.6 1467.6,766.9 1468.1,750.8 1468.6,753.5 1469.1,747.0 1469.6,741.3 1470.1,741.5 1470.6,749.6 1471.1,729.7 1471.6,727.5 1472.1,736.1 1472.6,733.8 1473.1,730.3 1473.6,748.2 1474.1,739.3 1474.6,717.6 1475.1,715.6 1475.6,726.7 1476.1,723.2 1476.6,716.1 1477.1,719.7 1477.6,721.9 1478.1,720.9 1478.6,708.7 1479.1,708.0 1479.6,712.8 1480.1,700.0 1480.6,705.0 1481.1,695.4 1481.6,702.7 1482.1,704.5 1482.6,700.1 1483.1,706.7 1483.6,695.9 1484.1,700.8 1484.6,699.5 1485.1,685.0 1485.6,694.8 1486.1,688.5 1486.6,685.1 1487.1,695.8 1487.7,681.9 1488.2,683.8 1488.7,673.7 1489.2,687.7 1489.7,681.4 1490.2,679.1 1490.7,687.3 1491.2,692.7 1491.7,681.8 1492.2,694.6 1492.7,683.4 1493.2,677.0 1493.7,684.6 1494.2,662.9 1494.7,672.7 1495.2,665.2 1495.7,670.1 1496.2,670.7 1496.7,670.9 1497.2,690.0 1497.7,681.1 1498.2,675.5 1498.7,673.0 1499.2,670.4 1499.7,678.1 1500.2,670.2 1500.7,675.5 1501.2,669.3 1501.7,672.6 1502.2,662.8 1502.7,666.6 1503.2,668.4 1503.7,665.9 1504.2,656.1 1504.7,659.3 1505.2,662.4 1505.7,657.0 1506.2,661.2 1506.7,646.7 1507.2,655.2 1507.7,660.7 1508.2,655.6 1508.7,659.4 1509.2,646.0 1509.7,650.0 1510.2,648.1 1510.7,650.5 1511.2,642.0 1511.7,649.5 1512.2,654.3 1512.7,656.4 1513.2,658.1 1513.7,638.3 1514.2,640.9 1514.7,636.9 1515.2,636.1 1515.8,642.4 1516.3,649.8 1516.8,639.8 1517.3,638.5 1517.8,637.7 1518.3,634.3 1518.8,630.7 1519.3,625.1 1519.8,625.9 1520.3,619.4 1520.8,620.6 1521.3,628.7 1521.8,618.1 1522.3,615.3 1522.8,626.7 1523.3,619.5 1523.8,625.9 1524.3,622.9 1524.8,626.7 1525.3,622.5 1525.8,622.6 1526.3,647.1 1526.8,658.2 1527.3,633.5 1527.8,627.2 1528.3,632.1 1528.8,630.9 1529.3,624.6 1529.8,629.1 1530.3,633.6 1530.8,623.5 1531.3,622.7 1531.8,618.6 1532.3,614.6 1532.8,619.5 1533.3,618.9 1533.8,618.6 1534.3,617.2 1534.8,617.1 1535.3,622.4 1535.8,621.6 1536.3,622.7 1536.8,630.5 1537.3,629.2 1537.8,621.5 1538.3,618.2 1538.8,612.0 1539.3,622.8 1539.8,637.8 1540.3,614.0 1540.8,618.7 1541.3,647.6 1541.8,642.2 1542.3,640.9 1542.8,647.9 1543.3,648.0 1543.8,640.3 1544.4,649.4 1544.9,643.4 1545.4,632.0 1545.9,647.3 1546.4,633.3 1546.9,634.7 1547.4,644.7 1547.9,630.9 1548.4,639.6 1548.9,643.2 1549.4,636.8 1549.9,642.1 1550.4,635.3 1550.9,642.6 1551.4,644.7 1551.9,643.1 1552.4,638.8 1552.9,632.1 1553.4,636.5 1553.9,632.0 1554.4,633.8 1554.9,653.4 1555.4,661.7 1555.9,662.8 1556.4,631.2 1556.9,648.8 1557.4,645.4 1557.9,645.2 1558.4,644.7 1558.9,649.8 1559.4,639.7 1559.9,651.1 1560.4,653.7 1560.9,641.3 1561.4,645.2 1561.9,642.4 1562.4,644.2 1562.9,637.9 1563.4,652.5 1563.9,656.8 1564.4,643.8 1564.9,658.5 1565.4,629.7 1565.9,629.4 1566.4,662.1 1566.9,649.3 1567.4,639.3 1567.9,660.2 1568.4,652.3 1568.9,661.8 1569.4,670.8 1569.9,659.0 1570.4,662.1 1570.9,668.7 1571.4,659.4 1571.9,666.0 1572.4,662.7 1573.0,674.2 1573.5,673.9 1574.0,674.2 1574.5,682.3 1575.0,675.9 1575.5,685.0 1576.0,679.3 1576.5,698.6 1577.0,707.5 1577.5,712.3 1578.0,695.4 1578.5,701.5 1579.0,693.6 1579.5,692.2 1580.0,697.4 1580.5,701.8 1581.0,704.5 1581.5,709.5 1582.0,693.2 1582.5,702.1 1583.0,695.9 1583.5,700.6 1584.0,711.1 1584.5,708.3 1585.0,707.1 1585.5,707.6 1586.0,719.5 1586.5,733.9 1587.0,727.8 1587.5,716.5 1588.0,704.0 1588.5,719.0 1589.0,719.6 1589.5,716.7 1590.0,724.7 1590.5,717.2 1591.0,727.4 1591.5,731.5 1592.0,727.9 1592.5,726.4 1593.0,716.4 1593.5,732.3 1594.0,734.0 1594.5,739.2 1595.0,739.7 1595.5,725.4 1596.0,734.9 1596.5,735.6 1597.0,733.9 1597.5,753.0 1598.0,747.1 1598.5,743.7 1599.0,744.5 1599.5,738.5 1600.0,728.8 1600.5,747.1 1601.1,742.0 1601.6,738.7 1602.1,746.1 1602.6,728.0 1603.1,744.4 1603.6,739.1 1604.1,735.2 1604.6,743.2 1605.1,738.4 1605.6,738.4 1606.1,740.9 1606.6,730.7 1607.1,758.9 1607.6,762.0 1608.1,745.6 1608.6,748.5 1609.1,745.9 1609.6,745.8 1610.1,739.8 1610.6,745.4 1611.1,738.1 1611.6,755.2 1612.1,751.2 1612.6,754.0 1613.1,753.8 1613.6,757.6 1614.1,758.3 1614.6,761.0 1615.1,767.7 1615.6,770.1 1616.1,772.1 1616.6,778.5 1617.1,771.0 1617.6,765.3 1618.1,757.7 1618.6,775.3 1619.1,750.0 1619.6,754.1 1620.1,772.5 1620.6,771.0 1621.1,765.5 1621.6,777.5 1622.1,767.9 1622.6,781.4 1623.1,774.6 1623.6,769.6 1624.1,777.5 1624.6,775.2 1625.1,779.0 1625.6,780.3 1626.1,779.6 1626.6,771.8 1627.1,774.0 1627.6,780.2 1628.1,789.6 1628.6,767.2 1629.1,781.4 1629.7,777.1 1630.2,788.2 1630.7,785.8 1631.2,781.2 1631.7,771.7 1632.2,792.7 1632.7,786.3 1633.2,783.2 1633.7,781.4 1634.2,774.7 1634.7,778.5 1635.2,785.6 1635.7,771.4 1636.2,782.0 1636.7,767.1 1637.2,781.6 1637.7,784.0 1638.2,789.7 1638.7,798.5 1639.2,765.5 1639.7,769.5 1640.2,783.6 1640.7,788.2 1641.2,793.8 1641.7,800.2 1642.2,787.4 1642.7,795.0 1643.2,811.0 1643.7,800.4 1644.2,795.1 1644.7,802.0 1645.2,796.0 1645.7,800.0 1646.2,793.5 1646.7,789.8 1647.2,792.8 1647.7,801.3 1648.2,796.9 1648.7,802.4 1649.2,801.1 1649.7,794.0 1650.2,806.8 1650.7,801.0 1651.2,799.1 1651.7,804.1 1652.2,796.0 1652.7,798.5 1653.2,806.8 1653.7,801.3 1654.2,786.8 1654.7,798.1 1655.2,792.3 1655.7,792.4 1656.2,806.3 1656.7,809.3 1657.2,823.7 1657.7,809.0 1658.3,807.7 1658.8,796.6 1659.3,804.6 1659.8,822.2 1660.3,824.3 1660.8,822.5 1661.3,812.8 1661.8,819.5 1662.3,807.8 1662.8,802.4 1663.3,815.3 1663.8,810.6 1664.3,816.4 1664.8,815.2 1665.3,818.2 1665.8,822.8 1666.3,815.0 1666.8,823.2 1667.3,824.0 1667.8,813.7 1668.3,812.8 1668.8,820.1 1669.3,810.7 1669.8,815.7 1670.3,813.0 1670.8,817.9 1671.3,813.3 1671.8,801.9 1672.3,824.8 1672.8,804.3 1673.3,821.9 1673.8,820.2 1674.3,829.0 1674.8,813.5 1675.3,812.5 1675.8,824.2 1676.3,808.1 1676.8,817.5 1677.3,808.6 1677.8,816.7 1678.3,811.9 1678.8,826.5 1679.3,819.8 1679.8,824.4 1680.3,820.3 1680.8,824.9 1681.3,820.2 1681.8,820.4 1682.3,816.8 1682.8,808.1 1683.3,830.9 1683.8,839.4 1684.3,828.2 1684.8,837.4 1685.3,821.7 1685.8,838.8 1686.4,839.5 1686.9,845.3 1687.4,846.5 1687.9,827.8 1688.4,829.9 1688.9,832.0 1689.4,830.6 1689.9,833.7 1690.4,823.8 1690.9,843.9 1691.4,829.0 1691.9,817.7 1692.4,835.1 1692.9,815.3 1693.4,819.5 1693.9,827.9 1694.4,834.7 1694.9,832.9 1695.4,836.1 1695.9,838.5 1696.4,846.8 1696.9,831.3 1697.4,820.2 1697.9,835.0 1698.4,845.1 1698.9,846.8 1699.4,833.8 1699.9,856.7 1700.4,833.6 1700.9,833.0 1701.4,842.4 1701.9,831.5 1702.4,838.3 1702.9,828.6 1703.4,817.5 1703.9,834.7 1704.4,830.1 1704.9,836.5 1705.4,835.8 1705.9,835.4 1706.4,829.7 1706.9,832.5 1707.4,830.0 1707.9,831.4 1708.4,827.4 1708.9,841.6 1709.4,833.9 1709.9,845.6 1710.4,862.0 1710.9,862.1 1711.4,847.9 1711.9,837.6 1712.4,831.3 1712.9,835.8 1713.4,853.2 1713.9,837.8 1714.4,845.7 1715.0,848.4 1715.5,840.3 1716.0,838.8 1716.5,836.6 1717.0,846.8 1717.5,843.5 1718.0,843.3 1718.5,830.4 1719.0,837.3 1719.5,849.3 1720.0,849.7 1720.5,848.2 1721.0,841.4 1721.5,846.6 1722.0,848.2 1722.5,834.2 1723.0,841.7 1723.5,838.1 1724.0,837.9 1724.5,840.1 1725.0,839.9 1725.5,846.2 1726.0,841.8 1726.5,838.4 1727.0,844.0 1727.5,850.4 1728.0,829.9 1728.5,831.5 1729.0,834.0 1729.5,831.6 1730.0,831.6 1730.5,848.4 1731.0,851.2 1731.5,850.3 1732.0,853.5 1732.5,854.3 1733.0,843.6 1733.5,847.5 1734.0,835.6 1734.5,860.9 1735.0,837.6 1735.5,855.8 1736.0,848.8 1736.5,841.7 1737.0,849.3 1737.5,852.9 1738.0,843.3 1738.5,849.4 1739.0,846.8 1739.5,849.3 1740.0,844.8 1740.5,843.9 1741.0,845.2 1741.5,847.9 1742.0,848.7 1742.5,846.1 1743.0,853.7 1743.6,839.8 1744.1,861.0 1744.6,833.2 1745.1,855.9 1745.6,857.3 1746.1,849.3 1746.6,848.9 1747.1,853.4 1747.6,839.1 1748.1,853.3 1748.6,850.6 1749.1,865.1 1749.6,857.7 1750.1,846.9 1750.6,858.1 1751.1,854.4 1751.6,857.5 1752.1,840.9 1752.6,847.7 1753.1,855.3 1753.6,848.3 1754.1,848.0 1754.6,845.7 1755.1,844.2 1755.6,848.3 1756.1,842.4 1756.6,834.3 1757.1,836.5 1757.6,838.8 1758.1,843.7 1758.6,837.8 1759.1,840.9 1759.6,833.5 1760.1,833.2 1760.6,841.4 1761.1,831.6 1761.6,836.5 1762.1,838.5 1762.6,837.1 1763.1,848.4 1763.6,845.6 1764.1,836.4 1764.6,847.3 1765.1,844.5 1765.6,850.3 1766.1,831.6 1766.6,833.7 1767.1,836.3 1767.6,842.5 1768.1,851.9 1768.6,847.8 1769.1,864.8 1769.6,861.1 1770.1,845.2 1770.6,860.2 1771.1,838.2 1771.7,852.5 1772.2,846.9 1772.7,849.4 1773.2,836.8 1773.7,855.6 1774.2,830.2 1774.7,845.7 1775.2,842.6 1775.7,863.0 1776.2,841.0 1776.7,854.2 1777.2,845.1 1777.7,842.3 1778.2,845.9 1778.7,845.4 1779.2,856.8 1779.7,844.5 1780.2,835.2 1780.7,846.5 1781.2,839.0 1781.7,842.9 1782.2,834.7 1782.7,849.4 1783.2,829.8 1783.7,839.9 1784.2,842.3 1784.7,840.2 1785.2,839.3 1785.7,832.9 1786.2,835.5 1786.7,832.7 1787.2,843.1 1787.7,845.3 1788.2,845.0 1788.7,842.6 1789.2,833.4 1789.7,836.2 1790.2,854.5 1790.7,835.1 1791.2,850.1 1791.7,855.3 1792.2,856.6 1792.7,862.3 1793.2,864.3 1793.7,856.6 1794.2,854.7 1794.7,864.3 1795.2,849.7 1795.7,841.0 1796.2,835.1 1796.7,865.7 1797.2,858.4 1797.7,838.5 1798.2,839.6 1798.7,848.8 1799.2,852.8 1799.7,843.7 1800.3,844.5 1800.8,857.4 1801.3,848.0 1801.8,845.6 1802.3,852.9 1802.8,850.4 1803.3,849.3 1803.8,862.7 1804.3,845.9 1804.8,842.0 1805.3,840.3 1805.8,847.3 1806.3,849.6 1806.8,841.4 1807.3,859.9 1807.8,850.7 1808.3,860.0 1808.8,854.0 1809.3,851.9 1809.8,849.2 1810.3,856.5 1810.8,854.2 1811.3,839.0 1811.8,863.8 1812.3,847.7 1812.8,849.9 1813.3,858.5 1813.8,845.5 1814.3,835.7 1814.8,843.1 1815.3,860.1 1815.8,852.2 1816.3,848.8 1816.8,856.6 1817.3,864.5 1817.8,851.9 1818.3,855.3 1818.8,852.4 1819.3,861.4 1819.8,868.3 1820.3,852.6 1820.8,856.3 1821.3,860.7 1821.8,850.7 1822.3,858.4 1822.8,866.9 1823.3,854.3 1823.8,865.3 1824.3,860.4 1824.8,868.9 1825.3,861.9 1825.8,861.4 1826.3,854.8 1826.8,859.3 1827.3,858.5 1827.8,864.7 1828.3,856.7 1828.9,851.6 1829.4,858.8 1829.9,858.6 1830.4,855.1 1830.9,850.6 1831.4,860.8 1831.9,858.7 1832.4,853.9 1832.9,857.9 1833.4,864.1 1833.9,861.1 1834.4,851.9 1834.9,861.7 1835.4,864.3 1835.9,855.6 1836.4,846.1 1836.9,855.7 1837.4,856.0 1837.9,847.1 1838.4,856.5 1838.9,855.1 1839.4,860.9 1839.9,856.2 1840.4,863.4 1840.9,859.3 1841.4,872.0 1841.9,856.2 1842.4,856.3 1842.9,869.9 1843.4,850.3 1843.9,869.4 1844.4,873.3 1844.9,870.4 1845.4,855.6 1845.9,859.0 1846.4,858.0 1846.9,859.3 1847.4,853.0 1847.9,853.3 1848.4,862.7 1848.9,849.7 1849.4,852.6 1849.9,848.2 1850.4,841.1 1850.9,854.3 1851.4,857.3 1851.9,855.2 1852.4,860.4 1852.9,852.5 1853.4,851.5 1853.9,855.3 1854.4,845.7 1854.9,846.2 1855.4,852.5 1855.9,849.7 1856.4,852.4 1857.0,844.9 1857.5,842.7 1858.0,861.6 1858.5,855.8 1859.0,854.9 1859.5,858.1 1860.0,849.4 1860.5,858.4 1861.0,853.9 1861.5,865.9 1862.0,865.5 1862.5,861.4 1863.0,854.5 1863.5,853.8 1864.0,862.9 1864.5,854.3 1865.0,856.1 1865.5,865.7 1866.0,851.0 1866.5,850.1 1867.0,852.1 1867.5,842.7 1868.0,845.8 1868.5,859.3 1869.0,857.3 1869.5,851.4 1870.0,856.1 1870.5,851.1 1871.0,863.8" fill="none" stroke="#ff0000" stroke-width="3.8" stroke-linejoin="miter" stroke-miterlimit="2"/>
<polyline clip-path="url(#c2)" points="165.0,862.8 167.8,862.8 170.7,862.8 173.5,862.8 176.4,862.7 179.2,862.7 182.1,862.6 184.9,862.6 187.8,862.5 190.6,862.4 193.5,862.3 196.3,862.2 199.2,862.1 202.0,862.0 204.9,861.9 207.7,861.8 210.6,861.7 213.4,861.5 216.3,861.4 219.1,861.3 222.0,861.1 224.8,861.0 227.7,860.8 230.5,860.6 233.4,860.5 236.2,860.3 239.1,860.1 241.9,859.9 244.8,859.7 247.6,859.5 250.5,859.3 253.3,859.1 256.2,858.9 259.0,858.7 261.9,858.5 264.7,858.1 267.6,857.8 270.4,857.4 273.3,857.0 276.1,856.5 279.0,856.1 281.8,855.6 284.7,855.1 287.5,854.7 290.4,854.2 293.2,853.7 296.1,853.2 298.9,852.7 301.7,852.2 304.6,851.7 307.4,851.1 310.3,850.5 313.1,849.9 316.0,849.3 318.8,848.7 321.7,848.0 324.5,847.3 327.4,846.5 330.2,845.7 333.1,844.9 335.9,843.9 338.8,842.9 341.6,841.8 344.5,840.6 347.3,839.3 350.2,837.9 353.0,836.4 355.9,834.7 358.7,832.9 361.6,831.0 364.4,828.9 367.3,826.8 370.1,824.6 373.0,822.3 375.8,820.0 378.7,817.5 381.5,814.9 384.4,812.1 387.2,809.2 390.1,806.2 392.9,802.9 395.8,799.4 398.6,795.5 401.5,791.3 404.3,786.7 407.2,781.9 410.0,776.8 412.9,771.1 415.7,765.0 418.6,758.5 421.4,751.9 424.3,745.2 427.1,737.9 429.9,730.4 432.8,723.1 435.6,716.5 438.5,710.4 441.3,704.5 444.2,699.1 447.0,694.5 449.9,691.1 452.7,688.1 455.6,685.6 458.4,684.2 461.3,684.3 464.1,686.1 467.0,688.7 469.8,692.0 472.7,696.6 475.5,702.2 478.4,708.2 481.2,714.3 484.1,721.1 486.9,728.5 489.8,736.0 492.6,743.1 495.5,749.4 498.3,755.4 501.2,761.1 504.0,766.6 506.9,771.7 509.7,776.6 512.6,781.3 515.4,785.9 518.3,790.2 521.1,794.2 524.0,798.0 526.8,801.5 529.7,805.0 532.5,808.2 535.4,811.2 538.2,813.8 541.1,816.1 543.9,818.2 546.8,820.0 549.6,821.7 552.5,823.2 555.3,824.6 558.2,825.8 561.0,826.9 563.8,827.9 566.7,828.9 569.5,829.7 572.4,830.5 575.2,831.0 578.1,831.6 580.9,832.0 583.8,832.5 586.6,832.9 589.5,833.3 592.3,833.6 595.2,833.8 598.0,834.0 600.9,834.0 603.7,834.0 606.6,834.0 609.4,833.9 612.3,833.9 615.1,833.8 618.0,833.7 620.8,833.6 623.7,833.5 626.5,833.4 629.4,833.1 632.2,832.5 635.1,831.8 637.9,831.0 640.8,830.1 643.6,829.2 646.5,828.3 649.3,827.3 652.2,826.4 655.0,825.3 657.9,824.1 660.7,822.9 663.6,821.7 666.4,820.6 669.3,819.3 672.1,818.0 675.0,816.5 677.8,814.7 680.7,812.5 683.5,810.0 686.4,807.3 689.2,804.5 692.0,801.6 694.9,798.5 697.7,795.1 700.6,791.4 703.4,787.4 706.3,783.2 709.1,778.7 712.0,773.9 714.8,768.8 717.7,763.1 720.5,756.9 723.4,750.4 726.2,743.6 729.1,736.6 731.9,729.1 734.8,721.3 737.6,713.8 740.5,706.0 743.3,698.1 746.2,690.7 749.0,684.7 751.9,679.5 754.7,674.5 757.6,670.6 760.4,668.7 763.3,668.7 766.1,668.7 769.0,668.7 771.8,668.7 774.7,670.6 777.5,674.3 780.4,678.3 783.2,683.4 786.1,689.4 788.9,696.0 791.8,703.9 794.6,712.5 797.5,720.8 800.3,728.3 803.2,735.5 806.0,742.5 808.9,749.3 811.7,756.0 814.6,762.5 817.4,768.5 820.3,774.0 823.1,779.2 825.9,784.1 828.8,788.7 831.6,793.1 834.5,797.3 837.3,801.5 840.2,805.6 843.0,809.4 845.9,812.7 848.7,815.4 851.6,817.6 854.4,819.3 857.3,820.8 860.1,822.2 863.0,823.5 865.8,824.9 868.7,826.4 871.5,828.1 874.4,829.9 877.2,831.7 880.1,833.2 882.9,834.5 885.8,835.7 888.6,836.9 891.5,838.1 894.3,839.2 897.2,840.2 900.0,841.2 902.9,842.2 905.7,843.1 908.6,844.0 911.4,844.8 914.3,845.6 917.1,846.3 920.0,847.0 922.8,847.7 925.7,848.2 928.5,848.7 931.4,849.2 934.2,849.7 937.1,850.2 939.9,850.6 942.8,851.0 945.6,851.4 948.5,851.8 951.3,852.2 954.1,852.5 957.0,852.9 959.8,853.2 962.7,853.5 965.5,853.8 968.4,854.1 971.2,854.4 974.1,854.6 976.9,854.9 979.8,855.1 982.6,855.3 985.5,855.5 988.3,855.7 991.2,855.9 994.0,856.2 996.9,856.4 999.7,856.6 1002.6,856.8 1005.4,857.0 1008.3,857.2 1011.1,857.3 1014.0,857.5 1016.8,857.7 1019.7,857.9 1022.5,858.1 1025.4,858.3 1028.2,858.4 1031.1,858.6 1033.9,858.7 1036.8,858.9 1039.6,859.0 1042.5,859.2 1045.3,859.3 1048.2,859.4 1051.0,859.5 1053.9,859.6 1056.7,859.7 1059.6,859.8 1062.4,859.8 1065.3,859.9 1068.1,859.9 1071.0,860.0 1073.8,860.0 1076.7,860.0 1079.5,860.0 1082.4,860.0 1085.2,860.0 1088.0,860.0 1090.9,860.0 1093.7,859.9 1096.6,859.9 1099.4,859.9 1102.3,859.9 1105.1,859.8 1108.0,859.8 1110.8,859.8 1113.7,859.7 1116.5,859.7 1119.4,859.7 1122.2,859.6 1125.1,859.6 1127.9,859.5 1130.8,859.5 1133.6,859.4 1136.5,859.4 1139.3,859.3 1142.2,859.3 1145.0,859.2 1147.9,859.1 1150.7,859.1 1153.6,859.0 1156.4,858.9 1159.3,858.9 1162.1,858.8 1165.0,858.7 1167.8,858.6 1170.7,858.6 1173.5,858.5 1176.4,858.4 1179.2,858.3 1182.1,858.3 1184.9,858.2 1187.8,858.1 1190.6,858.0 1193.5,857.9 1196.3,857.8 1199.2,857.7 1202.0,857.7 1204.9,857.6 1207.7,857.5 1210.6,857.4 1213.4,857.3 1216.2,857.2 1219.1,857.1 1221.9,857.0 1224.8,856.9 1227.6,856.8 1230.5,856.7 1233.3,856.6 1236.2,856.5 1239.0,856.3 1241.9,856.2 1244.7,856.0 1247.6,855.9 1250.4,855.7 1253.3,855.6 1256.1,855.4 1259.0,855.2 1261.8,855.1 1264.7,854.9 1267.5,854.7 1270.4,854.5 1273.2,854.3 1276.1,854.1 1278.9,853.8 1281.8,853.6 1284.6,853.4 1287.5,853.1 1290.3,852.9 1293.2,852.6 1296.0,852.4 1298.9,852.1 1301.7,851.8 1304.6,851.5 1307.4,851.1 1310.3,850.7 1313.1,850.2 1316.0,849.7 1318.8,849.2 1321.7,848.6 1324.5,848.0 1327.4,847.2 1330.2,846.5 1333.1,845.7 1335.9,845.0 1338.8,844.2 1341.6,843.5 1344.5,842.8 1347.3,842.2 1350.1,841.4 1353.0,840.7 1355.8,840.0 1358.7,839.2 1361.5,838.4 1364.4,837.6 1367.2,836.8 1370.1,835.9 1372.9,835.0 1375.8,834.0 1378.6,833.0 1381.5,832.0 1384.3,830.8 1387.2,829.7 1390.0,828.5 1392.9,827.2 1395.7,825.9 1398.6,824.5 1401.4,823.0 1404.3,821.4 1407.1,819.8 1410.0,818.1 1412.8,816.3 1415.7,814.5 1418.5,812.5 1421.4,810.5 1424.2,808.3 1427.1,806.0 1429.9,803.6 1432.8,801.1 1435.6,798.3 1438.5,795.3 1441.3,791.9 1444.2,788.3 1447.0,784.5 1449.9,780.7 1452.7,776.7 1455.6,772.5 1458.4,768.1 1461.3,763.6 1464.1,759.1 1467.0,754.3 1469.8,749.0 1472.7,742.8 1475.5,735.8 1478.3,728.4 1481.2,721.2 1484.0,714.4 1486.9,708.3 1489.7,702.8 1492.6,697.4 1495.4,691.8 1498.3,685.5 1501.1,678.7 1504.0,671.4 1506.8,664.0 1509.7,656.7 1512.5,649.0 1515.4,640.9 1518.2,633.7 1521.1,628.0 1523.9,623.3 1526.8,619.7 1529.6,617.4 1532.5,615.5 1535.3,614.3 1538.2,614.1 1541.0,615.4 1543.9,617.7 1546.7,620.3 1549.6,623.5 1552.4,627.5 1555.3,632.1 1558.1,637.2 1561.0,642.7 1563.8,649.3 1566.7,656.5 1569.5,664.1 1572.4,672.6 1575.2,681.4 1578.1,689.9 1580.9,698.5 1583.8,707.0 1586.6,715.1 1589.5,722.7 1592.3,729.4 1595.2,735.6 1598.0,741.5 1600.9,747.3 1603.7,753.1 1606.6,759.0 1609.4,764.9 1612.2,770.4 1615.1,775.4 1617.9,779.7 1620.8,783.4 1623.6,786.8 1626.5,790.0 1629.3,792.9 1632.2,795.6 1635.0,798.2 1637.9,800.8 1640.7,803.2 1643.6,805.5 1646.4,807.7 1649.3,809.9 1652.1,811.9 1655.0,813.9 1657.8,815.7 1660.7,817.6 1663.5,819.4 1666.4,821.2 1669.2,822.9 1672.1,824.5 1674.9,826.0 1677.8,827.4 1680.6,828.8 1683.5,830.1 1686.3,831.3 1689.2,832.6 1692.0,833.8 1694.9,835.0 1697.7,836.2 1700.6,837.3 1703.4,838.4 1706.3,839.5 1709.1,840.5 1712.0,841.4 1714.8,842.3 1717.7,843.2 1720.5,843.9 1723.4,844.7 1726.2,845.3 1729.1,845.9 1731.9,846.5 1734.8,847.1 1737.6,847.6 1740.4,848.1 1743.3,848.6 1746.1,849.1 1749.0,849.5 1751.8,849.9 1754.7,850.4 1757.5,850.8 1760.4,851.1 1763.2,851.5 1766.1,851.8 1768.9,852.2 1771.8,852.5 1774.6,852.8 1777.5,853.1 1780.3,853.4 1783.2,853.7 1786.0,854.0 1788.9,854.2 1791.7,854.5 1794.6,854.8 1797.4,855.0 1800.3,855.3 1803.1,855.6 1806.0,855.8 1808.8,856.1 1811.7,856.3 1814.5,856.6 1817.4,856.8 1820.2,857.0 1823.1,857.3 1825.9,857.5 1828.8,857.7 1831.6,857.9 1834.5,858.1 1837.3,858.3 1840.2,858.5 1843.0,858.6 1845.9,858.8 1848.7,859.0 1851.6,859.1 1854.4,859.2 1857.3,859.4 1860.1,859.5 1863.0,859.6 1865.8,859.7 1868.7,859.7 1871.5,859.8" fill="none" stroke="#111" stroke-width="3"/></g>
<rect x="165.0" y="526.3" width="1706.5" height="447.0" fill="none" stroke="#1e1e1e" stroke-width="3.8"/>
<path d="M165.0,521.8V526.3M1871.5,521.8V526.3" stroke="#1e1e1e" stroke-width="3.8"/>
<line x1="165.0" y1="973.3" x2="165.0" y2="996.3" stroke="#1e1e1e" stroke-width="4.4"/>
<line x1="376.8" y1="973.3" x2="376.8" y2="984.8" stroke="#1e1e1e" stroke-width="4.4"/>
<line x1="593.3" y1="973.3" x2="593.3" y2="996.3" stroke="#1e1e1e" stroke-width="4.4"/>
<line x1="805.8" y1="973.3" x2="805.8" y2="984.8" stroke="#1e1e1e" stroke-width="4.4"/>
<line x1="1018.3" y1="973.3" x2="1018.3" y2="996.3" stroke="#1e1e1e" stroke-width="4.4"/>
<line x1="1231.2" y1="973.3" x2="1231.2" y2="984.8" stroke="#1e1e1e" stroke-width="4.4"/>
<line x1="1446.6" y1="973.3" x2="1446.6" y2="996.3" stroke="#1e1e1e" stroke-width="4.4"/>
<line x1="1659.5" y1="973.3" x2="1659.5" y2="984.8" stroke="#1e1e1e" stroke-width="4.4"/>
<line x1="1871.5" y1="973.3" x2="1871.5" y2="996.3" stroke="#1e1e1e" stroke-width="4.4"/>
<g><clipPath id="c3"><rect x="165.0" y="1032.0" width="1706.5" height="446.79999999999995"/></clipPath>
<polyline clip-path="url(#c3)" points="165.5,1439.7 166.0,1415.9 166.5,1435.1 167.0,1434.7 167.5,1457.0 168.0,1411.7 168.5,1390.8 169.0,1419.0 169.5,1402.6 170.0,1430.6 170.5,1405.0 171.0,1405.9 171.5,1411.9 172.0,1423.7 172.5,1407.1 173.0,1434.1 173.5,1413.3 174.0,1410.0 174.5,1416.8 175.0,1410.5 175.5,1400.8 176.0,1405.4 176.5,1412.1 177.0,1425.7 177.5,1412.3 178.0,1414.1 178.5,1386.9 179.0,1406.3 179.5,1408.5 180.1,1426.2 180.6,1424.7 181.1,1410.2 181.6,1414.6 182.1,1409.2 182.6,1403.3 183.1,1411.5 183.6,1408.5 184.1,1416.4 184.6,1421.0 185.1,1413.2 185.6,1427.1 186.1,1405.5 186.6,1417.2 187.1,1419.2 187.6,1399.0 188.1,1422.9 188.6,1423.2 189.1,1432.4 189.6,1414.2 190.1,1420.0 190.6,1419.8 191.1,1396.7 191.6,1415.3 192.1,1397.7 192.6,1414.4 193.1,1418.2 193.6,1413.0 194.1,1389.3 194.6,1423.1 195.1,1410.7 195.6,1416.6 196.1,1399.1 196.6,1401.4 197.1,1425.2 197.6,1402.7 198.1,1400.6 198.6,1401.7 199.1,1416.1 199.6,1419.8 200.1,1405.5 200.6,1401.4 201.1,1436.0 201.6,1423.8 202.1,1415.7 202.6,1418.5 203.1,1415.6 203.6,1415.0 204.1,1419.2 204.6,1439.6 205.1,1420.6 205.6,1421.9 206.1,1428.4 206.6,1440.3 207.1,1430.6 207.6,1415.2 208.2,1425.4 208.7,1394.8 209.2,1383.1 209.7,1386.9 210.2,1421.6 210.7,1411.9 211.2,1430.5 211.7,1415.7 212.2,1379.2 212.7,1381.8 213.2,1373.0 213.7,1402.3 214.2,1398.4 214.7,1390.6 215.2,1373.2 215.7,1397.4 216.2,1416.7 216.7,1400.5 217.2,1380.5 217.7,1394.4 218.2,1409.8 218.7,1409.1 219.2,1407.7 219.7,1421.5 220.2,1372.1 220.7,1366.5 221.2,1410.7 221.7,1425.4 222.2,1412.9 222.7,1424.3 223.2,1421.1 223.7,1398.4 224.2,1410.0 224.7,1408.6 225.2,1409.8 225.7,1421.8 226.2,1423.8 226.7,1417.7 227.2,1422.7 227.7,1405.7 228.2,1420.2 228.7,1403.0 229.2,1411.0 229.7,1403.6 230.2,1396.9 230.7,1382.4 231.2,1395.3 231.7,1408.5 232.2,1391.9 232.7,1398.2 233.2,1424.0 233.7,1425.0 234.2,1424.5 234.7,1422.1 235.2,1418.6 235.7,1413.6 236.2,1431.3 236.8,1421.1 237.3,1421.4 237.8,1423.5 238.3,1408.0 238.8,1406.6 239.3,1388.8 239.8,1418.4 240.3,1398.1 240.8,1424.7 241.3,1400.0 241.8,1413.7 242.3,1418.6 242.8,1412.6 243.3,1429.3 243.8,1416.3 244.3,1419.8 244.8,1432.3 245.3,1437.7 245.8,1426.1 246.3,1418.8 246.8,1420.4 247.3,1434.3 247.8,1411.8 248.3,1411.5 248.8,1410.9 249.3,1428.7 249.8,1421.8 250.3,1408.1 250.8,1408.5 251.3,1414.5 251.8,1408.9 252.3,1403.3 252.8,1404.9 253.3,1426.4 253.8,1422.6 254.3,1428.4 254.8,1410.2 255.3,1407.4 255.8,1388.1 256.3,1389.2 256.8,1366.6 257.3,1419.5 257.8,1412.6 258.3,1407.2 258.8,1447.4 259.3,1418.1 259.8,1420.0 260.3,1408.4 260.8,1429.5 261.3,1416.2 261.8,1404.7 262.3,1428.0 262.8,1401.6 263.3,1423.9 263.8,1406.8 264.3,1403.9 264.8,1402.9 265.4,1400.3 265.9,1401.0 266.4,1413.0 266.9,1408.2 267.4,1393.1 267.9,1410.1 268.4,1393.7 268.9,1412.6 269.4,1403.5 269.9,1406.1 270.4,1420.0 270.9,1389.8 271.4,1430.7 271.9,1433.4 272.4,1446.9 272.9,1441.7 273.4,1425.4 273.9,1441.6 274.4,1428.7 274.9,1404.3 275.4,1399.0 275.9,1419.6 276.4,1414.6 276.9,1393.4 277.4,1406.8 277.9,1396.5 278.4,1419.0 278.9,1403.0 279.4,1412.3 279.9,1419.5 280.4,1413.5 280.9,1404.6 281.4,1412.9 281.9,1405.2 282.4,1432.1 282.9,1428.1 283.4,1403.3 283.9,1409.7 284.4,1442.5 284.9,1428.2 285.4,1392.9 285.9,1431.7 286.4,1426.4 286.9,1430.5 287.4,1419.2 287.9,1437.6 288.4,1423.7 288.9,1409.1 289.4,1418.6 289.9,1414.6 290.4,1420.0 290.9,1417.5 291.4,1385.5 291.9,1404.0 292.4,1412.5 292.9,1403.7 293.5,1423.0 294.0,1395.8 294.5,1403.0 295.0,1400.1 295.5,1395.2 296.0,1408.3 296.5,1407.8 297.0,1407.3 297.5,1420.6 298.0,1402.1 298.5,1412.6 299.0,1410.1 299.5,1412.5 300.0,1398.4 300.5,1399.3 301.0,1418.5 301.5,1399.4 302.0,1404.2 302.5,1407.5 303.0,1387.0 303.5,1410.6 304.0,1407.8 304.5,1418.6 305.0,1422.5 305.5,1408.1 306.0,1406.6 306.5,1408.0 307.0,1385.7 307.5,1392.4 308.0,1400.1 308.5,1386.7 309.0,1406.5 309.5,1382.4 310.0,1389.8 310.5,1393.2 311.0,1399.1 311.5,1384.9 312.0,1390.4 312.5,1397.6 313.0,1395.2 313.5,1399.6 314.0,1386.4 314.5,1383.4 315.0,1370.8 315.5,1380.5 316.0,1387.8 316.5,1378.3 317.0,1388.2 317.5,1399.6 318.0,1387.6 318.5,1400.8 319.0,1399.6 319.5,1393.6 320.0,1400.7 320.5,1403.2 321.0,1383.2 321.5,1411.4 322.1,1381.0 322.6,1420.8 323.1,1412.9 323.6,1417.0 324.1,1423.5 324.6,1417.3 325.1,1393.8 325.6,1394.5 326.1,1386.1 326.6,1396.2 327.1,1384.2 327.6,1399.8 328.1,1384.7 328.6,1399.1 329.1,1393.5 329.6,1413.2 330.1,1392.5 330.6,1413.6 331.1,1400.4 331.6,1390.3 332.1,1418.5 332.6,1415.2 333.1,1421.8 333.6,1402.5 334.1,1414.6 334.6,1420.2 335.1,1408.3 335.6,1428.0 336.1,1405.8 336.6,1418.0 337.1,1402.2 337.6,1404.8 338.1,1409.4 338.6,1413.2 339.1,1417.0 339.6,1419.9 340.1,1396.0 340.6,1415.9 341.1,1408.9 341.6,1396.4 342.1,1404.4 342.6,1415.2 343.1,1411.7 343.6,1391.4 344.1,1397.8 344.6,1397.0 345.1,1412.1 345.6,1396.8 346.1,1391.9 346.6,1398.3 347.1,1376.5 347.6,1400.2 348.1,1408.5 348.6,1404.0 349.1,1384.5 349.6,1422.8 350.1,1406.4 350.7,1399.8 351.2,1399.7 351.7,1407.6 352.2,1398.4 352.7,1397.8 353.2,1403.9 353.7,1387.9 354.2,1403.4 354.7,1407.8 355.2,1373.0 355.7,1423.4 356.2,1397.0 356.7,1398.9 357.2,1387.8 357.7,1384.2 358.2,1400.7 358.7,1391.0 359.2,1385.8 359.7,1389.7 360.2,1389.2 360.7,1402.9 361.2,1402.1 361.7,1409.8 362.2,1386.4 362.7,1395.5 363.2,1392.6 363.7,1372.7 364.2,1388.0 364.7,1391.3 365.2,1375.8 365.7,1369.3 366.2,1398.4 366.7,1363.4 367.2,1386.5 367.7,1374.3 368.2,1374.0 368.7,1364.7 369.2,1360.3 369.7,1381.9 370.2,1386.0 370.7,1363.0 371.2,1382.0 371.7,1372.5 372.2,1380.6 372.7,1372.9 373.2,1369.5 373.7,1362.7 374.2,1361.6 374.7,1376.0 375.2,1375.0 375.7,1366.5 376.2,1362.3 376.7,1369.1 377.2,1379.1 377.7,1382.6 378.2,1382.8 378.8,1373.7 379.3,1378.8 379.8,1360.8 380.3,1384.7 380.8,1371.3 381.3,1363.3 381.8,1362.2 382.3,1361.5 382.8,1390.2 383.3,1401.4 383.8,1367.6 384.3,1383.2 384.8,1377.5 385.3,1362.2 385.8,1367.4 386.3,1369.0 386.8,1372.7 387.3,1391.4 387.8,1395.0 388.3,1375.2 388.8,1373.7 389.3,1362.6 389.8,1377.2 390.3,1358.4 390.8,1359.9 391.3,1363.2 391.8,1368.6 392.3,1362.2 392.8,1338.6 393.3,1360.5 393.8,1373.3 394.3,1358.0 394.8,1365.6 395.3,1353.0 395.8,1367.1 396.3,1371.9 396.8,1335.2 397.3,1358.6 397.8,1351.1 398.3,1346.9 398.8,1336.4 399.3,1345.7 399.8,1347.2 400.3,1333.1 400.8,1333.5 401.3,1330.0 401.8,1338.2 402.3,1337.1 402.8,1340.1 403.3,1333.2 403.8,1324.6 404.3,1325.7 404.8,1315.6 405.3,1328.9 405.8,1310.0 406.3,1308.5 406.8,1314.1 407.4,1295.5 407.9,1313.4 408.4,1319.2 408.9,1311.9 409.4,1311.4 409.9,1308.8 410.4,1304.3 410.9,1303.4 411.4,1294.1 411.9,1306.9 412.4,1311.7 412.9,1320.8 413.4,1301.6 413.9,1308.1 414.4,1309.0 414.9,1301.3 415.4,1300.1 415.9,1299.4 416.4,1299.4 416.9,1313.8 417.4,1284.6 417.9,1287.2 418.4,1283.7 418.9,1297.0 419.4,1297.9 419.9,1283.8 420.4,1298.7 420.9,1281.4 421.4,1301.9 421.9,1288.9 422.4,1295.2 422.9,1274.6 423.4,1292.7 423.9,1285.3 424.4,1278.4 424.9,1268.9 425.4,1287.8 425.9,1285.9 426.4,1275.7 426.9,1285.1 427.4,1283.6 427.9,1282.9 428.4,1262.9 428.9,1274.8 429.4,1268.0 429.9,1258.5 430.4,1263.4 430.9,1255.8 431.4,1268.0 431.9,1256.1 432.4,1259.4 432.9,1262.7 433.4,1270.3 433.9,1259.9 434.4,1243.3 434.9,1265.4 435.4,1254.2 436.0,1261.0 436.5,1251.7 437.0,1246.4 437.5,1236.4 438.0,1248.1 438.5,1252.0 439.0,1239.4 439.5,1238.0 440.0,1212.8 440.5,1214.3 441.0,1240.9 441.5,1246.6 442.0,1236.7 442.5,1240.9 443.0,1230.7 443.5,1247.3 444.0,1239.1 444.5,1227.1 445.0,1230.2 445.5,1235.8 446.0,1245.9 446.5,1235.9 447.0,1265.5 447.5,1259.7 448.0,1225.2 448.5,1212.8 449.0,1224.1 449.5,1224.4 450.0,1224.0 450.5,1223.5 451.0,1220.8 451.5,1239.1 452.0,1241.6 452.5,1226.7 453.0,1251.1 453.5,1246.4 454.0,1236.6 454.5,1228.1 455.0,1237.2 455.5,1237.4 456.0,1246.6 456.5,1236.9 457.0,1247.4 457.5,1259.0 458.0,1231.2 458.5,1231.1 459.0,1245.2 459.5,1248.7 460.0,1216.6 460.5,1226.4 461.0,1216.6 461.5,1232.6 462.0,1230.2 462.5,1222.5 463.0,1255.4 463.5,1239.9 464.1,1212.8 464.6,1218.3 465.1,1226.8 465.6,1234.9 466.1,1240.9 466.6,1241.5 467.1,1257.4 467.6,1245.7 468.1,1241.4 468.6,1243.7 469.1,1217.3 469.6,1254.8 470.1,1263.7 470.6,1252.6 471.1,1272.1 471.6,1256.5 472.1,1275.4 472.6,1270.6 473.1,1288.4 473.6,1278.5 474.1,1302.6 474.6,1298.9 475.1,1294.1 475.6,1276.6 476.1,1274.8 476.6,1271.7 477.1,1296.1 477.6,1296.0 478.1,1293.3 478.6,1295.2 479.1,1280.3 479.6,1272.1 480.1,1298.5 480.6,1299.1 481.1,1300.3 481.6,1303.3 482.1,1302.5 482.6,1291.6 483.1,1303.1 483.6,1328.7 484.1,1337.3 484.6,1330.1 485.1,1301.4 485.6,1301.7 486.1,1293.7 486.6,1298.4 487.1,1309.5 487.6,1287.7 488.1,1297.7 488.6,1313.8 489.1,1304.6 489.6,1299.5 490.1,1320.0 490.6,1324.5 491.1,1325.8 491.6,1327.7 492.1,1316.5 492.7,1350.1 493.2,1348.4 493.7,1351.0 494.2,1364.2 494.7,1343.6 495.2,1341.1 495.7,1344.5 496.2,1350.0 496.7,1349.8 497.2,1341.8 497.7,1351.4 498.2,1354.8 498.7,1356.2 499.2,1354.3 499.7,1347.5 500.2,1360.6 500.7,1363.3 501.2,1375.6 501.7,1359.8 502.2,1376.6 502.7,1372.5 503.2,1364.0 503.7,1356.2 504.2,1362.1 504.7,1358.5 505.2,1356.1 505.7,1362.8 506.2,1360.6 506.7,1352.4 507.2,1373.5 507.7,1368.1 508.2,1347.9 508.7,1362.4 509.2,1365.5 509.7,1347.6 510.2,1361.1 510.7,1382.5 511.2,1376.2 511.7,1382.6 512.2,1383.0 512.7,1383.9 513.2,1381.8 513.7,1377.5 514.2,1375.7 514.7,1385.1 515.2,1400.1 515.7,1402.7 516.2,1406.6 516.7,1395.7 517.2,1390.8 517.7,1409.9 518.2,1406.9 518.7,1403.1 519.2,1403.0 519.7,1396.3 520.2,1410.5 520.7,1411.0 521.3,1399.6 521.8,1408.8 522.3,1405.5 522.8,1419.3 523.3,1411.0 523.8,1403.1 524.3,1403.1 524.8,1392.9 525.3,1420.7 525.8,1412.5 526.3,1417.1 526.8,1402.7 527.3,1404.3 527.8,1417.2 528.3,1409.1 528.8,1413.3 529.3,1426.4 529.8,1418.2 530.3,1418.6 530.8,1417.9 531.3,1412.5 531.8,1422.6 532.3,1418.7 532.8,1435.2 533.3,1423.1 533.8,1418.7 534.3,1429.5 534.8,1425.4 535.3,1430.4 535.8,1418.0 536.3,1408.9 536.8,1415.8 537.3,1426.5 537.8,1424.0 538.3,1418.2 538.8,1417.6 539.3,1405.7 539.8,1412.2 540.3,1437.2 540.8,1408.3 541.3,1416.5 541.8,1406.4 542.3,1422.9 542.8,1409.6 543.3,1407.3 543.8,1405.4 544.3,1411.1 544.8,1416.3 545.3,1415.2 545.8,1407.2 546.3,1400.2 546.8,1405.1 547.3,1413.5 547.8,1419.4 548.3,1417.4 548.8,1413.0 549.4,1411.9 549.9,1421.1 550.4,1419.1 550.9,1405.4 551.4,1412.1 551.9,1417.5 552.4,1420.7 552.9,1418.5 553.4,1429.7 553.9,1410.2 554.4,1429.7 554.9,1415.8 555.4,1421.4 555.9,1416.2 556.4,1421.0 556.9,1408.2 557.4,1430.9 557.9,1416.1 558.4,1419.5 558.9,1403.2 559.4,1420.4 559.9,1416.6 560.4,1428.0 560.9,1425.6 561.4,1419.9 561.9,1396.3 562.4,1418.5 562.9,1406.2 563.4,1434.6 563.9,1435.0 564.4,1438.5 564.9,1417.0 565.4,1417.6 565.9,1422.6 566.4,1419.5 566.9,1429.5 567.4,1425.9 567.9,1442.5 568.4,1438.8 568.9,1440.7 569.4,1426.8 569.9,1424.4 570.4,1419.7 570.9,1433.3 571.4,1421.6 571.9,1412.0 572.4,1409.5 572.9,1427.6 573.4,1420.4 573.9,1419.2 574.4,1430.7 574.9,1442.1 575.4,1448.6 575.9,1443.5 576.4,1413.3 576.9,1420.2 577.4,1422.7 578.0,1414.4 578.5,1412.5 579.0,1412.4 579.5,1434.5 580.0,1430.5 580.5,1418.1 581.0,1418.9 581.5,1425.0 582.0,1423.4 582.5,1419.6 583.0,1406.5 583.5,1405.2 584.0,1411.1 584.5,1416.8 585.0,1415.2 585.5,1409.4 586.0,1404.5 586.5,1422.4 587.0,1404.3 587.5,1412.6 588.0,1414.4 588.5,1417.9 589.0,1426.4 589.5,1403.0 590.0,1399.2 590.5,1423.9 591.0,1429.4 591.5,1404.9 592.0,1404.0 592.5,1398.6 593.0,1421.7 593.5,1437.5 594.0,1416.7 594.5,1429.8 595.0,1419.2 595.5,1397.1 596.0,1412.1 596.5,1416.6 597.0,1412.9 597.5,1405.4 598.0,1409.3 598.5,1402.7 599.0,1437.4 599.5,1422.7 600.0,1426.5 600.5,1426.5 601.0,1418.8 601.5,1410.5 602.0,1420.9 602.5,1416.3 603.0,1419.3 603.5,1434.0 604.0,1447.6 604.5,1418.7 605.0,1414.4 605.5,1410.7 606.0,1415.6 606.6,1410.8 607.1,1417.2 607.6,1416.2 608.1,1408.0 608.6,1422.1 609.1,1417.7 609.6,1400.4 610.1,1420.8 610.6,1404.1 611.1,1398.2 611.6,1409.5 612.1,1417.7 612.6,1420.6 613.1,1405.6 613.6,1412.0 614.1,1411.2 614.6,1419.9 615.1,1416.4 615.6,1413.2 616.1,1412.0 616.6,1410.9 617.1,1410.4 617.6,1406.8 618.1,1403.0 618.6,1399.7 619.1,1390.1 619.6,1408.8 620.1,1426.5 620.6,1431.5 621.1,1425.0 621.6,1411.7 622.1,1408.3 622.6,1419.8 623.1,1398.3 623.6,1423.1 624.1,1415.8 624.6,1407.3 625.1,1419.3 625.6,1412.9 626.1,1417.9 626.6,1413.3 627.1,1415.7 627.6,1413.9 628.1,1411.3 628.6,1409.4 629.1,1418.1 629.6,1419.0 630.1,1419.2 630.6,1411.0 631.1,1414.5 631.6,1415.9 632.1,1416.0 632.6,1414.6 633.1,1418.6 633.6,1411.5 634.1,1418.8 634.7,1407.1 635.2,1412.4 635.7,1410.3 636.2,1409.5 636.7,1418.2 637.2,1414.1 637.7,1406.1 638.2,1405.5 638.7,1408.4 639.2,1396.2 639.7,1393.2 640.2,1395.6 640.7,1398.7 641.2,1400.9 641.7,1409.7 642.2,1409.9 642.7,1403.5 643.2,1400.3 643.7,1404.9 644.2,1402.8 644.7,1399.1 645.2,1398.9 645.7,1415.3 646.2,1407.6 646.7,1400.5 647.2,1415.0 647.7,1402.1 648.2,1406.7 648.7,1411.1 649.2,1409.0 649.7,1407.2 650.2,1404.7 650.7,1382.5 651.2,1398.4 651.7,1407.0 652.2,1411.7 652.7,1396.6 653.2,1405.7 653.7,1406.2 654.2,1391.7 654.7,1406.1 655.2,1404.7 655.7,1397.9 656.2,1392.9 656.7,1401.1 657.2,1398.7 657.7,1390.2 658.2,1377.0 658.7,1401.0 659.2,1372.3 659.7,1412.0 660.2,1393.2 660.7,1404.6 661.2,1404.2 661.7,1406.6 662.2,1399.1 662.7,1399.0 663.3,1371.4 663.8,1382.5 664.3,1379.5 664.8,1367.8 665.3,1393.7 665.8,1384.7 666.3,1372.5 666.8,1362.4 667.3,1372.2 667.8,1379.8 668.3,1367.2 668.8,1372.2 669.3,1383.6 669.8,1388.0 670.3,1362.3 670.8,1366.9 671.3,1353.4 671.8,1357.4 672.3,1396.8 672.8,1380.9 673.3,1379.6 673.8,1361.9 674.3,1371.5 674.8,1354.2 675.3,1375.4 675.8,1360.3 676.3,1356.9 676.8,1363.4 677.3,1350.4 677.8,1335.5 678.3,1339.7 678.8,1369.4 679.3,1358.6 679.8,1349.0 680.3,1359.1 680.8,1357.3 681.3,1360.7 681.8,1346.3 682.3,1351.8 682.8,1350.6 683.3,1347.2 683.8,1358.6 684.3,1350.9 684.8,1331.7 685.3,1347.1 685.8,1315.6 686.3,1308.3 686.8,1323.8 687.3,1337.5 687.8,1334.3 688.3,1357.1 688.8,1343.7 689.3,1352.3 689.8,1343.6 690.3,1351.8 690.8,1333.4 691.3,1325.7 691.9,1350.2 692.4,1359.7 692.9,1346.3 693.4,1337.5 693.9,1331.7 694.4,1335.0 694.9,1331.2 695.4,1320.1 695.9,1307.7 696.4,1317.7 696.9,1303.7 697.4,1311.8 697.9,1333.8 698.4,1326.1 698.9,1310.2 699.4,1315.7 699.9,1323.4 700.4,1296.9 700.9,1283.3 701.4,1282.5 701.9,1315.8 702.4,1314.2 702.9,1311.4 703.4,1304.6 703.9,1301.6 704.4,1300.5 704.9,1295.2 705.4,1299.1 705.9,1300.0 706.4,1302.2 706.9,1323.3 707.4,1300.3 707.9,1302.4 708.4,1290.5 708.9,1295.0 709.4,1291.7 709.9,1285.6 710.4,1288.1 710.9,1307.5 711.4,1293.1 711.9,1294.6 712.4,1289.8 712.9,1288.6 713.4,1281.4 713.9,1288.4 714.4,1257.9 714.9,1264.9 715.4,1288.3 715.9,1290.7 716.4,1291.5 716.9,1278.6 717.4,1265.6 717.9,1272.1 718.4,1254.4 718.9,1254.2 719.4,1263.9 720.0,1248.4 720.5,1243.8 721.0,1246.3 721.5,1255.2 722.0,1246.4 722.5,1249.1 723.0,1257.0 723.5,1250.4 724.0,1234.7 724.5,1230.4 725.0,1227.0 725.5,1232.3 726.0,1240.1 726.5,1247.8 727.0,1238.4 727.5,1227.2 728.0,1237.2 728.5,1221.3 729.0,1218.9 729.5,1228.1 730.0,1223.0 730.5,1227.2 731.0,1206.5 731.5,1214.1 732.0,1211.5 732.5,1207.4 733.0,1206.0 733.5,1191.8 734.0,1202.3 734.5,1193.5 735.0,1198.6 735.5,1188.9 736.0,1198.3 736.5,1192.4 737.0,1187.4 737.5,1186.1 738.0,1179.4 738.5,1168.1 739.0,1162.0 739.5,1178.8 740.0,1176.1 740.5,1174.3 741.0,1173.8 741.5,1168.3 742.0,1160.8 742.5,1155.7 743.0,1158.7 743.5,1174.1 744.0,1162.9 744.5,1172.3 745.0,1178.2 745.5,1170.8 746.0,1168.8 746.5,1170.6 747.0,1178.6 747.5,1168.3 748.0,1178.3 748.6,1202.6 749.1,1194.3 749.6,1193.9 750.1,1159.2 750.6,1155.0 751.1,1146.8 751.6,1180.5 752.1,1179.6 752.6,1162.4 753.1,1171.1 753.6,1176.7 754.1,1172.0 754.6,1169.1 755.1,1172.9 755.6,1155.0 756.1,1160.3 756.6,1167.0 757.1,1175.9 757.6,1191.5 758.1,1172.9 758.6,1156.5 759.1,1169.0 759.6,1152.8 760.1,1167.8 760.6,1167.7 761.1,1168.3 761.6,1165.0 762.1,1164.1 762.6,1156.8 763.1,1163.0 763.6,1160.6 764.1,1153.6 764.6,1154.2 765.1,1166.2 765.6,1157.4 766.1,1154.2 766.6,1157.8 767.1,1146.1 767.6,1161.2 768.1,1162.8 768.6,1169.7 769.1,1155.5 769.6,1163.2 770.1,1154.0 770.6,1153.4 771.1,1155.0 771.6,1161.0 772.1,1158.0 772.6,1175.5 773.1,1170.9 773.6,1158.5 774.1,1171.4 774.6,1159.4 775.1,1166.6 775.6,1178.4 776.1,1172.3 776.7,1173.9 777.2,1169.9 777.7,1168.2 778.2,1179.4 778.7,1172.4 779.2,1173.7 779.7,1160.3 780.2,1150.2 780.7,1160.3 781.2,1143.3 781.7,1168.3 782.2,1179.7 782.7,1163.7 783.2,1175.8 783.7,1175.7 784.2,1167.2 784.7,1175.3 785.2,1174.8 785.7,1177.2 786.2,1182.0 786.7,1190.1 787.2,1184.3 787.7,1187.4 788.2,1188.4 788.7,1185.0 789.2,1196.8 789.7,1209.0 790.2,1205.5 790.7,1192.2 791.2,1203.0 791.7,1196.7 792.2,1209.4 792.7,1192.7 793.2,1213.8 793.7,1197.0 794.2,1212.2 794.7,1218.6 795.2,1212.5 795.7,1223.1 796.2,1213.9 796.7,1227.6 797.2,1215.9 797.7,1221.3 798.2,1227.3 798.7,1241.6 799.2,1224.1 799.7,1225.8 800.2,1241.6 800.7,1236.7 801.2,1233.6 801.7,1221.1 802.2,1229.7 802.7,1220.5 803.2,1238.6 803.7,1248.0 804.2,1249.7 804.7,1242.5 805.3,1245.5 805.8,1254.6 806.3,1239.6 806.8,1241.9 807.3,1258.2 807.8,1256.5 808.3,1263.5 808.8,1257.1 809.3,1258.1 809.8,1262.5 810.3,1251.8 810.8,1257.1 811.3,1269.7 811.8,1272.0 812.3,1275.3 812.8,1275.7 813.3,1274.5 813.8,1267.9 814.3,1279.8 814.8,1279.8 815.3,1269.9 815.8,1286.5 816.3,1285.2 816.8,1289.6 817.3,1261.2 817.8,1265.9 818.3,1286.7 818.8,1291.9 819.3,1295.5 819.8,1305.0 820.3,1287.5 820.8,1303.7 821.3,1307.7 821.8,1310.0 822.3,1309.3 822.8,1296.4 823.3,1307.8 823.8,1310.2 824.3,1293.7 824.8,1312.3 825.3,1308.3 825.8,1314.2 826.3,1315.7 826.8,1316.6 827.3,1322.6 827.8,1323.5 828.3,1328.8 828.8,1326.2 829.3,1319.2 829.8,1334.7 830.3,1325.9 830.8,1314.9 831.3,1327.5 831.8,1326.2 832.3,1329.1 832.8,1332.2 833.3,1325.0 833.9,1318.6 834.4,1329.7 834.9,1320.8 835.4,1323.1 835.9,1328.3 836.4,1322.6 836.9,1323.4 837.4,1336.6 837.9,1330.0 838.4,1333.7 838.9,1330.6 839.4,1333.1 839.9,1331.5 840.4,1337.2 840.9,1336.2 841.4,1337.5 841.9,1335.7 842.4,1355.0 842.9,1347.3 843.4,1336.9 843.9,1332.9 844.4,1346.8 844.9,1341.7 845.4,1321.3 845.9,1343.8 846.4,1335.5 846.9,1349.4 847.4,1338.2 847.9,1330.8 848.4,1327.2 848.9,1347.4 849.4,1333.7 849.9,1335.0 850.4,1339.0 850.9,1332.6 851.4,1330.4 851.9,1334.2 852.4,1340.8 852.9,1339.7 853.4,1335.0 853.9,1338.5 854.4,1370.1 854.9,1368.0 855.4,1359.9 855.9,1345.0 856.4,1343.5 856.9,1347.3 857.4,1357.8 857.9,1342.2 858.4,1348.5 858.9,1346.3 859.4,1347.3 859.9,1344.8 860.4,1339.2 860.9,1340.4 861.4,1331.0 862.0,1336.4 862.5,1340.4 863.0,1347.4 863.5,1347.7 864.0,1342.5 864.5,1339.0 865.0,1336.1 865.5,1333.7 866.0,1344.4 866.5,1347.7 867.0,1344.0 867.5,1338.2 868.0,1338.5 868.5,1354.3 869.0,1347.4 869.5,1342.6 870.0,1351.0 870.5,1346.4 871.0,1336.2 871.5,1347.8 872.0,1348.4 872.5,1355.2 873.0,1343.6 873.5,1353.3 874.0,1353.8 874.5,1352.4 875.0,1351.3 875.5,1351.9 876.0,1351.6 876.5,1353.8 877.0,1357.5 877.5,1353.4 878.0,1350.4 878.5,1352.5 879.0,1353.4 879.5,1354.1 880.0,1356.3 880.5,1347.6 881.0,1359.0 881.5,1368.9 882.0,1362.6 882.5,1353.9 883.0,1348.5 883.5,1355.9 884.0,1355.7 884.5,1357.8 885.0,1352.5 885.5,1353.3 886.0,1363.3 886.5,1359.0 887.0,1368.4 887.5,1374.8 888.0,1372.6 888.5,1368.9 889.0,1361.7 889.5,1363.9 890.0,1373.7 890.6,1367.9 891.1,1375.4 891.6,1367.7 892.1,1372.3 892.6,1374.4 893.1,1377.3 893.6,1375.5 894.1,1368.4 894.6,1368.0 895.1,1374.5 895.6,1374.3 896.1,1372.9 896.6,1358.1 897.1,1356.5 897.6,1378.2 898.1,1371.0 898.6,1361.3 899.1,1364.1 899.6,1343.3 900.1,1345.5 900.6,1353.5 901.1,1355.2 901.6,1361.4 902.1,1355.7 902.6,1356.5 903.1,1351.3 903.6,1359.3 904.1,1354.1 904.6,1365.2 905.1,1378.4 905.6,1346.3 906.1,1358.4 906.6,1353.2 907.1,1352.9 907.6,1361.0 908.1,1366.9 908.6,1347.0 909.1,1347.5 909.6,1362.8 910.1,1370.1 910.6,1362.9 911.1,1356.1 911.6,1336.7 912.1,1344.3 912.6,1354.6 913.1,1356.4 913.6,1342.6 914.1,1341.5 914.6,1347.2 915.1,1347.6 915.6,1348.2 916.1,1347.2 916.6,1367.0 917.1,1358.5 917.6,1348.9 918.1,1349.7 918.6,1353.7 919.2,1356.4 919.7,1362.5 920.2,1370.8 920.7,1364.4 921.2,1347.7 921.7,1355.6 922.2,1353.7 922.7,1342.3 923.2,1337.6 923.7,1345.3 924.2,1348.2 924.7,1345.3 925.2,1343.2 925.7,1341.0 926.2,1355.3 926.7,1346.0 927.2,1341.3 927.7,1341.0 928.2,1349.6 928.7,1341.2 929.2,1365.5 929.7,1348.7 930.2,1342.6 930.7,1338.5 931.2,1351.2 931.7,1339.8 932.2,1340.4 932.7,1352.4 933.2,1355.6 933.7,1358.1 934.2,1369.9 934.7,1355.8 935.2,1339.8 935.7,1354.7 936.2,1359.7 936.7,1351.9 937.2,1345.9 937.7,1349.3 938.2,1346.0 938.7,1351.9 939.2,1356.4 939.7,1351.6 940.2,1351.6 940.7,1360.6 941.2,1349.6 941.7,1356.3 942.2,1342.3 942.7,1344.8 943.2,1352.8 943.7,1355.9 944.2,1354.8 944.7,1353.9 945.2,1350.5 945.7,1353.6 946.2,1355.5 946.7,1349.3 947.3,1339.7 947.8,1345.9 948.3,1363.0 948.8,1352.2 949.3,1351.8 949.8,1349.9 950.3,1356.4 950.8,1353.1 951.3,1362.7 951.8,1360.8 952.3,1348.0 952.8,1355.2 953.3,1358.8 953.8,1356.1 954.3,1358.2 954.8,1360.9 955.3,1356.4 955.8,1351.8 956.3,1358.4 956.8,1342.0 957.3,1352.2 957.8,1351.9 958.3,1365.3 958.8,1355.4 959.3,1349.5 959.8,1351.7 960.3,1349.4 960.8,1349.5 961.3,1349.5 961.8,1337.4 962.3,1333.3 962.8,1349.0 963.3,1359.7 963.8,1355.7 964.3,1355.6 964.8,1357.7 965.3,1357.4 965.8,1363.5 966.3,1357.0 966.8,1358.0 967.3,1365.2 967.8,1357.2 968.3,1359.2 968.8,1366.3 969.3,1376.1 969.8,1364.4 970.3,1366.6 970.8,1357.8 971.3,1361.1 971.8,1375.1 972.3,1364.7 972.8,1365.5 973.3,1360.8 973.8,1370.3 974.3,1368.8 974.8,1371.5 975.3,1372.5 975.9,1366.1 976.4,1364.9 976.9,1368.7 977.4,1369.7 977.9,1372.7 978.4,1368.7 978.9,1360.6 979.4,1367.9 979.9,1363.0 980.4,1362.8 980.9,1379.5 981.4,1363.6 981.9,1361.3 982.4,1364.6 982.9,1379.6 983.4,1373.9 983.9,1371.0 984.4,1373.1 984.9,1380.4 985.4,1371.9 985.9,1377.8 986.4,1376.1 986.9,1376.3 987.4,1380.8 987.9,1376.9 988.4,1379.9 988.9,1377.2 989.4,1370.5 989.9,1374.9 990.4,1380.6 990.9,1392.4 991.4,1377.2 991.9,1385.7 992.4,1376.8 992.9,1384.2 993.4,1387.9 993.9,1383.6 994.4,1384.3 994.9,1381.9 995.4,1386.2 995.9,1386.9 996.4,1389.8 996.9,1385.1 997.4,1383.0 997.9,1383.9 998.4,1384.3 998.9,1387.4 999.4,1389.9 999.9,1378.7 1000.4,1388.6 1000.9,1384.2 1001.4,1378.1 1001.9,1379.8 1002.4,1376.4 1002.9,1375.8 1003.4,1380.9 1003.9,1384.5 1004.5,1382.2 1005.0,1387.2 1005.5,1387.5 1006.0,1388.4 1006.5,1389.2 1007.0,1390.1 1007.5,1379.7 1008.0,1392.6 1008.5,1383.4 1009.0,1400.6 1009.5,1393.0 1010.0,1396.0 1010.5,1395.5 1011.0,1404.5 1011.5,1397.8 1012.0,1402.2 1012.5,1399.7 1013.0,1405.4 1013.5,1399.9 1014.0,1407.7 1014.5,1405.7 1015.0,1402.9 1015.5,1406.8 1016.0,1404.9 1016.5,1402.9 1017.0,1406.6 1017.5,1396.5 1018.0,1408.1 1018.5,1410.8 1019.0,1404.2 1019.5,1409.2 1020.0,1411.9 1020.5,1402.3 1021.0,1415.6 1021.5,1404.0 1022.0,1411.0 1022.5,1409.1 1023.0,1415.0 1023.5,1408.4 1024.0,1411.8 1024.5,1418.4 1025.0,1422.7 1025.5,1419.6 1026.0,1423.9 1026.5,1413.9 1027.0,1417.5 1027.5,1422.8 1028.0,1425.8 1028.5,1426.9 1029.0,1430.7 1029.5,1423.4 1030.0,1424.9 1030.5,1422.8 1031.0,1414.4 1031.5,1406.8 1032.0,1413.5 1032.6,1411.0 1033.1,1417.2 1033.6,1411.3 1034.1,1412.3 1034.6,1405.9 1035.1,1404.8 1035.6,1409.7 1036.1,1414.3 1036.6,1401.0 1037.1,1424.3 1037.6,1401.8 1038.1,1404.0 1038.6,1413.2 1039.1,1425.4 1039.6,1393.9 1040.1,1411.3 1040.6,1418.4 1041.1,1407.3 1041.6,1416.4 1042.1,1411.9 1042.6,1415.4 1043.1,1431.2 1043.6,1420.8 1044.1,1408.6 1044.6,1409.3 1045.1,1406.9 1045.6,1411.4 1046.1,1428.0 1046.6,1433.4 1047.1,1430.4 1047.6,1410.7 1048.1,1408.8 1048.6,1415.4 1049.1,1408.1 1049.6,1408.1 1050.1,1412.8 1050.6,1413.4 1051.1,1405.7 1051.6,1406.5 1052.1,1421.0 1052.6,1401.9 1053.1,1411.8 1053.6,1409.2 1054.1,1421.4 1054.6,1411.2 1055.1,1411.9 1055.6,1415.6 1056.1,1413.1 1056.6,1423.3 1057.1,1423.1 1057.6,1421.8 1058.1,1423.1 1058.6,1416.1 1059.1,1400.8 1059.6,1422.9 1060.1,1416.3 1060.6,1416.0 1061.2,1410.5 1061.7,1413.7 1062.2,1412.8 1062.7,1413.7 1063.2,1413.2 1063.7,1408.5 1064.2,1413.9 1064.7,1422.0 1065.2,1423.3 1065.7,1421.4 1066.2,1406.8 1066.7,1411.3 1067.2,1410.0 1067.7,1409.9 1068.2,1409.6 1068.7,1400.7 1069.2,1422.3 1069.7,1418.0 1070.2,1423.2 1070.7,1416.3 1071.2,1420.4 1071.7,1415.3 1072.2,1409.7 1072.7,1425.0 1073.2,1422.5 1073.7,1428.0 1074.2,1423.9 1074.7,1429.1 1075.2,1410.3 1075.7,1430.2 1076.2,1420.2 1076.7,1424.1 1077.2,1414.8 1077.7,1413.5 1078.2,1426.8 1078.7,1406.8 1079.2,1418.3 1079.7,1416.2 1080.2,1415.5 1080.7,1407.2 1081.2,1413.4 1081.7,1406.3 1082.2,1406.7 1082.7,1408.3 1083.2,1416.4 1083.7,1410.6 1084.2,1411.2 1084.7,1415.2 1085.2,1416.7 1085.7,1408.3 1086.2,1421.0 1086.7,1414.5 1087.2,1413.1 1087.7,1403.9 1088.2,1411.1 1088.7,1397.6 1089.2,1400.2 1089.8,1398.6 1090.3,1412.4 1090.8,1413.6 1091.3,1409.1 1091.8,1393.2 1092.3,1437.3 1092.8,1432.4 1093.3,1437.5 1093.8,1421.4 1094.3,1412.6 1094.8,1415.8 1095.3,1419.8 1095.8,1410.0 1096.3,1416.6 1096.8,1417.8 1097.3,1427.4 1097.8,1419.3 1098.3,1413.4 1098.8,1437.0 1099.3,1427.4 1099.8,1419.9 1100.3,1415.9 1100.8,1422.5 1101.3,1406.9 1101.8,1414.7 1102.3,1406.3 1102.8,1420.9 1103.3,1426.4 1103.8,1418.3 1104.3,1420.0 1104.8,1411.7 1105.3,1407.5 1105.8,1426.2 1106.3,1435.5 1106.8,1417.4 1107.3,1399.8 1107.8,1423.4 1108.3,1418.6 1108.8,1418.5 1109.3,1416.2 1109.8,1414.6 1110.3,1413.9 1110.8,1413.2 1111.3,1412.1 1111.8,1406.5 1112.3,1414.0 1112.8,1417.3 1113.3,1411.2 1113.8,1414.7 1114.3,1427.4 1114.8,1414.3 1115.3,1412.5 1115.8,1416.1 1116.3,1415.5 1116.8,1409.8 1117.3,1425.2 1117.9,1433.3 1118.4,1421.7 1118.9,1425.4 1119.4,1414.9 1119.9,1420.0 1120.4,1420.6 1120.9,1424.9 1121.4,1417.1 1121.9,1422.1 1122.4,1417.2 1122.9,1422.8 1123.4,1415.7 1123.9,1413.7 1124.4,1414.9 1124.9,1413.1 1125.4,1415.6 1125.9,1412.2 1126.4,1415.5 1126.9,1414.1 1127.4,1414.4 1127.9,1412.2 1128.4,1398.6 1128.9,1405.3 1129.4,1418.9 1129.9,1414.9 1130.4,1421.0 1130.9,1417.4 1131.4,1407.2 1131.9,1409.8 1132.4,1392.1 1132.9,1391.7 1133.4,1404.8 1133.9,1409.5 1134.4,1390.9 1134.9,1400.5 1135.4,1386.6 1135.9,1404.5 1136.4,1410.4 1136.9,1392.0 1137.4,1393.1 1137.9,1396.1 1138.4,1400.3 1138.9,1401.8 1139.4,1413.4 1139.9,1411.0 1140.4,1410.6 1140.9,1411.3 1141.4,1414.9 1141.9,1418.3 1142.4,1408.8 1142.9,1417.8 1143.4,1428.0 1143.9,1415.2 1144.4,1421.0 1144.9,1429.2 1145.4,1415.2 1145.9,1415.6 1146.5,1406.5 1147.0,1412.2 1147.5,1409.4 1148.0,1415.9 1148.5,1418.5 1149.0,1411.6 1149.5,1412.1 1150.0,1405.2 1150.5,1420.5 1151.0,1413.2 1151.5,1413.8 1152.0,1422.6 1152.5,1409.4 1153.0,1409.3 1153.5,1407.2 1154.0,1400.0 1154.5,1416.8 1155.0,1407.6 1155.5,1403.2 1156.0,1403.5 1156.5,1411.9 1157.0,1416.5 1157.5,1410.6 1158.0,1404.4 1158.5,1404.2 1159.0,1413.6 1159.5,1417.4 1160.0,1410.6 1160.5,1398.9 1161.0,1414.7 1161.5,1405.7 1162.0,1414.4 1162.5,1415.5 1163.0,1417.2 1163.5,1410.0 1164.0,1411.4 1164.5,1435.1 1165.0,1438.7 1165.5,1417.1 1166.0,1414.5 1166.5,1411.1 1167.0,1406.3 1167.5,1417.6 1168.0,1413.2 1168.5,1404.6 1169.0,1424.4 1169.5,1423.1 1170.0,1424.6 1170.5,1416.0 1171.0,1420.7 1171.5,1412.0 1172.0,1419.9 1172.5,1420.7 1173.0,1425.1 1173.5,1415.2 1174.0,1425.8 1174.5,1428.1 1175.1,1426.8 1175.6,1424.5 1176.1,1425.8 1176.6,1421.5 1177.1,1413.8 1177.6,1407.7 1178.1,1405.4 1178.6,1410.4 1179.1,1405.1 1179.6,1407.8 1180.1,1407.8 1180.6,1401.8 1181.1,1411.6 1181.6,1397.6 1182.1,1399.6 1182.6,1406.3 1183.1,1403.5 1183.6,1395.6 1184.1,1405.0 1184.6,1395.8 1185.1,1405.8 1185.6,1397.0 1186.1,1395.5 1186.6,1399.2 1187.1,1404.2 1187.6,1406.4 1188.1,1400.3 1188.6,1403.2 1189.1,1407.3 1189.6,1410.6 1190.1,1406.6 1190.6,1414.3 1191.1,1412.7 1191.6,1408.3 1192.1,1415.6 1192.6,1412.4 1193.1,1424.5 1193.6,1420.1 1194.1,1418.0 1194.6,1414.9 1195.1,1416.9 1195.6,1417.2 1196.1,1407.6 1196.6,1418.9 1197.1,1408.0 1197.6,1409.4 1198.1,1411.1 1198.6,1431.9 1199.1,1434.5 1199.6,1437.1 1200.1,1409.9 1200.6,1414.5 1201.1,1412.4 1201.6,1418.4 1202.1,1414.6 1202.6,1429.6 1203.2,1422.8 1203.7,1416.8 1204.2,1405.1 1204.7,1414.8 1205.2,1410.6 1205.7,1414.9 1206.2,1410.5 1206.7,1410.5 1207.2,1399.8 1207.7,1396.2 1208.2,1404.8 1208.7,1409.2 1209.2,1411.7 1209.7,1409.6 1210.2,1405.2 1210.7,1416.2 1211.2,1401.8 1211.7,1414.9 1212.2,1408.8 1212.7,1409.0 1213.2,1404.0 1213.7,1417.2 1214.2,1408.0 1214.7,1409.7 1215.2,1412.4 1215.7,1420.4 1216.2,1419.2 1216.7,1411.3 1217.2,1402.8 1217.7,1406.6 1218.2,1412.3 1218.7,1409.3 1219.2,1408.8 1219.7,1437.4 1220.2,1426.1 1220.7,1419.4 1221.2,1417.3 1221.7,1411.1 1222.2,1416.0 1222.7,1417.3 1223.2,1412.8 1223.7,1413.3 1224.2,1389.6 1224.7,1415.6 1225.2,1404.8 1225.7,1418.7 1226.2,1409.8 1226.7,1404.4 1227.2,1412.0 1227.7,1405.6 1228.2,1404.2 1228.7,1412.5 1229.2,1414.3 1229.7,1399.8 1230.2,1407.0 1230.7,1419.9 1231.2,1405.9 1231.8,1405.3 1232.3,1403.7 1232.8,1384.1 1233.3,1398.9 1233.8,1395.3 1234.3,1410.1 1234.8,1417.2 1235.3,1414.0 1235.8,1413.6 1236.3,1399.7 1236.8,1396.8 1237.3,1414.8 1237.8,1412.0 1238.3,1404.1 1238.8,1403.5 1239.3,1406.0 1239.8,1419.4 1240.3,1419.6 1240.8,1411.0 1241.3,1418.4 1241.8,1406.8 1242.3,1423.1 1242.8,1387.1 1243.3,1397.9 1243.8,1410.9 1244.3,1406.8 1244.8,1404.8 1245.3,1407.8 1245.8,1414.4 1246.3,1414.0 1246.8,1394.5 1247.3,1405.2 1247.8,1410.2 1248.3,1409.8 1248.8,1409.1 1249.3,1398.4 1249.8,1404.4 1250.3,1414.5 1250.8,1406.1 1251.3,1404.1 1251.8,1402.4 1252.3,1414.2 1252.8,1419.4 1253.3,1415.6 1253.8,1409.4 1254.3,1419.5 1254.8,1409.5 1255.3,1410.5 1255.8,1417.9 1256.3,1416.7 1256.8,1415.4 1257.3,1414.1 1257.8,1407.1 1258.3,1408.6 1258.8,1407.7 1259.3,1402.8 1259.8,1403.1 1260.4,1409.8 1260.9,1405.6 1261.4,1399.4 1261.9,1401.5 1262.4,1399.5 1262.9,1398.0 1263.4,1426.2 1263.9,1408.6 1264.4,1406.7 1264.9,1399.6 1265.4,1406.4 1265.9,1399.9 1266.4,1411.0 1266.9,1409.7 1267.4,1412.8 1267.9,1406.4 1268.4,1422.4 1268.9,1417.8 1269.4,1421.5 1269.9,1410.6 1270.4,1411.8 1270.9,1421.3 1271.4,1418.9 1271.9,1411.1 1272.4,1411.0 1272.9,1407.8 1273.4,1414.1 1273.9,1406.1 1274.4,1416.7 1274.9,1411.8 1275.4,1411.8 1275.9,1407.4 1276.4,1415.8 1276.9,1414.8 1277.4,1406.5 1277.9,1401.9 1278.4,1416.8 1278.9,1399.7 1279.4,1412.0 1279.9,1398.8 1280.4,1421.9 1280.9,1414.4 1281.4,1406.1 1281.9,1420.8 1282.4,1415.0 1282.9,1399.3 1283.4,1401.9 1283.9,1414.1 1284.4,1410.1 1284.9,1412.4 1285.4,1410.1 1285.9,1407.4 1286.4,1412.4 1286.9,1412.6 1287.4,1401.6 1287.9,1409.2 1288.5,1401.5 1289.0,1398.7 1289.5,1403.0 1290.0,1396.1 1290.5,1401.4 1291.0,1393.1 1291.5,1403.3 1292.0,1401.9 1292.5,1405.0 1293.0,1401.4 1293.5,1395.8 1294.0,1402.4 1294.5,1407.3 1295.0,1404.1 1295.5,1409.4 1296.0,1396.2 1296.5,1400.3 1297.0,1404.5 1297.5,1402.2 1298.0,1408.8 1298.5,1399.8 1299.0,1403.2 1299.5,1399.0 1300.0,1406.9 1300.5,1406.3 1301.0,1399.1 1301.5,1406.6 1302.0,1413.6 1302.5,1409.6 1303.0,1408.8 1303.5,1419.3 1304.0,1401.6 1304.5,1406.9 1305.0,1398.8 1305.5,1406.3 1306.0,1398.3 1306.5,1406.9 1307.0,1413.7 1307.5,1407.9 1308.0,1410.6 1308.5,1400.5 1309.0,1401.3 1309.5,1405.4 1310.0,1405.3 1310.5,1420.7 1311.0,1404.2 1311.5,1404.4 1312.0,1404.0 1312.5,1403.7 1313.0,1408.2 1313.5,1403.2 1314.0,1401.9 1314.5,1405.3 1315.0,1409.7 1315.5,1399.1 1316.0,1404.1 1316.5,1407.8 1317.1,1416.8 1317.6,1400.5 1318.1,1404.8 1318.6,1406.7 1319.1,1406.2 1319.6,1408.2 1320.1,1397.8 1320.6,1391.2 1321.1,1391.2 1321.6,1412.7 1322.1,1405.6 1322.6,1403.2 1323.1,1396.5 1323.6,1399.8 1324.1,1395.4 1324.6,1387.5 1325.1,1395.1 1325.6,1392.3 1326.1,1407.5 1326.6,1407.0 1327.1,1409.7 1327.6,1401.5 1328.1,1404.4 1328.6,1410.9 1329.1,1409.9 1329.6,1400.3 1330.1,1394.4 1330.6,1405.8 1331.1,1404.7 1331.6,1403.9 1332.1,1392.7 1332.6,1401.5 1333.1,1406.0 1333.6,1401.5 1334.1,1399.6 1334.6,1405.3 1335.1,1397.9 1335.6,1415.0 1336.1,1408.0 1336.6,1400.3 1337.1,1422.0 1337.6,1411.2 1338.1,1404.3 1338.6,1411.1 1339.1,1408.3 1339.6,1409.8 1340.1,1408.9 1340.6,1405.0 1341.1,1410.6 1341.6,1405.2 1342.1,1406.0 1342.6,1398.3 1343.1,1406.7 1343.6,1400.5 1344.1,1402.8 1344.6,1406.1 1345.2,1399.9 1345.7,1401.3 1346.2,1399.8 1346.7,1399.3 1347.2,1384.1 1347.7,1404.5 1348.2,1395.7 1348.7,1395.7 1349.2,1395.2 1349.7,1398.5 1350.2,1396.0 1350.7,1392.7 1351.2,1395.2 1351.7,1395.3 1352.2,1387.2 1352.7,1403.4 1353.2,1397.9 1353.7,1403.8 1354.2,1407.7 1354.7,1402.8 1355.2,1394.2 1355.7,1398.6 1356.2,1394.1 1356.7,1405.0 1357.2,1414.1 1357.7,1408.5 1358.2,1382.1 1358.7,1394.4 1359.2,1404.5 1359.7,1387.0 1360.2,1395.7 1360.7,1390.6 1361.2,1398.5 1361.7,1400.6 1362.2,1408.4 1362.7,1405.6 1363.2,1390.8 1363.7,1398.8 1364.2,1386.0 1364.7,1410.2 1365.2,1414.5 1365.7,1391.9 1366.2,1393.2 1366.7,1388.5 1367.2,1390.5 1367.7,1386.6 1368.2,1409.4 1368.7,1405.4 1369.2,1409.3 1369.7,1403.9 1370.2,1395.1 1370.7,1397.3 1371.2,1396.5 1371.7,1395.1 1372.2,1392.3 1372.7,1396.7 1373.2,1393.4 1373.8,1399.7 1374.3,1395.3 1374.8,1388.2 1375.3,1395.4 1375.8,1392.0 1376.3,1389.5 1376.8,1393.4 1377.3,1411.2 1377.8,1408.1 1378.3,1396.9 1378.8,1403.2 1379.3,1398.5 1379.8,1394.3 1380.3,1374.3 1380.8,1373.9 1381.3,1384.7 1381.8,1388.3 1382.3,1387.4 1382.8,1388.5 1383.3,1390.4 1383.8,1388.9 1384.3,1397.3 1384.8,1390.7 1385.3,1400.7 1385.8,1386.7 1386.3,1384.9 1386.8,1390.1 1387.3,1396.7 1387.8,1393.7 1388.3,1390.1 1388.8,1390.3 1389.3,1394.2 1389.8,1400.4 1390.3,1394.8 1390.8,1394.5 1391.3,1392.7 1391.8,1391.4 1392.3,1394.8 1392.8,1394.0 1393.3,1395.7 1393.8,1392.4 1394.3,1395.2 1394.8,1391.6 1395.3,1390.7 1395.8,1402.8 1396.3,1397.0 1396.8,1395.5 1397.3,1397.1 1397.8,1392.9 1398.3,1399.9 1398.8,1402.1 1399.3,1392.3 1399.8,1400.4 1400.3,1400.7 1400.8,1392.7 1401.3,1383.6 1401.8,1390.7 1402.4,1382.7 1402.9,1392.3 1403.4,1382.9 1403.9,1387.2 1404.4,1387.2 1404.9,1382.2 1405.4,1376.8 1405.9,1388.9 1406.4,1378.7 1406.9,1376.7 1407.4,1381.9 1407.9,1380.1 1408.4,1373.8 1408.9,1377.7 1409.4,1379.7 1409.9,1378.4 1410.4,1381.2 1410.9,1375.0 1411.4,1380.5 1411.9,1385.1 1412.4,1383.5 1412.9,1374.2 1413.4,1379.3 1413.9,1377.4 1414.4,1367.9 1414.9,1370.8 1415.4,1374.3 1415.9,1378.2 1416.4,1370.7 1416.9,1371.3 1417.4,1361.0 1417.9,1370.4 1418.4,1365.9 1418.9,1368.3 1419.4,1367.4 1419.9,1362.6 1420.4,1376.6 1420.9,1360.7 1421.4,1374.7 1421.9,1364.6 1422.4,1352.9 1422.9,1360.4 1423.4,1357.6 1423.9,1356.1 1424.4,1351.4 1424.9,1362.8 1425.4,1345.1 1425.9,1345.2 1426.4,1347.0 1426.9,1358.8 1427.4,1352.1 1427.9,1345.8 1428.4,1343.5 1428.9,1359.4 1429.4,1354.5 1429.9,1348.2 1430.5,1353.7 1431.0,1358.2 1431.5,1340.1 1432.0,1364.5 1432.5,1365.2 1433.0,1369.4 1433.5,1346.4 1434.0,1353.1 1434.5,1346.2 1435.0,1351.7 1435.5,1339.3 1436.0,1358.7 1436.5,1341.9 1437.0,1336.9 1437.5,1332.6 1438.0,1342.7 1438.5,1342.0 1439.0,1337.7 1439.5,1336.7 1440.0,1344.2 1440.5,1342.4 1441.0,1321.0 1441.5,1328.8 1442.0,1329.0 1442.5,1337.2 1443.0,1321.5 1443.5,1332.5 1444.0,1315.9 1444.5,1307.8 1445.0,1325.1 1445.5,1331.6 1446.0,1317.7 1446.5,1305.4 1447.0,1308.7 1447.5,1299.2 1448.0,1323.7 1448.5,1319.1 1449.0,1322.0 1449.5,1317.2 1450.0,1315.6 1450.5,1323.7 1451.0,1309.6 1451.5,1307.4 1452.0,1312.1 1452.5,1304.5 1453.0,1301.1 1453.5,1311.2 1454.0,1299.9 1454.5,1295.7 1455.0,1292.8 1455.5,1292.9 1456.0,1294.6 1456.5,1298.7 1457.0,1305.0 1457.5,1297.9 1458.0,1295.0 1458.5,1292.1 1459.1,1297.9 1459.6,1296.5 1460.1,1301.9 1460.6,1297.2 1461.1,1299.2 1461.6,1298.2 1462.1,1298.0 1462.6,1295.5 1463.1,1302.7 1463.6,1287.5 1464.1,1293.1 1464.6,1288.6 1465.1,1282.8 1465.6,1282.3 1466.1,1287.2 1466.6,1274.9 1467.1,1273.0 1467.6,1274.1 1468.1,1273.6 1468.6,1268.0 1469.1,1277.6 1469.6,1271.8 1470.1,1250.9 1470.6,1255.7 1471.1,1262.7 1471.6,1274.7 1472.1,1270.4 1472.6,1269.9 1473.1,1273.3 1473.6,1258.3 1474.1,1273.4 1474.6,1259.0 1475.1,1263.5 1475.6,1258.9 1476.1,1264.3 1476.6,1256.7 1477.1,1255.0 1477.6,1254.7 1478.1,1248.6 1478.6,1247.1 1479.1,1243.2 1479.6,1245.0 1480.1,1242.4 1480.6,1234.2 1481.1,1237.1 1481.6,1247.2 1482.1,1236.5 1482.6,1229.9 1483.1,1226.7 1483.6,1227.7 1484.1,1230.1 1484.6,1213.1 1485.1,1222.4 1485.6,1219.1 1486.1,1225.5 1486.6,1216.9 1487.1,1221.0 1487.7,1206.1 1488.2,1208.3 1488.7,1215.4 1489.2,1207.3 1489.7,1211.2 1490.2,1209.5 1490.7,1203.0 1491.2,1204.7 1491.7,1209.3 1492.2,1205.6 1492.7,1198.2 1493.2,1199.4 1493.7,1198.9 1494.2,1199.2 1494.7,1203.1 1495.2,1190.3 1495.7,1193.3 1496.2,1198.8 1496.7,1192.3 1497.2,1191.6 1497.7,1202.7 1498.2,1193.6 1498.7,1211.2 1499.2,1191.5 1499.7,1187.8 1500.2,1184.7 1500.7,1182.1 1501.2,1186.1 1501.7,1178.8 1502.2,1177.5 1502.7,1167.0 1503.2,1175.4 1503.7,1167.9 1504.2,1172.5 1504.7,1166.4 1505.2,1167.4 1505.7,1190.0 1506.2,1159.8 1506.7,1162.4 1507.2,1155.5 1507.7,1160.9 1508.2,1160.1 1508.7,1153.8 1509.2,1153.2 1509.7,1164.8 1510.2,1152.2 1510.7,1155.4 1511.2,1154.8 1511.7,1154.6 1512.2,1148.5 1512.7,1144.0 1513.2,1154.5 1513.7,1155.9 1514.2,1145.5 1514.7,1155.4 1515.2,1148.9 1515.8,1176.0 1516.3,1174.4 1516.8,1162.2 1517.3,1154.5 1517.8,1148.0 1518.3,1139.6 1518.8,1148.3 1519.3,1142.5 1519.8,1137.5 1520.3,1147.3 1520.8,1144.5 1521.3,1137.9 1521.8,1141.5 1522.3,1133.1 1522.8,1141.1 1523.3,1131.2 1523.8,1134.1 1524.3,1120.3 1524.8,1125.7 1525.3,1128.6 1525.8,1128.7 1526.3,1138.0 1526.8,1134.8 1527.3,1138.8 1527.8,1133.2 1528.3,1125.1 1528.8,1128.0 1529.3,1119.4 1529.8,1119.9 1530.3,1130.7 1530.8,1131.0 1531.3,1126.9 1531.8,1127.4 1532.3,1121.1 1532.8,1128.9 1533.3,1124.1 1533.8,1133.2 1534.3,1132.6 1534.8,1135.3 1535.3,1125.3 1535.8,1137.9 1536.3,1131.2 1536.8,1144.5 1537.3,1141.3 1537.8,1139.3 1538.3,1143.9 1538.8,1129.5 1539.3,1129.7 1539.8,1140.1 1540.3,1145.3 1540.8,1142.2 1541.3,1137.3 1541.8,1136.0 1542.3,1149.9 1542.8,1162.0 1543.3,1161.6 1543.8,1157.9 1544.4,1148.8 1544.9,1153.3 1545.4,1167.1 1545.9,1162.8 1546.4,1158.6 1546.9,1153.9 1547.4,1166.4 1547.9,1166.0 1548.4,1160.6 1548.9,1154.4 1549.4,1166.7 1549.9,1163.2 1550.4,1145.8 1550.9,1162.6 1551.4,1157.8 1551.9,1151.7 1552.4,1155.1 1552.9,1158.8 1553.4,1164.7 1553.9,1173.0 1554.4,1181.2 1554.9,1160.4 1555.4,1167.4 1555.9,1167.1 1556.4,1171.5 1556.9,1159.7 1557.4,1167.7 1557.9,1167.5 1558.4,1167.8 1558.9,1183.7 1559.4,1175.7 1559.9,1181.2 1560.4,1170.7 1560.9,1175.4 1561.4,1177.9 1561.9,1181.6 1562.4,1183.6 1562.9,1189.9 1563.4,1180.8 1563.9,1188.7 1564.4,1185.9 1564.9,1187.7 1565.4,1196.2 1565.9,1176.0 1566.4,1203.6 1566.9,1184.6 1567.4,1192.4 1567.9,1187.3 1568.4,1198.9 1568.9,1193.3 1569.4,1189.6 1569.9,1199.9 1570.4,1193.9 1570.9,1204.8 1571.4,1207.8 1571.9,1207.0 1572.4,1201.6 1573.0,1218.4 1573.5,1202.5 1574.0,1210.8 1574.5,1206.8 1575.0,1213.1 1575.5,1216.8 1576.0,1222.8 1576.5,1217.9 1577.0,1219.0 1577.5,1221.6 1578.0,1231.1 1578.5,1220.7 1579.0,1215.8 1579.5,1224.9 1580.0,1234.4 1580.5,1240.0 1581.0,1236.2 1581.5,1225.1 1582.0,1237.9 1582.5,1229.1 1583.0,1221.2 1583.5,1233.8 1584.0,1236.1 1584.5,1238.5 1585.0,1241.1 1585.5,1238.8 1586.0,1238.6 1586.5,1247.6 1587.0,1231.1 1587.5,1248.2 1588.0,1250.6 1588.5,1245.9 1589.0,1248.4 1589.5,1245.3 1590.0,1257.9 1590.5,1250.4 1591.0,1249.4 1591.5,1253.3 1592.0,1246.6 1592.5,1260.7 1593.0,1262.8 1593.5,1255.3 1594.0,1250.2 1594.5,1257.1 1595.0,1254.3 1595.5,1266.8 1596.0,1257.4 1596.5,1261.1 1597.0,1253.7 1597.5,1276.5 1598.0,1280.0 1598.5,1264.7 1599.0,1273.5 1599.5,1268.4 1600.0,1266.6 1600.5,1268.5 1601.1,1277.3 1601.6,1278.1 1602.1,1283.3 1602.6,1280.1 1603.1,1280.5 1603.6,1282.9 1604.1,1286.3 1604.6,1287.1 1605.1,1282.1 1605.6,1288.7 1606.1,1286.8 1606.6,1284.8 1607.1,1287.8 1607.6,1286.6 1608.1,1292.4 1608.6,1294.3 1609.1,1297.8 1609.6,1296.2 1610.1,1292.1 1610.6,1302.7 1611.1,1299.4 1611.6,1299.4 1612.1,1293.9 1612.6,1309.6 1613.1,1310.7 1613.6,1306.8 1614.1,1291.4 1614.6,1309.8 1615.1,1300.1 1615.6,1291.1 1616.1,1304.2 1616.6,1328.4 1617.1,1323.0 1617.6,1308.7 1618.1,1309.7 1618.6,1313.9 1619.1,1310.7 1619.6,1314.6 1620.1,1313.3 1620.6,1312.9 1621.1,1315.0 1621.6,1308.0 1622.1,1304.8 1622.6,1311.8 1623.1,1313.7 1623.6,1311.8 1624.1,1324.7 1624.6,1316.6 1625.1,1318.6 1625.6,1318.2 1626.1,1312.3 1626.6,1314.8 1627.1,1324.1 1627.6,1309.7 1628.1,1317.0 1628.6,1326.1 1629.1,1321.5 1629.7,1319.4 1630.2,1320.5 1630.7,1311.4 1631.2,1306.5 1631.7,1323.2 1632.2,1317.4 1632.7,1313.6 1633.2,1316.0 1633.7,1324.9 1634.2,1326.3 1634.7,1325.1 1635.2,1324.1 1635.7,1325.6 1636.2,1330.0 1636.7,1340.4 1637.2,1341.3 1637.7,1346.2 1638.2,1333.7 1638.7,1338.1 1639.2,1344.0 1639.7,1338.3 1640.2,1342.9 1640.7,1342.6 1641.2,1345.3 1641.7,1337.6 1642.2,1342.3 1642.7,1345.8 1643.2,1337.4 1643.7,1342.4 1644.2,1336.1 1644.7,1347.4 1645.2,1338.2 1645.7,1345.9 1646.2,1335.5 1646.7,1339.0 1647.2,1332.2 1647.7,1332.4 1648.2,1323.2 1648.7,1340.8 1649.2,1335.1 1649.7,1330.2 1650.2,1326.2 1650.7,1332.0 1651.2,1338.7 1651.7,1335.4 1652.2,1325.9 1652.7,1336.9 1653.2,1338.4 1653.7,1343.6 1654.2,1341.0 1654.7,1339.7 1655.2,1341.8 1655.7,1336.9 1656.2,1343.0 1656.7,1342.0 1657.2,1326.6 1657.7,1333.7 1658.3,1346.8 1658.8,1333.7 1659.3,1332.0 1659.8,1329.2 1660.3,1327.4 1660.8,1335.3 1661.3,1349.6 1661.8,1331.8 1662.3,1336.7 1662.8,1342.8 1663.3,1340.0 1663.8,1339.4 1664.3,1343.1 1664.8,1338.0 1665.3,1345.6 1665.8,1340.0 1666.3,1343.9 1666.8,1348.9 1667.3,1341.7 1667.8,1352.0 1668.3,1347.9 1668.8,1353.2 1669.3,1344.3 1669.8,1345.9 1670.3,1338.6 1670.8,1348.4 1671.3,1349.4 1671.8,1337.2 1672.3,1341.0 1672.8,1349.1 1673.3,1357.7 1673.8,1355.9 1674.3,1352.2 1674.8,1346.4 1675.3,1365.2 1675.8,1344.5 1676.3,1362.4 1676.8,1381.1 1677.3,1352.4 1677.8,1353.6 1678.3,1353.0 1678.8,1351.4 1679.3,1360.4 1679.8,1359.2 1680.3,1360.1 1680.8,1361.5 1681.3,1363.0 1681.8,1364.1 1682.3,1367.3 1682.8,1363.1 1683.3,1368.5 1683.8,1369.8 1684.3,1374.6 1684.8,1386.8 1685.3,1378.3 1685.8,1380.4 1686.4,1360.7 1686.9,1355.5 1687.4,1372.6 1687.9,1373.9 1688.4,1366.8 1688.9,1373.4 1689.4,1380.0 1689.9,1380.6 1690.4,1383.1 1690.9,1368.5 1691.4,1373.1 1691.9,1385.2 1692.4,1367.7 1692.9,1383.6 1693.4,1364.2 1693.9,1372.3 1694.4,1384.2 1694.9,1370.3 1695.4,1377.9 1695.9,1389.3 1696.4,1383.0 1696.9,1382.7 1697.4,1375.0 1697.9,1399.6 1698.4,1395.8 1698.9,1396.0 1699.4,1390.0 1699.9,1398.2 1700.4,1388.9 1700.9,1396.7 1701.4,1377.1 1701.9,1375.7 1702.4,1367.6 1702.9,1389.9 1703.4,1380.8 1703.9,1395.6 1704.4,1393.4 1704.9,1383.8 1705.4,1389.4 1705.9,1394.7 1706.4,1403.7 1706.9,1383.3 1707.4,1388.5 1707.9,1389.1 1708.4,1391.7 1708.9,1382.9 1709.4,1390.3 1709.9,1398.1 1710.4,1385.0 1710.9,1398.5 1711.4,1388.5 1711.9,1367.2 1712.4,1378.4 1712.9,1385.4 1713.4,1391.8 1713.9,1378.6 1714.4,1397.5 1715.0,1390.2 1715.5,1396.6 1716.0,1396.0 1716.5,1391.5 1717.0,1395.1 1717.5,1395.6 1718.0,1378.3 1718.5,1399.2 1719.0,1404.7 1719.5,1397.0 1720.0,1395.9 1720.5,1402.3 1721.0,1391.7 1721.5,1375.7 1722.0,1390.9 1722.5,1398.9 1723.0,1400.0 1723.5,1411.6 1724.0,1411.4 1724.5,1405.6 1725.0,1396.1 1725.5,1401.4 1726.0,1397.9 1726.5,1404.3 1727.0,1398.8 1727.5,1387.8 1728.0,1392.3 1728.5,1402.7 1729.0,1402.2 1729.5,1387.6 1730.0,1399.0 1730.5,1394.7 1731.0,1395.9 1731.5,1390.2 1732.0,1405.1 1732.5,1401.9 1733.0,1395.4 1733.5,1385.0 1734.0,1403.8 1734.5,1397.2 1735.0,1399.5 1735.5,1404.4 1736.0,1401.5 1736.5,1398.6 1737.0,1404.0 1737.5,1408.2 1738.0,1398.1 1738.5,1399.4 1739.0,1393.6 1739.5,1399.7 1740.0,1396.1 1740.5,1400.2 1741.0,1402.9 1741.5,1405.8 1742.0,1397.5 1742.5,1396.8 1743.0,1404.9 1743.6,1399.6 1744.1,1401.7 1744.6,1396.8 1745.1,1403.9 1745.6,1400.7 1746.1,1398.1 1746.6,1397.0 1747.1,1413.8 1747.6,1407.8 1748.1,1409.9 1748.6,1395.3 1749.1,1405.1 1749.6,1408.2 1750.1,1397.2 1750.6,1393.5 1751.1,1402.8 1751.6,1404.7 1752.1,1396.6 1752.6,1405.5 1753.1,1408.3 1753.6,1394.7 1754.1,1395.0 1754.6,1396.4 1755.1,1391.0 1755.6,1394.0 1756.1,1397.4 1756.6,1401.2 1757.1,1405.7 1757.6,1402.0 1758.1,1407.5 1758.6,1411.3 1759.1,1410.5 1759.6,1404.6 1760.1,1403.5 1760.6,1403.3 1761.1,1406.4 1761.6,1412.7 1762.1,1403.4 1762.6,1394.6 1763.1,1423.3 1763.6,1411.3 1764.1,1408.4 1764.6,1403.6 1765.1,1413.7 1765.6,1387.5 1766.1,1393.3 1766.6,1389.1 1767.1,1413.9 1767.6,1404.1 1768.1,1401.6 1768.6,1414.0 1769.1,1403.6 1769.6,1414.4 1770.1,1400.6 1770.6,1416.2 1771.1,1416.0 1771.7,1414.2 1772.2,1395.5 1772.7,1400.7 1773.2,1402.7 1773.7,1401.0 1774.2,1409.2 1774.7,1405.9 1775.2,1407.1 1775.7,1414.7 1776.2,1408.9 1776.7,1413.7 1777.2,1405.4 1777.7,1399.4 1778.2,1406.6 1778.7,1403.4 1779.2,1407.4 1779.7,1407.4 1780.2,1408.9 1780.7,1402.1 1781.2,1410.0 1781.7,1413.8 1782.2,1412.2 1782.7,1412.7 1783.2,1416.6 1783.7,1410.8 1784.2,1405.4 1784.7,1395.5 1785.2,1408.4 1785.7,1400.9 1786.2,1402.7 1786.7,1410.3 1787.2,1407.6 1787.7,1404.3 1788.2,1413.6 1788.7,1400.1 1789.2,1403.9 1789.7,1401.6 1790.2,1402.0 1790.7,1405.9 1791.2,1391.5 1791.7,1397.1 1792.2,1404.1 1792.7,1399.9 1793.2,1406.5 1793.7,1404.8 1794.2,1405.7 1794.7,1399.1 1795.2,1404.2 1795.7,1400.7 1796.2,1399.8 1796.7,1404.6 1797.2,1400.3 1797.7,1404.3 1798.2,1406.8 1798.7,1413.2 1799.2,1410.4 1799.7,1412.8 1800.3,1403.8 1800.8,1386.4 1801.3,1388.0 1801.8,1386.0 1802.3,1400.4 1802.8,1402.5 1803.3,1400.3 1803.8,1403.4 1804.3,1398.8 1804.8,1408.7 1805.3,1407.1 1805.8,1405.3 1806.3,1406.1 1806.8,1385.4 1807.3,1392.1 1807.8,1413.4 1808.3,1416.9 1808.8,1402.1 1809.3,1406.5 1809.8,1415.2 1810.3,1416.5 1810.8,1430.7 1811.3,1411.1 1811.8,1399.8 1812.3,1404.8 1812.8,1401.2 1813.3,1400.6 1813.8,1401.3 1814.3,1429.9 1814.8,1405.5 1815.3,1388.9 1815.8,1398.1 1816.3,1411.8 1816.8,1416.2 1817.3,1412.3 1817.8,1413.4 1818.3,1409.6 1818.8,1411.9 1819.3,1409.0 1819.8,1412.1 1820.3,1435.9 1820.8,1419.9 1821.3,1423.3 1821.8,1419.4 1822.3,1411.2 1822.8,1415.0 1823.3,1422.6 1823.8,1421.2 1824.3,1420.9 1824.8,1410.2 1825.3,1429.2 1825.8,1408.4 1826.3,1416.3 1826.8,1407.7 1827.3,1406.3 1827.8,1419.6 1828.3,1412.7 1828.9,1418.2 1829.4,1411.9 1829.9,1409.8 1830.4,1421.8 1830.9,1413.9 1831.4,1410.4 1831.9,1403.9 1832.4,1407.9 1832.9,1406.2 1833.4,1416.9 1833.9,1412.7 1834.4,1416.6 1834.9,1421.0 1835.4,1412.6 1835.9,1411.3 1836.4,1415.3 1836.9,1423.4 1837.4,1412.6 1837.9,1416.9 1838.4,1415.5 1838.9,1422.5 1839.4,1411.5 1839.9,1421.9 1840.4,1421.0 1840.9,1413.9 1841.4,1414.9 1841.9,1416.2 1842.4,1409.1 1842.9,1415.1 1843.4,1414.3 1843.9,1415.8 1844.4,1421.7 1844.9,1431.3 1845.4,1403.3 1845.9,1400.9 1846.4,1408.9 1846.9,1421.6 1847.4,1402.5 1847.9,1403.6 1848.4,1400.9 1848.9,1406.1 1849.4,1411.0 1849.9,1397.6 1850.4,1395.1 1850.9,1401.5 1851.4,1403.0 1851.9,1398.3 1852.4,1406.1 1852.9,1398.5 1853.4,1401.1 1853.9,1401.8 1854.4,1404.1 1854.9,1406.9 1855.4,1412.3 1855.9,1403.3 1856.4,1406.1 1857.0,1414.9 1857.5,1408.3 1858.0,1409.3 1858.5,1407.7 1859.0,1418.3 1859.5,1410.1 1860.0,1408.5 1860.5,1409.4 1861.0,1415.6 1861.5,1413.4 1862.0,1407.7 1862.5,1412.8 1863.0,1423.7 1863.5,1427.5 1864.0,1426.5 1864.5,1410.2 1865.0,1428.7 1865.5,1424.1 1866.0,1407.2 1866.5,1408.1 1867.0,1412.6 1867.5,1404.0 1868.0,1409.3 1868.5,1402.5 1869.0,1416.8 1869.5,1402.2 1870.0,1406.1 1870.5,1405.1 1871.0,1401.3" fill="none" stroke="#0000ff" stroke-width="3.8" stroke-linejoin="miter" stroke-miterlimit="2"/>
<polyline clip-path="url(#c3)" points="165.0,1417.7 167.8,1417.7 170.7,1417.7 173.5,1417.7 176.4,1417.7 179.2,1417.6 182.1,1417.6 184.9,1417.6 187.8,1417.5 190.6,1417.5 193.5,1417.4 196.3,1417.4 199.2,1417.3 202.0,1417.2 204.9,1417.2 207.7,1417.1 210.6,1417.0 213.4,1416.9 216.3,1416.9 219.1,1416.8 222.0,1416.7 224.8,1416.6 227.7,1416.5 230.5,1416.4 233.4,1416.3 236.2,1416.2 239.1,1416.1 241.9,1416.0 244.8,1415.8 247.6,1415.7 250.5,1415.6 253.3,1415.5 256.2,1415.4 259.0,1415.2 261.9,1415.1 264.7,1415.0 267.6,1414.9 270.4,1414.7 273.3,1414.5 276.1,1414.3 279.0,1414.1 281.8,1413.9 284.7,1413.7 287.5,1413.4 290.4,1413.1 293.2,1412.9 296.1,1412.6 298.9,1412.2 301.7,1411.9 304.6,1411.6 307.4,1411.2 310.3,1410.9 313.1,1410.5 316.0,1410.1 318.8,1409.7 321.7,1409.3 324.5,1408.9 327.4,1408.4 330.2,1407.8 333.1,1407.3 335.9,1406.6 338.8,1405.9 341.6,1405.1 344.5,1404.2 347.3,1403.0 350.2,1401.6 353.0,1400.0 355.9,1398.3 358.7,1396.5 361.6,1394.6 364.4,1392.8 367.3,1391.0 370.1,1389.1 373.0,1387.2 375.8,1385.2 378.7,1383.1 381.5,1380.9 384.4,1378.5 387.2,1376.0 390.1,1373.3 392.9,1370.5 395.8,1367.3 398.6,1363.7 401.5,1359.4 404.3,1354.7 407.2,1349.7 410.0,1344.3 412.9,1338.2 415.7,1331.5 418.6,1324.0 421.4,1315.4 424.3,1305.4 427.1,1293.5 429.9,1280.6 432.8,1269.0 435.6,1258.0 438.5,1248.3 441.3,1239.7 444.2,1232.0 447.0,1227.4 449.9,1224.7 452.7,1222.9 455.6,1223.1 458.4,1227.4 461.3,1233.8 464.1,1243.6 467.0,1255.8 469.8,1268.1 472.7,1281.2 475.5,1292.6 478.4,1301.9 481.2,1310.0 484.1,1317.6 486.9,1324.4 489.8,1330.8 492.6,1337.3 495.5,1343.9 498.3,1349.8 501.2,1354.6 504.0,1359.0 506.9,1363.0 509.7,1366.6 512.6,1369.6 515.4,1372.1 518.3,1374.3 521.1,1376.2 524.0,1378.0 526.8,1379.7 529.7,1381.2 532.5,1382.6 535.4,1383.9 538.2,1385.3 541.1,1386.8 543.9,1388.7 546.8,1390.3 549.6,1391.0 552.5,1391.0 555.3,1391.0 558.2,1391.0 561.0,1391.0 563.8,1390.9 566.7,1390.9 569.5,1390.9 572.4,1390.8 575.2,1390.8 578.1,1390.7 580.9,1390.7 583.8,1390.6 586.6,1390.5 589.5,1390.5 592.3,1390.4 595.2,1390.3 598.0,1390.2 600.9,1390.1 603.7,1390.0 606.6,1389.9 609.4,1389.6 612.3,1389.1 615.1,1388.5 618.0,1387.8 620.8,1387.0 623.7,1386.1 626.5,1385.1 629.4,1384.1 632.2,1383.0 635.1,1381.9 637.9,1380.8 640.8,1379.7 643.6,1378.5 646.5,1377.3 649.3,1375.9 652.2,1374.4 655.0,1372.7 657.9,1371.0 660.7,1369.1 663.6,1367.1 666.4,1364.9 669.3,1362.3 672.1,1359.6 675.0,1356.5 677.8,1353.3 680.7,1349.8 683.5,1346.2 686.4,1342.5 689.2,1338.6 692.0,1334.5 694.9,1330.1 697.7,1325.3 700.6,1320.3 703.4,1315.0 706.3,1309.4 709.1,1303.6 712.0,1297.2 714.8,1290.4 717.7,1283.1 720.5,1275.1 723.4,1266.0 726.2,1256.0 729.1,1245.7 731.9,1235.4 734.8,1224.7 737.6,1213.9 740.5,1202.7 743.3,1191.2 746.2,1181.5 749.0,1174.8 751.9,1168.3 754.7,1158.8 757.6,1150.4 760.4,1148.7 763.3,1149.0 766.1,1149.5 769.0,1150.2 771.8,1152.6 774.7,1156.3 777.5,1161.4 780.4,1168.4 783.2,1176.3 786.1,1185.4 788.9,1195.4 791.8,1205.2 794.6,1215.1 797.5,1225.1 800.3,1235.1 803.2,1245.1 806.0,1255.1 808.9,1265.5 811.7,1275.9 814.6,1284.8 817.4,1292.3 820.3,1299.1 823.1,1305.2 825.9,1310.8 828.8,1315.9 831.6,1320.6 834.5,1325.1 837.3,1329.1 840.2,1333.0 843.0,1336.7 845.9,1340.7 848.7,1345.1 851.6,1349.4 854.4,1353.0 857.3,1356.3 860.1,1359.5 863.0,1362.6 865.8,1365.5 868.7,1368.4 871.5,1371.1 874.4,1373.7 877.2,1376.1 880.1,1378.3 882.9,1380.3 885.8,1382.1 888.6,1383.6 891.5,1385.0 894.3,1386.3 897.2,1387.6 900.0,1388.8 902.9,1390.0 905.7,1391.1 908.6,1392.2 911.4,1393.2 914.3,1394.2 917.1,1395.1 920.0,1396.0 922.8,1396.9 925.7,1397.7 928.5,1398.4 931.4,1399.2 934.2,1399.8 937.1,1400.5 939.9,1401.1 942.8,1401.7 945.6,1402.3 948.5,1402.8 951.3,1403.3 954.1,1403.8 957.0,1404.2 959.8,1404.7 962.7,1405.1 965.5,1405.6 968.4,1406.0 971.2,1406.4 974.1,1406.8 976.9,1407.2 979.8,1407.5 982.6,1407.9 985.5,1408.2 988.3,1408.5 991.2,1408.8 994.0,1409.1 996.9,1409.3 999.7,1409.5 1002.6,1409.7 1005.4,1409.9 1008.3,1410.0 1011.1,1410.1 1014.0,1410.3 1016.8,1410.4 1019.7,1410.5 1022.5,1410.6 1025.4,1410.8 1028.2,1410.9 1031.1,1411.0 1033.9,1411.1 1036.8,1411.2 1039.6,1411.3 1042.5,1411.4 1045.3,1411.5 1048.2,1411.5 1051.0,1411.6 1053.9,1411.7 1056.7,1411.8 1059.6,1411.8 1062.4,1411.9 1065.3,1411.9 1068.1,1411.9 1071.0,1412.0 1073.8,1412.0 1076.7,1412.0 1079.5,1412.0 1082.4,1412.0 1085.2,1412.0 1088.0,1412.0 1090.9,1412.0 1093.7,1411.9 1096.6,1411.9 1099.4,1411.9 1102.3,1411.8 1105.1,1411.8 1108.0,1411.7 1110.8,1411.7 1113.7,1411.6 1116.5,1411.6 1119.4,1411.5 1122.2,1411.5 1125.1,1411.4 1127.9,1411.3 1130.8,1411.3 1133.6,1411.2 1136.5,1411.1 1139.3,1411.0 1142.2,1411.0 1145.0,1410.9 1147.9,1410.8 1150.7,1410.7 1153.6,1410.6 1156.4,1410.6 1159.3,1410.5 1162.1,1410.4 1165.0,1410.3 1167.8,1410.2 1170.7,1410.1 1173.5,1410.0 1176.4,1409.9 1179.2,1409.8 1182.1,1409.8 1184.9,1409.7 1187.8,1409.6 1190.6,1409.5 1193.5,1409.4 1196.3,1409.3 1199.2,1409.2 1202.0,1409.2 1204.9,1409.1 1207.7,1409.0 1210.6,1408.9 1213.4,1408.8 1216.2,1408.7 1219.1,1408.6 1221.9,1408.5 1224.8,1408.4 1227.6,1408.3 1230.5,1408.2 1233.3,1408.1 1236.2,1408.0 1239.0,1407.9 1241.9,1407.8 1244.7,1407.7 1247.6,1407.5 1250.4,1407.4 1253.3,1407.3 1256.1,1407.1 1259.0,1407.0 1261.8,1406.8 1264.7,1406.6 1267.5,1406.5 1270.4,1406.3 1273.2,1406.1 1276.1,1405.9 1278.9,1405.7 1281.8,1405.5 1284.6,1405.3 1287.5,1405.0 1290.3,1404.7 1293.2,1404.4 1296.0,1404.0 1298.9,1403.5 1301.7,1403.1 1304.6,1402.6 1307.4,1402.1 1310.3,1401.5 1313.1,1401.0 1316.0,1400.4 1318.8,1399.7 1321.7,1399.1 1324.5,1398.4 1327.4,1397.7 1330.2,1397.0 1333.1,1396.3 1335.9,1395.5 1338.8,1394.8 1341.6,1394.0 1344.5,1393.2 1347.3,1392.4 1350.1,1391.6 1353.0,1390.7 1355.8,1389.7 1358.7,1388.6 1361.5,1387.5 1364.4,1386.4 1367.2,1385.1 1370.1,1383.9 1372.9,1382.6 1375.8,1381.2 1378.6,1379.9 1381.5,1378.4 1384.3,1377.0 1387.2,1375.5 1390.0,1374.0 1392.9,1372.5 1395.7,1371.0 1398.6,1369.4 1401.4,1367.9 1404.3,1366.3 1407.1,1364.7 1410.0,1363.0 1412.8,1361.2 1415.7,1359.2 1418.5,1357.0 1421.4,1354.6 1424.2,1351.8 1427.1,1348.6 1429.9,1345.1 1432.8,1341.4 1435.6,1337.5 1438.5,1333.4 1441.3,1329.3 1444.2,1325.1 1447.0,1321.0 1449.9,1316.9 1452.7,1312.8 1455.6,1308.5 1458.4,1304.0 1461.3,1299.3 1464.1,1294.4 1467.0,1289.2 1469.8,1283.7 1472.7,1277.7 1475.5,1271.1 1478.3,1263.6 1481.2,1255.3 1484.0,1246.7 1486.9,1238.0 1489.7,1229.0 1492.6,1219.8 1495.4,1210.9 1498.3,1202.5 1501.1,1194.4 1504.0,1186.6 1506.8,1179.2 1509.7,1172.4 1512.5,1165.8 1515.4,1159.6 1518.2,1154.1 1521.1,1149.1 1523.9,1143.8 1526.8,1138.9 1529.6,1135.1 1532.5,1133.2 1535.3,1133.4 1538.2,1134.3 1541.0,1135.6 1543.9,1137.1 1546.7,1139.6 1549.6,1143.2 1552.4,1147.4 1555.3,1152.8 1558.1,1159.8 1561.0,1167.7 1563.8,1175.7 1566.7,1184.1 1569.5,1192.9 1572.4,1201.7 1575.2,1210.2 1578.1,1218.8 1580.9,1227.3 1583.8,1235.8 1586.6,1244.5 1589.5,1253.2 1592.3,1261.4 1595.2,1269.2 1598.0,1276.6 1600.9,1283.5 1603.7,1289.8 1606.6,1295.7 1609.4,1301.2 1612.2,1306.3 1615.1,1311.1 1617.9,1315.7 1620.8,1320.0 1623.6,1324.0 1626.5,1327.9 1629.3,1331.7 1632.2,1335.4 1635.0,1339.0 1637.9,1342.6 1640.7,1346.2 1643.6,1349.6 1646.4,1352.8 1649.3,1355.9 1652.1,1358.7 1655.0,1361.2 1657.8,1363.7 1660.7,1366.0 1663.5,1368.2 1666.4,1370.2 1669.2,1372.1 1672.1,1373.9 1674.9,1375.5 1677.8,1377.1 1680.6,1378.6 1683.5,1380.1 1686.3,1381.5 1689.2,1382.9 1692.0,1384.3 1694.9,1385.5 1697.7,1386.8 1700.6,1387.9 1703.4,1389.0 1706.3,1390.1 1709.1,1391.0 1712.0,1391.9 1714.8,1392.7 1717.7,1393.5 1720.5,1394.3 1723.4,1395.1 1726.2,1395.8 1729.1,1396.5 1731.9,1397.2 1734.8,1397.9 1737.6,1398.5 1740.4,1399.1 1743.3,1399.7 1746.1,1400.3 1749.0,1400.8 1751.8,1401.3 1754.7,1401.7 1757.5,1402.1 1760.4,1402.4 1763.2,1402.7 1766.1,1403.0 1768.9,1403.2 1771.8,1403.5 1774.6,1403.7 1777.5,1403.9 1780.3,1404.1 1783.2,1404.3 1786.0,1404.6 1788.9,1404.8 1791.7,1405.0 1794.6,1405.2 1797.4,1405.3 1800.3,1405.5 1803.1,1405.7 1806.0,1405.9 1808.8,1406.1 1811.7,1406.2 1814.5,1406.4 1817.4,1406.5 1820.2,1406.7 1823.1,1406.8 1825.9,1406.9 1828.8,1407.1 1831.6,1407.2 1834.5,1407.3 1837.3,1407.4 1840.2,1407.5 1843.0,1407.6 1845.9,1407.6 1848.7,1407.7 1851.6,1407.8 1854.4,1407.8 1857.3,1407.9 1860.1,1407.9 1863.0,1408.0 1865.8,1408.0 1868.7,1408.0 1871.5,1408.0" fill="none" stroke="#111" stroke-width="3"/></g>
<rect x="165.0" y="1032.0" width="1706.5" height="446.79999999999995" fill="none" stroke="#1e1e1e" stroke-width="3.8"/>
<path d="M165.0,1027.5V1032.0M1871.5,1027.5V1032.0" stroke="#1e1e1e" stroke-width="3.8"/>
<line x1="165.0" y1="1478.8" x2="165.0" y2="1501.8" stroke="#1e1e1e" stroke-width="4.4"/>
<line x1="376.8" y1="1478.8" x2="376.8" y2="1490.3" stroke="#1e1e1e" stroke-width="4.4"/>
<line x1="593.3" y1="1478.8" x2="593.3" y2="1501.8" stroke="#1e1e1e" stroke-width="4.4"/>
<line x1="805.8" y1="1478.8" x2="805.8" y2="1490.3" stroke="#1e1e1e" stroke-width="4.4"/>
<line x1="1018.3" y1="1478.8" x2="1018.3" y2="1501.8" stroke="#1e1e1e" stroke-width="4.4"/>
<line x1="1231.2" y1="1478.8" x2="1231.2" y2="1490.3" stroke="#1e1e1e" stroke-width="4.4"/>
<line x1="1446.6" y1="1478.8" x2="1446.6" y2="1501.8" stroke="#1e1e1e" stroke-width="4.4"/>
<line x1="1659.5" y1="1478.8" x2="1659.5" y2="1490.3" stroke="#1e1e1e" stroke-width="4.4"/>
<line x1="1871.5" y1="1478.8" x2="1871.5" y2="1501.8" stroke="#1e1e1e" stroke-width="4.4"/>
<text x="176.16 218.57 257.58 267.83 299.07 325.43 360.47 390.97 416.97 447.83 490.53 522.97 555.83 575.93 590.0 609.67" y="76.8" font-size="55.5" fill="#00ae3c" stroke="#00ae3c" stroke-width="0.5" style="white-space:pre">RS nanocomposite</text>
<text x="173.7 213.7 258.87 270.93 302.17 328.53 363.57 394.07 420.07 450.93 493.63 526.07 558.93 579.03 593.1 612.77" y="579.6" font-size="55.5" fill="#ff1010" stroke="#ff1010" stroke-width="0.5" style="white-space:pre">CO nanocomposite</text>
<text x="170.4 215.27 254.28 263.53 295.27 322.93 356.67 387.27 413.27 444.13 486.83 519.27 552.13 572.23 586.3 605.97" y="1085.4" font-size="55.5" fill="#1414ff" stroke="#1414ff" stroke-width="0.5" style="white-space:pre">OS nanocomposite</text>
<text x="400.1" y="246.0" font-size="51.21" fill="#333333" style="white-space:pre" textLength="116.56" lengthAdjust="spacingAndGlyphs" >(111)</text>
<text x="704.57" y="187.0" font-size="51.21" fill="#333333" style="white-space:pre" textLength="115.79" lengthAdjust="spacingAndGlyphs" >(210)</text>
<text x="894.64" y="312.0" font-size="51.21" fill="#333333" style="white-space:pre" textLength="112.56" lengthAdjust="spacingAndGlyphs" >(130)</text>
<text x="1466.53" y="96.1" font-size="51.21" fill="#333333" style="white-space:pre" textLength="145.07" lengthAdjust="spacingAndGlyphs" >(-1-32)</text>
<text x="395.48" y="660.0" font-size="51.21" fill="#333333" style="white-space:pre" textLength="117.71" lengthAdjust="spacingAndGlyphs" >(111)</text>
<text x="699.7" y="646.0" font-size="51.21" fill="#333333" style="white-space:pre" textLength="114.33" lengthAdjust="spacingAndGlyphs" >(210)</text>
<text x="890.74" y="771.5" font-size="51.21" fill="#333333" style="white-space:pre" textLength="112.76" lengthAdjust="spacingAndGlyphs" >(130)</text>
<text x="1474.13" y="587.0" font-size="51.21" fill="#333333" style="white-space:pre" textLength="145.07" lengthAdjust="spacingAndGlyphs" >(-1-32)</text>
<text x="395.53" y="1198.8" font-size="51.21" fill="#333333" style="white-space:pre" textLength="114.99" lengthAdjust="spacingAndGlyphs" >(111)</text>
<text x="688.71" y="1125.0" font-size="51.21" fill="#333333" style="white-space:pre" textLength="113.81" lengthAdjust="spacingAndGlyphs" >(210)</text>
<text x="876.24" y="1318.5" font-size="51.21" fill="#333333" style="white-space:pre" textLength="112.76" lengthAdjust="spacingAndGlyphs" >(130)</text>
<text x="1458.94" y="1099.9" font-size="51.21" fill="#333333" style="white-space:pre" textLength="144.55" lengthAdjust="spacingAndGlyphs" >(-1-32)</text>
<text x="131.3" y="1562.0" font-size="56.9" fill="#333333" style="white-space:pre" textLength="61.68" lengthAdjust="spacingAndGlyphs" >20</text>
<text x="557.94" y="1562.0" font-size="56.9" fill="#333333" style="white-space:pre" textLength="62.77" lengthAdjust="spacingAndGlyphs" >30</text>
<text x="987.14" y="1562.0" font-size="56.9" fill="#333333" style="white-space:pre" textLength="61.23" lengthAdjust="spacingAndGlyphs" >40</text>
<text x="1415.09" y="1562.0" font-size="56.9" fill="#333333" style="white-space:pre" textLength="60.77" lengthAdjust="spacingAndGlyphs" >50</text>
<text x="1838.41" y="1562.0" font-size="56.9" fill="#333333" style="white-space:pre" textLength="61.57" lengthAdjust="spacingAndGlyphs" >60</text>
<text x="834.14" y="1652.5" font-size="83.21" fill="#000000" stroke="#000000" stroke-width="0.5" style="white-space:pre" textLength="448.72" lengthAdjust="spacingAndGlyphs" >2θ  (degree)</text>
<text x="0" y="0" font-size="81.22" fill="#000000" stroke="#000000" stroke-width="0.5" style="white-space:pre" textLength="511.98" lengthAdjust="spacingAndGlyphs" transform="translate(76.70,1012.10) rotate(-90)">Intensity (a.u)</text>
</g></svg></body></html>
